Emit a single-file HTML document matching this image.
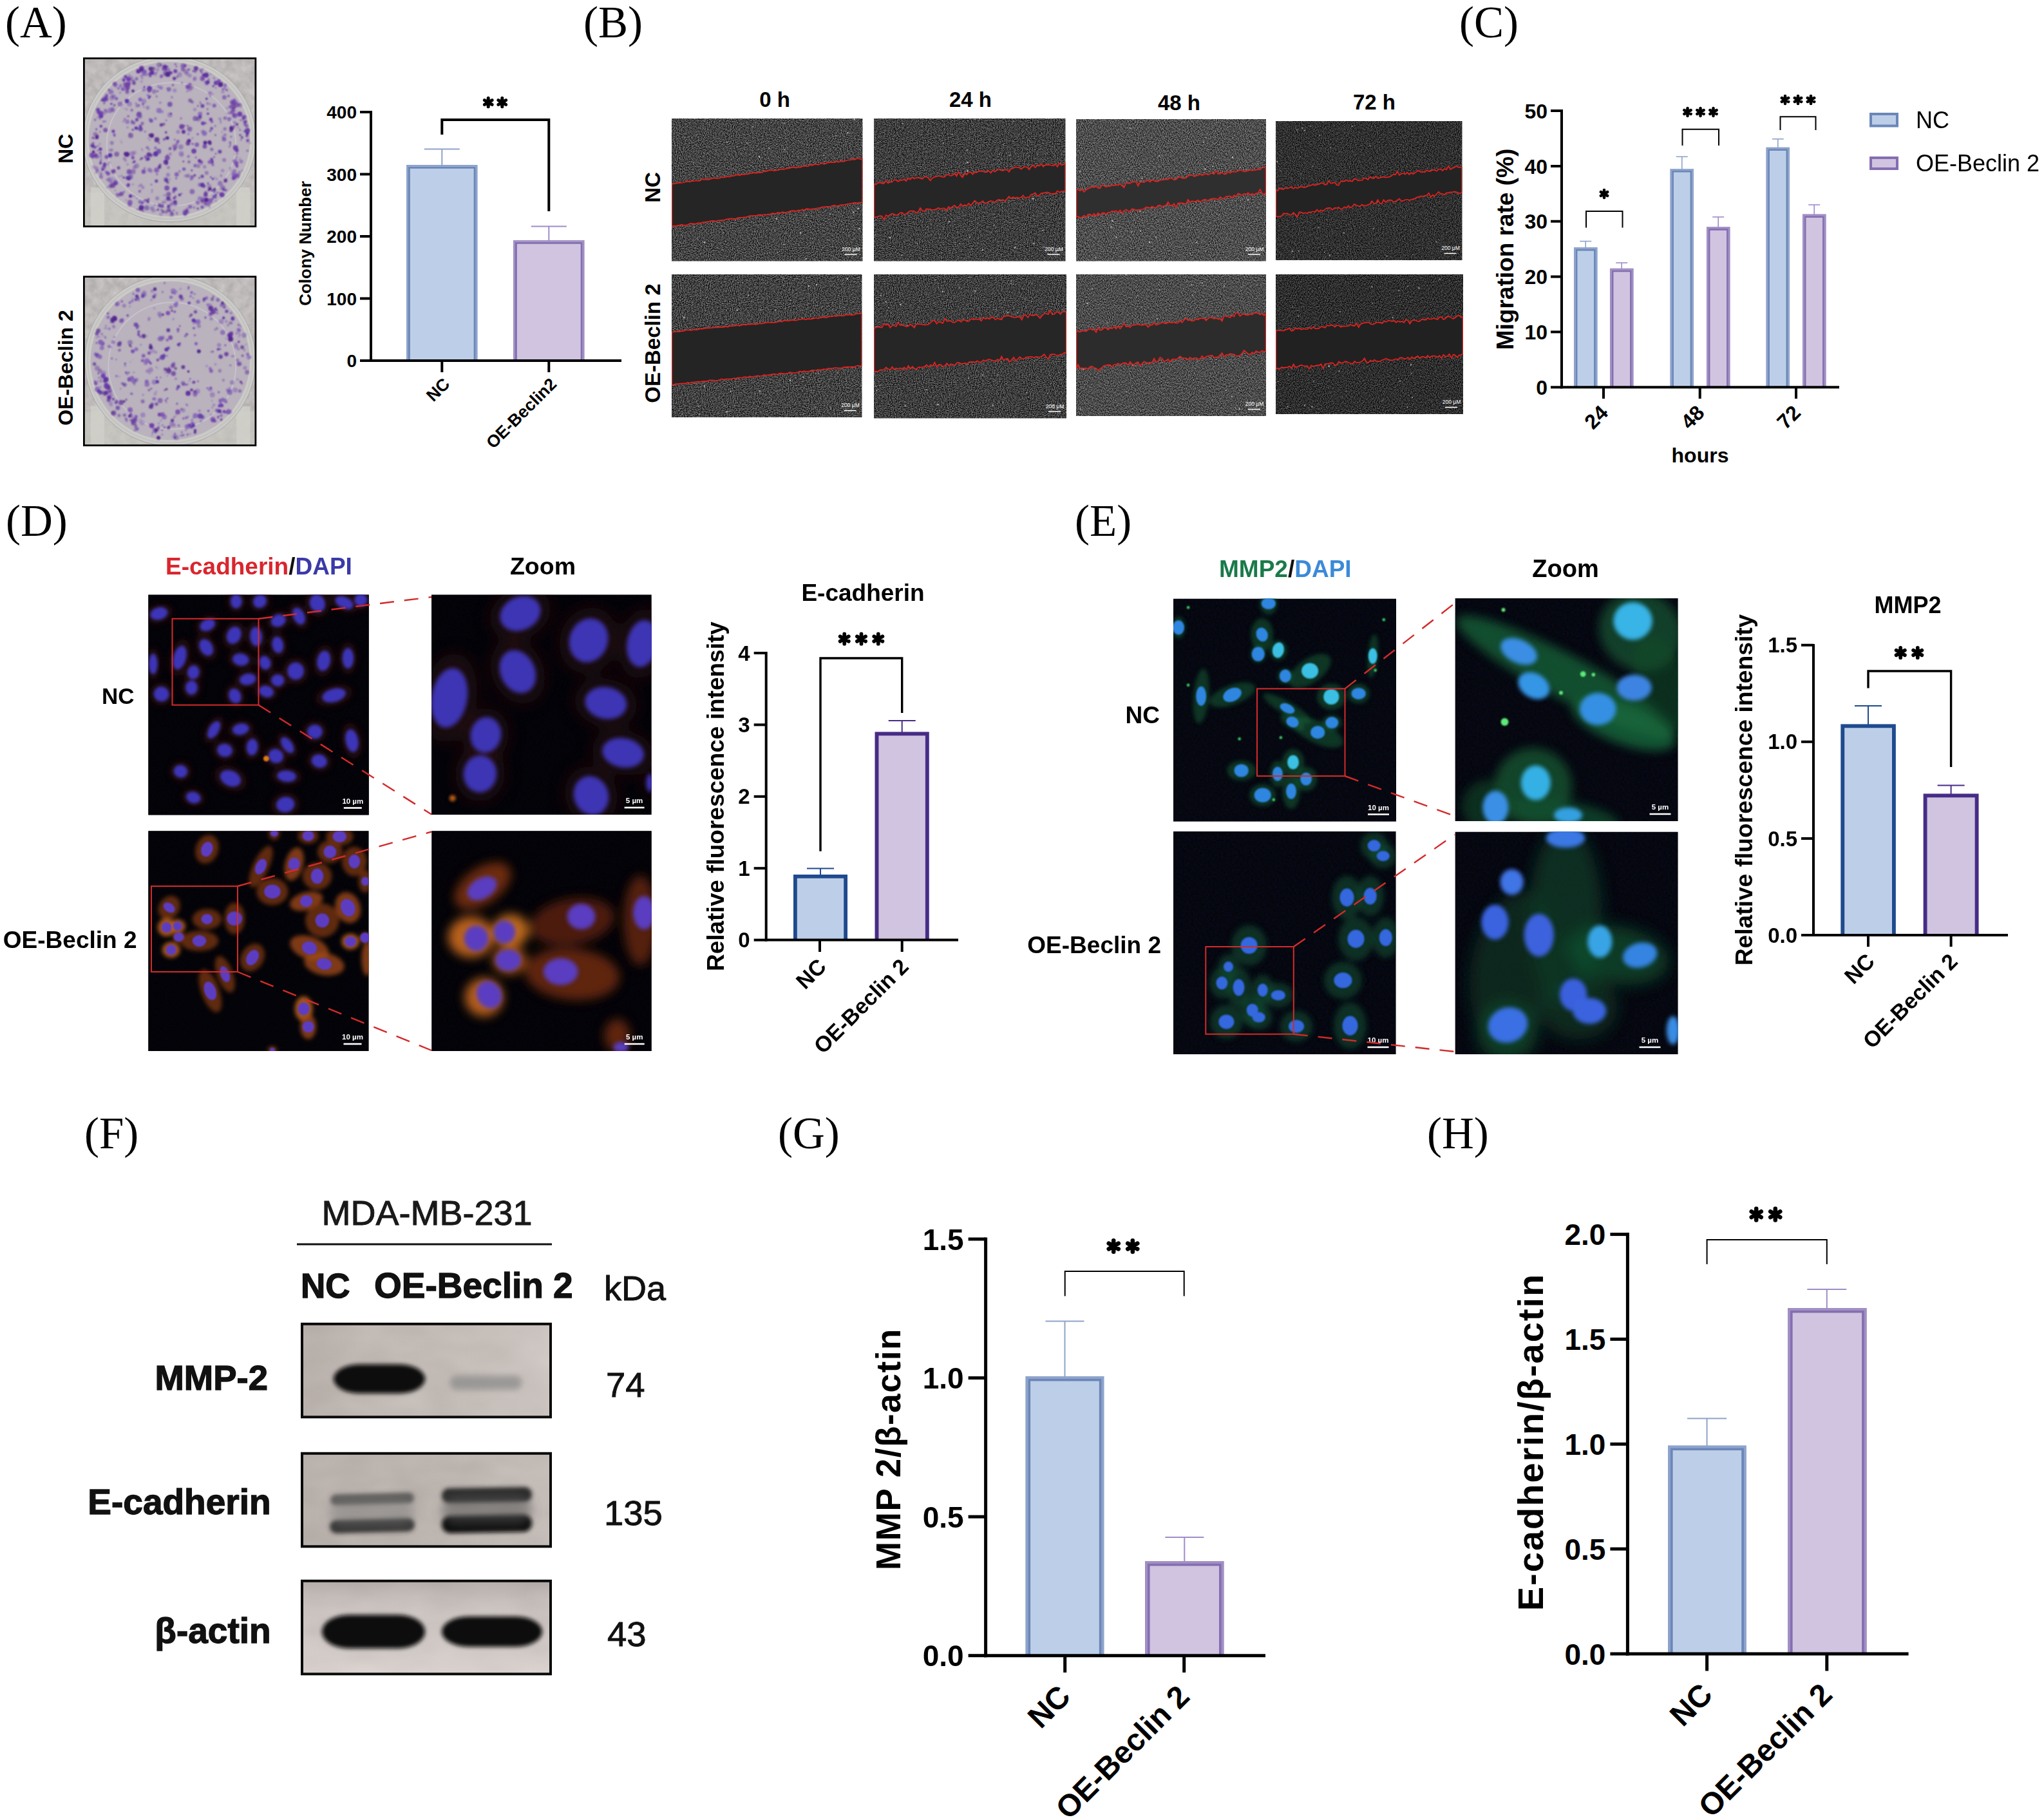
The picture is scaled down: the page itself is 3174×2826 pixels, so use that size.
<!DOCTYPE html>
<html><head><meta charset="utf-8"><title>Figure</title>
<style>html,body{margin:0;padding:0;background:#fff}svg{display:block}text{font-kerning:normal}</style>
</head><body>
<svg width="3174" height="2826" viewBox="0 0 3174 2826">
<rect x="0" y="0" width="3174" height="2826" fill="#ffffff"/>
<defs>
<filter id="nzA" x="0" y="0" width="100%" height="100%" color-interpolation-filters="sRGB">
  <feTurbulence type="fractalNoise" baseFrequency="0.75" numOctaves="2" seed="3"/>
  <feColorMatrix type="matrix" values="2.4 0 0 0 -0.88  2.4 0 0 0 -0.88  2.4 0 0 0 -0.88  0 0 0 0 1"/>
</filter>
<filter id="nzB" x="0" y="0" width="100%" height="100%" color-interpolation-filters="sRGB">
  <feTurbulence type="fractalNoise" baseFrequency="0.75" numOctaves="2" seed="11"/>
  <feColorMatrix type="matrix" values="2.0 0 0 0 -0.76  2.0 0 0 0 -0.76  2.0 0 0 0 -0.76  0 0 0 0 1"/>
</filter>
<filter id="nzC" x="0" y="0" width="100%" height="100%" color-interpolation-filters="sRGB">
  <feTurbulence type="fractalNoise" baseFrequency="0.75" numOctaves="2" seed="23"/>
  <feColorMatrix type="matrix" values="2.6 0 0 0 -0.92  2.6 0 0 0 -0.92  2.6 0 0 0 -0.92  0 0 0 0 1"/>
</filter>
<filter id="nzDark" x="0" y="0" width="100%" height="100%" color-interpolation-filters="sRGB">
  <feTurbulence type="fractalNoise" baseFrequency="0.35" numOctaves="2" seed="5"/>
  <feColorMatrix type="matrix" values="0.035 0 0 0 0  0 0.03 0 0 0  0 0 0.075 0 0  0 0 0 0 1"/>
</filter>
<filter id="nzDarkG" x="0" y="0" width="100%" height="100%" color-interpolation-filters="sRGB">
  <feTurbulence type="fractalNoise" baseFrequency="0.30" numOctaves="2" seed="8"/>
  <feColorMatrix type="matrix" values="0.05 0 0 0 0  0 0.065 0 0 0  0 0 0.14 0 0  0 0 0 0 1"/>
</filter>
<filter id="nzDish" x="0" y="0" width="100%" height="100%" color-interpolation-filters="sRGB">
  <feTurbulence type="fractalNoise" baseFrequency="0.08" numOctaves="3" seed="2"/>
  <feColorMatrix type="matrix" values="0.3 0 0 0 0.60  0.3 0 0 0 0.59  0.3 0 0 0 0.59  0 0 0 0 1"/>
</filter>
<filter id="nzBlot" x="0" y="0" width="100%" height="100%" color-interpolation-filters="sRGB">
  <feTurbulence type="fractalNoise" baseFrequency="0.015 0.03" numOctaves="2" seed="4"/>
  <feColorMatrix type="matrix" values="0.5 0 0 0 0.55  0.5 0 0 0 0.55  0.5 0 0 0 0.55  0 0 0 0 1"/>
</filter>
<filter id="b1" x="-30%" y="-30%" width="160%" height="160%"><feGaussianBlur stdDeviation="1"/></filter>
<filter id="b2" x="-30%" y="-30%" width="160%" height="160%"><feGaussianBlur stdDeviation="2"/></filter>
<filter id="b3" x="-30%" y="-30%" width="160%" height="160%"><feGaussianBlur stdDeviation="3.2"/></filter>
<filter id="b5" x="-40%" y="-40%" width="180%" height="180%"><feGaussianBlur stdDeviation="5"/></filter>
<filter id="b8" x="-50%" y="-50%" width="200%" height="200%"><feGaussianBlur stdDeviation="8"/></filter>
<filter id="b12" x="-50%" y="-50%" width="200%" height="200%"><feGaussianBlur stdDeviation="12"/></filter>
</defs>
<text x="8.0" y="58.0" font-family='"Liberation Serif", serif' font-size="69" font-weight="normal" text-anchor="start" fill="#000" >(A)</text>
<clipPath id="cdA1"><rect x="130" y="90" width="266.5" height="261"/></clipPath>
<g clip-path="url(#cdA1)">
<rect x="130.0" y="90.0" width="266.5" height="261.0" fill="#bab7b5" stroke="none" stroke-width="0" />
<rect x="130.0" y="90.0" width="266.5" height="261.0" fill="#000" stroke="none" stroke-width="0" filter="url(#nzDish)" opacity="0.5"/>
<rect x="130.0" y="298.8" width="266.5" height="52.2" fill="#c9c9c2" stroke="none" stroke-width="0" opacity="0.6"/>
<rect x="140.7" y="291.0" width="21.3" height="60.0" fill="#d2d2cb" stroke="none" stroke-width="0" opacity="0.75"/>
<rect x="367.2" y="291.0" width="21.3" height="60.0" fill="#d2d2cb" stroke="none" stroke-width="0" opacity="0.75"/>
<ellipse cx="263.0" cy="216.0" rx="134.4" ry="128.8" fill="#cbcbc5" stroke="#a9a5ae" stroke-width="1"/>
<ellipse cx="263.0" cy="216.0" rx="129.9" ry="124.3" fill="none" stroke="#c3c0c6" stroke-width="2"/>
<ellipse cx="263.0" cy="216.0" rx="125.4" ry="119.8" fill="#bab3be"/>
<ellipse cx="266.0" cy="224.0" rx="100.3" ry="95.8" fill="none" stroke="#d2cdd6" stroke-width="2" opacity="0.55"/>
<g filter="url(#b1)"><circle cx="222.0" cy="161.4" r="1.5" fill="#6331a0" opacity="1.0"/><circle cx="291.9" cy="222.6" r="3.4" fill="#6331a0" opacity="0.85"/><circle cx="292.3" cy="219.1" r="2.7" fill="#6331a0" opacity="0.68"/><circle cx="161.7" cy="160.4" r="1.2" fill="#5c34a6" opacity="1.0"/><circle cx="339.9" cy="125.5" r="2.6" fill="#7040ac" opacity="0.85"/><circle cx="224.3" cy="134.9" r="1.5" fill="#5c34a6" opacity="1.0"/><circle cx="332.6" cy="243.7" r="1.2" fill="#7040ac" opacity="1.0"/><circle cx="363.9" cy="165.7" r="3.0" fill="#7040ac" opacity="0.7"/><circle cx="170.8" cy="171.5" r="3.9" fill="#8460b8" opacity="0.7"/><circle cx="174.7" cy="168.5" r="3.1" fill="#8460b8" opacity="0.56"/><circle cx="155.2" cy="223.2" r="1.2" fill="#5c34a6" opacity="0.4"/><circle cx="224.1" cy="112.0" r="3.9" fill="#8460b8" opacity="1.0"/><circle cx="220.8" cy="110.2" r="3.1" fill="#8460b8" opacity="0.80"/><circle cx="250.8" cy="118.2" r="2.6" fill="#8460b8" opacity="1.0"/><circle cx="249.9" cy="119.5" r="2.1" fill="#8460b8" opacity="0.80"/><circle cx="272.1" cy="231.4" r="1.5" fill="#6331a0" opacity="0.85"/><circle cx="270.4" cy="233.3" r="1.2" fill="#6331a0" opacity="0.68"/><circle cx="320.4" cy="310.5" r="3.4" fill="#55288f" opacity="1.0"/><circle cx="167.9" cy="269.5" r="3.0" fill="#7040ac" opacity="0.85"/><circle cx="165.3" cy="267.4" r="2.4" fill="#7040ac" opacity="0.68"/><circle cx="212.4" cy="185.7" r="2.6" fill="#6331a0" opacity="0.7"/><circle cx="212.7" cy="186.6" r="2.1" fill="#6331a0" opacity="0.56"/><circle cx="307.2" cy="164.5" r="1.2" fill="#5c34a6" opacity="0.85"/><circle cx="211.1" cy="160.3" r="1.2" fill="#6331a0" opacity="0.55"/><circle cx="196.9" cy="169.7" r="1.5" fill="#5c34a6" opacity="0.4"/><circle cx="193.7" cy="168.6" r="1.2" fill="#5c34a6" opacity="0.32"/><circle cx="332.3" cy="305.4" r="2.6" fill="#5c34a6" opacity="0.7"/><circle cx="142.4" cy="241.0" r="3.9" fill="#6331a0" opacity="0.7"/><circle cx="144.4" cy="242.9" r="3.1" fill="#6331a0" opacity="0.56"/><circle cx="294.9" cy="321.3" r="3.0" fill="#5c34a6" opacity="0.55"/><circle cx="196.0" cy="135.6" r="1.5" fill="#5c34a6" opacity="0.7"/><circle cx="283.9" cy="107.9" r="3.0" fill="#5c34a6" opacity="0.55"/><circle cx="313.0" cy="111.8" r="2.2" fill="#5c34a6" opacity="0.55"/><circle cx="145.1" cy="235.8" r="2.2" fill="#55288f" opacity="1.0"/><circle cx="182.1" cy="304.1" r="2.2" fill="#7040ac" opacity="0.4"/><circle cx="334.5" cy="209.7" r="1.2" fill="#55288f" opacity="0.85"/><circle cx="287.6" cy="102.0" r="2.2" fill="#7040ac" opacity="0.85"/><circle cx="355.9" cy="184.8" r="3.4" fill="#8460b8" opacity="0.85"/><circle cx="299.0" cy="214.5" r="1.2" fill="#5c34a6" opacity="0.55"/><circle cx="314.3" cy="122.0" r="3.9" fill="#7040ac" opacity="0.7"/><circle cx="307.0" cy="208.2" r="1.5" fill="#7040ac" opacity="1.0"/><circle cx="261.7" cy="320.3" r="2.6" fill="#7040ac" opacity="1.0"/><circle cx="298.6" cy="157.8" r="1.2" fill="#8460b8" opacity="0.7"/><circle cx="315.0" cy="121.7" r="1.8" fill="#7040ac" opacity="1.0"/><circle cx="269.9" cy="230.7" r="1.2" fill="#7040ac" opacity="0.55"/><circle cx="270.8" cy="227.7" r="1.0" fill="#7040ac" opacity="0.44"/><circle cx="148.7" cy="228.1" r="1.5" fill="#6331a0" opacity="1.0"/><circle cx="146.9" cy="230.2" r="1.2" fill="#6331a0" opacity="0.80"/><circle cx="268.5" cy="132.1" r="1.5" fill="#55288f" opacity="0.85"/><circle cx="232.1" cy="137.5" r="3.9" fill="#5c34a6" opacity="1.0"/><circle cx="175.9" cy="203.8" r="2.6" fill="#7040ac" opacity="1.0"/><circle cx="220.3" cy="231.5" r="1.5" fill="#8460b8" opacity="0.55"/><circle cx="221.6" cy="233.8" r="1.2" fill="#8460b8" opacity="0.44"/><circle cx="238.3" cy="106.8" r="3.0" fill="#55288f" opacity="0.55"/><circle cx="379.1" cy="181.9" r="3.4" fill="#7040ac" opacity="0.85"/><circle cx="160.6" cy="260.9" r="3.4" fill="#8460b8" opacity="0.7"/><circle cx="159.1" cy="262.7" r="2.7" fill="#8460b8" opacity="0.56"/><circle cx="247.0" cy="222.0" r="1.2" fill="#55288f" opacity="0.85"/><circle cx="356.6" cy="165.8" r="2.2" fill="#6331a0" opacity="0.4"/><circle cx="352.9" cy="168.0" r="1.8" fill="#6331a0" opacity="0.32"/><circle cx="206.3" cy="244.8" r="2.6" fill="#7040ac" opacity="0.85"/><circle cx="221.8" cy="290.9" r="2.6" fill="#7040ac" opacity="0.4"/><circle cx="300.3" cy="110.2" r="1.5" fill="#7040ac" opacity="1.0"/><circle cx="303.2" cy="109.8" r="1.2" fill="#7040ac" opacity="0.80"/><circle cx="327.4" cy="185.4" r="2.6" fill="#7040ac" opacity="1.0"/><circle cx="329.1" cy="189.0" r="2.1" fill="#7040ac" opacity="0.80"/><circle cx="314.0" cy="321.5" r="2.6" fill="#5c34a6" opacity="0.7"/><circle cx="292.1" cy="273.1" r="3.0" fill="#55288f" opacity="0.4"/><circle cx="288.3" cy="273.2" r="2.4" fill="#55288f" opacity="0.32"/><circle cx="266.3" cy="332.7" r="3.9" fill="#8460b8" opacity="0.4"/><circle cx="219.3" cy="325.8" r="2.2" fill="#55288f" opacity="0.55"/><circle cx="222.4" cy="327.7" r="1.8" fill="#55288f" opacity="0.44"/><circle cx="327.0" cy="115.5" r="1.2" fill="#55288f" opacity="0.4"/><circle cx="150.8" cy="212.0" r="2.6" fill="#7040ac" opacity="1.0"/><circle cx="259.9" cy="240.9" r="1.2" fill="#55288f" opacity="0.7"/><circle cx="267.2" cy="332.3" r="2.6" fill="#55288f" opacity="0.55"/><circle cx="265.9" cy="329.0" r="2.1" fill="#55288f" opacity="0.44"/><circle cx="263.7" cy="278.3" r="1.2" fill="#55288f" opacity="0.4"/><circle cx="226.2" cy="243.7" r="2.6" fill="#7040ac" opacity="0.7"/><circle cx="229.8" cy="246.5" r="2.1" fill="#7040ac" opacity="0.56"/><circle cx="164.8" cy="150.9" r="3.0" fill="#7040ac" opacity="0.85"/><circle cx="165.7" cy="148.0" r="2.4" fill="#7040ac" opacity="0.68"/><circle cx="159.5" cy="263.1" r="1.8" fill="#5c34a6" opacity="1.0"/><circle cx="219.7" cy="118.0" r="2.2" fill="#6331a0" opacity="0.4"/><circle cx="220.8" cy="121.6" r="1.8" fill="#6331a0" opacity="0.32"/><circle cx="335.0" cy="238.7" r="1.2" fill="#7040ac" opacity="1.0"/><circle cx="144.1" cy="213.9" r="1.5" fill="#6331a0" opacity="1.0"/><circle cx="274.5" cy="330.8" r="2.2" fill="#8460b8" opacity="0.55"/><circle cx="232.1" cy="149.3" r="1.2" fill="#7040ac" opacity="1.0"/><circle cx="229.3" cy="147.3" r="1.0" fill="#7040ac" opacity="0.80"/><circle cx="166.0" cy="174.0" r="1.2" fill="#6331a0" opacity="0.85"/><circle cx="287.6" cy="330.0" r="3.9" fill="#5c34a6" opacity="0.7"/><circle cx="287.3" cy="332.1" r="3.1" fill="#5c34a6" opacity="0.56"/><circle cx="216.5" cy="324.9" r="1.5" fill="#6331a0" opacity="0.85"/><circle cx="213.1" cy="324.9" r="1.2" fill="#6331a0" opacity="0.68"/><circle cx="360.3" cy="162.3" r="2.2" fill="#5c34a6" opacity="0.4"/><circle cx="362.3" cy="160.4" r="1.8" fill="#5c34a6" opacity="0.32"/><circle cx="212.9" cy="163.9" r="2.6" fill="#55288f" opacity="0.4"/><circle cx="216.0" cy="163.8" r="2.1" fill="#55288f" opacity="0.32"/><circle cx="243.6" cy="217.0" r="3.9" fill="#55288f" opacity="0.85"/><circle cx="320.8" cy="268.4" r="3.0" fill="#55288f" opacity="0.4"/><circle cx="364.3" cy="167.8" r="1.2" fill="#55288f" opacity="0.7"/><circle cx="188.6" cy="301.1" r="3.4" fill="#6331a0" opacity="0.7"/><circle cx="185.0" cy="302.4" r="2.7" fill="#6331a0" opacity="0.56"/><circle cx="359.8" cy="199.0" r="3.4" fill="#55288f" opacity="1.0"/><circle cx="358.8" cy="202.6" r="2.7" fill="#55288f" opacity="0.80"/><circle cx="362.9" cy="158.2" r="2.2" fill="#6331a0" opacity="0.4"/><circle cx="314.0" cy="273.8" r="2.6" fill="#6331a0" opacity="0.85"/><circle cx="184.2" cy="260.6" r="2.6" fill="#55288f" opacity="0.7"/><circle cx="195.0" cy="119.2" r="2.6" fill="#5c34a6" opacity="0.85"/><circle cx="301.1" cy="234.6" r="3.9" fill="#7040ac" opacity="1.0"/><circle cx="155.0" cy="184.0" r="2.2" fill="#7040ac" opacity="0.4"/><circle cx="151.7" cy="182.0" r="1.8" fill="#7040ac" opacity="0.32"/><circle cx="310.7" cy="177.0" r="3.4" fill="#8460b8" opacity="0.85"/><circle cx="263.8" cy="161.9" r="3.9" fill="#5c34a6" opacity="0.7"/><circle cx="232.9" cy="185.5" r="2.2" fill="#55288f" opacity="0.4"/><circle cx="193.3" cy="246.4" r="2.6" fill="#7040ac" opacity="0.4"/><circle cx="195.0" cy="249.6" r="2.1" fill="#7040ac" opacity="0.32"/><circle cx="348.0" cy="216.1" r="3.4" fill="#8460b8" opacity="1.0"/><circle cx="297.8" cy="264.5" r="1.5" fill="#6331a0" opacity="0.85"/><circle cx="359.0" cy="165.5" r="2.6" fill="#55288f" opacity="0.55"/><circle cx="229.7" cy="313.3" r="2.2" fill="#55288f" opacity="0.85"/><circle cx="230.5" cy="309.4" r="1.8" fill="#55288f" opacity="0.68"/><circle cx="328.6" cy="199.5" r="2.2" fill="#5c34a6" opacity="0.85"/><circle cx="326.6" cy="203.2" r="1.8" fill="#5c34a6" opacity="0.68"/><circle cx="365.7" cy="229.5" r="3.9" fill="#6331a0" opacity="0.85"/><circle cx="367.1" cy="232.9" r="3.1" fill="#6331a0" opacity="0.68"/><circle cx="232.1" cy="263.8" r="3.4" fill="#8460b8" opacity="0.7"/><circle cx="234.5" cy="265.7" r="2.7" fill="#8460b8" opacity="0.56"/><circle cx="349.2" cy="200.2" r="2.6" fill="#7040ac" opacity="0.55"/><circle cx="186.4" cy="144.1" r="1.8" fill="#8460b8" opacity="0.55"/><circle cx="178.3" cy="280.0" r="2.2" fill="#5c34a6" opacity="0.4"/><circle cx="174.7" cy="276.5" r="1.8" fill="#5c34a6" opacity="0.32"/><circle cx="249.8" cy="100.7" r="1.5" fill="#55288f" opacity="0.55"/><circle cx="251.1" cy="100.9" r="1.2" fill="#55288f" opacity="0.44"/><circle cx="250.0" cy="136.3" r="3.0" fill="#8460b8" opacity="0.7"/><circle cx="246.0" cy="134.5" r="2.4" fill="#8460b8" opacity="0.56"/><circle cx="367.9" cy="193.1" r="2.2" fill="#55288f" opacity="0.85"/><circle cx="233.3" cy="117.9" r="2.2" fill="#5c34a6" opacity="0.7"/><circle cx="306.3" cy="184.7" r="1.2" fill="#7040ac" opacity="0.85"/><circle cx="368.6" cy="238.4" r="1.5" fill="#55288f" opacity="0.4"/><circle cx="365.1" cy="239.3" r="1.2" fill="#55288f" opacity="0.32"/><circle cx="334.3" cy="195.6" r="1.2" fill="#55288f" opacity="0.7"/><circle cx="302.8" cy="111.7" r="1.5" fill="#7040ac" opacity="0.4"/><circle cx="304.5" cy="111.5" r="1.2" fill="#7040ac" opacity="0.32"/><circle cx="311.3" cy="109.0" r="1.8" fill="#7040ac" opacity="0.85"/><circle cx="314.7" cy="107.4" r="1.4" fill="#7040ac" opacity="0.68"/><circle cx="271.9" cy="313.8" r="3.0" fill="#55288f" opacity="0.85"/><circle cx="188.9" cy="273.3" r="1.8" fill="#8460b8" opacity="0.55"/><circle cx="185.2" cy="273.7" r="1.4" fill="#8460b8" opacity="0.44"/><circle cx="384.0" cy="207.1" r="2.6" fill="#6331a0" opacity="1.0"/><circle cx="383.4" cy="211.0" r="2.1" fill="#6331a0" opacity="0.80"/><circle cx="344.7" cy="302.3" r="3.9" fill="#7040ac" opacity="1.0"/><circle cx="321.1" cy="129.6" r="2.6" fill="#5c34a6" opacity="0.7"/><circle cx="319.2" cy="127.6" r="2.1" fill="#5c34a6" opacity="0.56"/><circle cx="270.4" cy="293.9" r="2.6" fill="#7040ac" opacity="1.0"/><circle cx="269.6" cy="297.8" r="2.1" fill="#7040ac" opacity="0.80"/><circle cx="294.6" cy="137.6" r="3.9" fill="#6331a0" opacity="0.4"/><circle cx="297.6" cy="135.4" r="3.1" fill="#6331a0" opacity="0.32"/><circle cx="322.2" cy="160.8" r="2.2" fill="#6331a0" opacity="0.4"/><circle cx="326.0" cy="161.5" r="1.8" fill="#6331a0" opacity="0.32"/><circle cx="342.4" cy="131.2" r="3.9" fill="#55288f" opacity="1.0"/><circle cx="197.6" cy="142.9" r="3.0" fill="#6331a0" opacity="0.55"/><circle cx="261.6" cy="260.3" r="2.2" fill="#55288f" opacity="0.4"/><circle cx="329.5" cy="249.8" r="1.2" fill="#5c34a6" opacity="0.85"/><circle cx="329.3" cy="308.6" r="1.5" fill="#8460b8" opacity="0.55"/><circle cx="235.0" cy="286.6" r="1.2" fill="#5c34a6" opacity="0.7"/><circle cx="271.3" cy="140.5" r="3.0" fill="#8460b8" opacity="0.55"/><circle cx="308.4" cy="185.1" r="3.4" fill="#6331a0" opacity="0.4"/><circle cx="323.6" cy="310.6" r="1.2" fill="#5c34a6" opacity="0.4"/><circle cx="326.1" cy="309.7" r="1.0" fill="#5c34a6" opacity="0.32"/><circle cx="319.1" cy="316.0" r="3.0" fill="#7040ac" opacity="0.7"/><circle cx="144.4" cy="222.8" r="2.2" fill="#7040ac" opacity="0.7"/><circle cx="176.4" cy="149.6" r="3.4" fill="#5c34a6" opacity="0.4"/><circle cx="335.4" cy="128.7" r="3.4" fill="#7040ac" opacity="1.0"/><circle cx="220.3" cy="245.7" r="1.8" fill="#55288f" opacity="0.85"/><circle cx="218.3" cy="247.5" r="1.4" fill="#55288f" opacity="0.68"/><circle cx="154.9" cy="173.3" r="1.2" fill="#6331a0" opacity="0.7"/><circle cx="192.2" cy="124.1" r="2.6" fill="#7040ac" opacity="1.0"/><circle cx="170.2" cy="252.2" r="1.2" fill="#5c34a6" opacity="0.4"/><circle cx="201.1" cy="161.4" r="3.9" fill="#8460b8" opacity="0.55"/><circle cx="241.8" cy="238.9" r="3.9" fill="#5c34a6" opacity="1.0"/><circle cx="285.0" cy="204.8" r="3.0" fill="#6331a0" opacity="1.0"/><circle cx="285.0" cy="203.8" r="2.4" fill="#6331a0" opacity="0.80"/><circle cx="338.1" cy="126.0" r="1.5" fill="#7040ac" opacity="0.55"/><circle cx="325.0" cy="316.4" r="2.2" fill="#55288f" opacity="0.4"/><circle cx="216.1" cy="177.2" r="3.9" fill="#55288f" opacity="0.55"/><circle cx="253.4" cy="328.8" r="2.2" fill="#55288f" opacity="0.7"/><circle cx="250.9" cy="326.1" r="1.8" fill="#55288f" opacity="0.56"/><circle cx="322.4" cy="317.4" r="2.6" fill="#5c34a6" opacity="0.4"/><circle cx="325.3" cy="321.1" r="2.1" fill="#5c34a6" opacity="0.32"/><circle cx="231.8" cy="142.4" r="1.5" fill="#5c34a6" opacity="0.7"/><circle cx="373.0" cy="209.7" r="1.8" fill="#55288f" opacity="0.7"/><circle cx="259.7" cy="137.6" r="1.2" fill="#5c34a6" opacity="0.7"/><circle cx="260.8" cy="141.5" r="1.0" fill="#5c34a6" opacity="0.56"/><circle cx="374.0" cy="217.2" r="1.2" fill="#7040ac" opacity="0.55"/><circle cx="375.0" cy="216.5" r="1.0" fill="#7040ac" opacity="0.44"/><circle cx="188.7" cy="221.2" r="1.2" fill="#6331a0" opacity="0.4"/><circle cx="187.5" cy="218.0" r="1.0" fill="#6331a0" opacity="0.32"/><circle cx="199.1" cy="180.6" r="1.8" fill="#55288f" opacity="0.55"/><circle cx="341.5" cy="184.5" r="2.2" fill="#8460b8" opacity="0.55"/><circle cx="342.6" cy="187.4" r="1.8" fill="#8460b8" opacity="0.44"/><circle cx="253.2" cy="319.9" r="1.2" fill="#5c34a6" opacity="0.4"/><circle cx="186.6" cy="161.6" r="3.9" fill="#7040ac" opacity="0.55"/><circle cx="241.5" cy="229.8" r="2.2" fill="#6331a0" opacity="0.55"/><circle cx="240.9" cy="184.1" r="2.2" fill="#8460b8" opacity="0.55"/><circle cx="241.8" cy="184.2" r="1.8" fill="#8460b8" opacity="0.44"/><circle cx="223.4" cy="312.5" r="2.6" fill="#8460b8" opacity="0.4"/><circle cx="146.9" cy="240.6" r="3.9" fill="#7040ac" opacity="0.55"/><circle cx="308.1" cy="258.2" r="2.6" fill="#55288f" opacity="0.4"/><circle cx="383.1" cy="195.5" r="2.6" fill="#6331a0" opacity="0.55"/><circle cx="264.3" cy="230.5" r="2.2" fill="#55288f" opacity="0.55"/><circle cx="263.4" cy="231.3" r="1.8" fill="#55288f" opacity="0.44"/><circle cx="384.3" cy="202.6" r="3.9" fill="#5c34a6" opacity="0.85"/><circle cx="244.8" cy="108.1" r="2.6" fill="#8460b8" opacity="0.55"/><circle cx="369.4" cy="233.4" r="1.5" fill="#7040ac" opacity="1.0"/><circle cx="366.6" cy="229.6" r="1.2" fill="#7040ac" opacity="0.80"/><circle cx="224.8" cy="110.5" r="1.2" fill="#5c34a6" opacity="0.4"/><circle cx="203.9" cy="121.7" r="3.4" fill="#7040ac" opacity="0.4"/><circle cx="200.8" cy="118.0" r="2.7" fill="#7040ac" opacity="0.32"/><circle cx="316.1" cy="116.5" r="2.6" fill="#6331a0" opacity="0.85"/><circle cx="318.4" cy="117.7" r="2.1" fill="#6331a0" opacity="0.68"/><circle cx="258.3" cy="279.9" r="3.0" fill="#55288f" opacity="0.7"/><circle cx="260.4" cy="283.2" r="2.4" fill="#55288f" opacity="0.56"/><circle cx="155.9" cy="231.5" r="2.6" fill="#6331a0" opacity="1.0"/><circle cx="280.8" cy="228.1" r="3.9" fill="#5c34a6" opacity="0.4"/><circle cx="236.2" cy="323.6" r="3.4" fill="#5c34a6" opacity="0.4"/><circle cx="238.3" cy="327.4" r="2.7" fill="#5c34a6" opacity="0.32"/><circle cx="254.9" cy="216.4" r="1.8" fill="#5c34a6" opacity="0.85"/><circle cx="257.5" cy="214.5" r="1.4" fill="#5c34a6" opacity="0.68"/><circle cx="289.4" cy="327.8" r="2.2" fill="#7040ac" opacity="0.85"/><circle cx="290.5" cy="324.5" r="1.8" fill="#7040ac" opacity="0.68"/><circle cx="180.0" cy="133.7" r="3.0" fill="#8460b8" opacity="0.4"/><circle cx="194.2" cy="130.3" r="3.0" fill="#55288f" opacity="0.55"/><circle cx="197.4" cy="130.3" r="2.4" fill="#55288f" opacity="0.44"/><circle cx="156.7" cy="241.5" r="1.2" fill="#5c34a6" opacity="0.7"/><circle cx="153.9" cy="244.2" r="1.0" fill="#5c34a6" opacity="0.56"/><circle cx="162.5" cy="254.9" r="2.6" fill="#7040ac" opacity="1.0"/><circle cx="162.2" cy="257.9" r="2.1" fill="#7040ac" opacity="0.80"/><circle cx="243.8" cy="270.6" r="1.8" fill="#7040ac" opacity="0.55"/><circle cx="271.3" cy="307.3" r="2.2" fill="#6331a0" opacity="0.7"/><circle cx="272.6" cy="304.8" r="1.8" fill="#6331a0" opacity="0.56"/><circle cx="247.6" cy="259.4" r="2.6" fill="#55288f" opacity="0.85"/><circle cx="248.7" cy="256.3" r="2.1" fill="#55288f" opacity="0.68"/><circle cx="317.9" cy="227.3" r="3.4" fill="#7040ac" opacity="0.85"/><circle cx="324.7" cy="289.0" r="3.4" fill="#7040ac" opacity="0.4"/><circle cx="262.5" cy="138.6" r="3.4" fill="#5c34a6" opacity="0.55"/><circle cx="165.4" cy="243.8" r="3.0" fill="#6331a0" opacity="0.7"/><circle cx="248.9" cy="159.5" r="1.8" fill="#8460b8" opacity="0.7"/><circle cx="202.2" cy="123.0" r="1.8" fill="#6331a0" opacity="0.7"/><circle cx="160.9" cy="188.7" r="1.8" fill="#5c34a6" opacity="0.55"/><circle cx="163.7" cy="188.4" r="1.4" fill="#5c34a6" opacity="0.44"/><circle cx="318.6" cy="221.4" r="3.0" fill="#55288f" opacity="1.0"/><circle cx="214.8" cy="110.7" r="3.4" fill="#6331a0" opacity="1.0"/><circle cx="261.5" cy="308.5" r="3.4" fill="#6331a0" opacity="0.85"/><circle cx="260.9" cy="307.8" r="2.7" fill="#6331a0" opacity="0.68"/><circle cx="253.2" cy="314.2" r="2.2" fill="#8460b8" opacity="0.7"/><circle cx="291.5" cy="134.8" r="3.4" fill="#7040ac" opacity="0.85"/><circle cx="294.9" cy="131.3" r="2.7" fill="#7040ac" opacity="0.68"/><circle cx="193.8" cy="133.8" r="2.2" fill="#55288f" opacity="0.55"/><circle cx="375.8" cy="213.4" r="1.8" fill="#55288f" opacity="0.85"/><circle cx="380.2" cy="203.9" r="1.8" fill="#6331a0" opacity="0.85"/><circle cx="200.6" cy="129.0" r="3.0" fill="#8460b8" opacity="0.85"/><circle cx="199.0" cy="287.7" r="2.6" fill="#6331a0" opacity="0.85"/><circle cx="199.5" cy="286.3" r="2.1" fill="#6331a0" opacity="0.68"/><circle cx="195.5" cy="310.7" r="1.2" fill="#7040ac" opacity="0.4"/><circle cx="343.4" cy="272.9" r="1.8" fill="#7040ac" opacity="0.55"/><circle cx="322.9" cy="176.6" r="1.8" fill="#5c34a6" opacity="1.0"/><circle cx="187.6" cy="132.6" r="2.6" fill="#8460b8" opacity="0.55"/><circle cx="346.9" cy="143.2" r="1.5" fill="#8460b8" opacity="0.7"/><circle cx="344.0" cy="143.2" r="1.2" fill="#8460b8" opacity="0.56"/><circle cx="281.4" cy="238.5" r="3.9" fill="#8460b8" opacity="0.55"/><circle cx="282.2" cy="240.4" r="3.1" fill="#8460b8" opacity="0.44"/><circle cx="246.5" cy="171.5" r="3.9" fill="#8460b8" opacity="0.7"/><circle cx="193.5" cy="138.7" r="1.2" fill="#5c34a6" opacity="0.4"/><circle cx="195.4" cy="142.7" r="1.0" fill="#5c34a6" opacity="0.32"/><circle cx="152.5" cy="226.5" r="1.8" fill="#7040ac" opacity="0.4"/><circle cx="326.1" cy="144.7" r="3.0" fill="#8460b8" opacity="0.7"/><circle cx="202.6" cy="304.4" r="2.6" fill="#6331a0" opacity="1.0"/><circle cx="150.4" cy="213.5" r="2.6" fill="#55288f" opacity="1.0"/><circle cx="217.4" cy="313.1" r="2.6" fill="#5c34a6" opacity="0.55"/><circle cx="156.9" cy="180.0" r="3.4" fill="#5c34a6" opacity="1.0"/><circle cx="155.3" cy="176.1" r="2.7" fill="#5c34a6" opacity="0.80"/><circle cx="199.4" cy="122.9" r="3.4" fill="#7040ac" opacity="1.0"/><circle cx="219.7" cy="126.6" r="2.2" fill="#8460b8" opacity="0.4"/><circle cx="156.3" cy="270.7" r="1.5" fill="#55288f" opacity="0.4"/><circle cx="251.6" cy="173.4" r="2.6" fill="#8460b8" opacity="0.55"/><circle cx="247.8" cy="174.0" r="2.1" fill="#8460b8" opacity="0.44"/><circle cx="149.7" cy="200.8" r="1.5" fill="#5c34a6" opacity="0.85"/><circle cx="229.5" cy="148.1" r="1.8" fill="#8460b8" opacity="0.85"/><circle cx="291.2" cy="195.3" r="1.2" fill="#6331a0" opacity="0.85"/><circle cx="292.6" cy="199.2" r="1.0" fill="#6331a0" opacity="0.68"/><circle cx="345.8" cy="291.5" r="3.9" fill="#55288f" opacity="0.4"/><circle cx="366.4" cy="248.2" r="1.8" fill="#55288f" opacity="0.4"/><circle cx="357.8" cy="175.0" r="2.6" fill="#6331a0" opacity="0.4"/><circle cx="353.9" cy="176.2" r="2.1" fill="#6331a0" opacity="0.32"/><circle cx="221.2" cy="314.9" r="1.8" fill="#5c34a6" opacity="0.85"/><circle cx="220.1" cy="315.5" r="1.4" fill="#5c34a6" opacity="0.68"/><circle cx="294.7" cy="117.4" r="3.0" fill="#8460b8" opacity="0.55"/><circle cx="248.0" cy="319.1" r="3.0" fill="#55288f" opacity="0.7"/><circle cx="251.8" cy="320.7" r="2.4" fill="#55288f" opacity="0.56"/><circle cx="174.6" cy="149.8" r="1.2" fill="#5c34a6" opacity="0.55"/><circle cx="179.6" cy="284.2" r="3.4" fill="#7040ac" opacity="1.0"/><circle cx="257.6" cy="278.6" r="3.4" fill="#5c34a6" opacity="0.55"/><circle cx="333.1" cy="297.7" r="1.8" fill="#5c34a6" opacity="0.7"/><circle cx="364.6" cy="273.5" r="3.9" fill="#7040ac" opacity="0.85"/><circle cx="366.8" cy="253.5" r="3.4" fill="#7040ac" opacity="0.85"/><circle cx="192.1" cy="275.8" r="1.5" fill="#55288f" opacity="1.0"/><circle cx="310.5" cy="181.6" r="3.0" fill="#5c34a6" opacity="0.85"/><circle cx="285.7" cy="262.5" r="2.6" fill="#5c34a6" opacity="0.7"/><circle cx="309.5" cy="276.3" r="1.2" fill="#55288f" opacity="0.85"/><circle cx="328.6" cy="251.3" r="3.0" fill="#6331a0" opacity="1.0"/><circle cx="328.7" cy="247.5" r="2.4" fill="#6331a0" opacity="0.80"/><circle cx="142.4" cy="225.9" r="2.2" fill="#55288f" opacity="0.7"/><circle cx="380.1" cy="189.9" r="2.6" fill="#55288f" opacity="0.4"/><circle cx="377.5" cy="186.5" r="2.1" fill="#55288f" opacity="0.32"/><circle cx="282.2" cy="196.7" r="3.9" fill="#6331a0" opacity="0.85"/><circle cx="362.8" cy="276.5" r="3.0" fill="#7040ac" opacity="1.0"/><circle cx="156.4" cy="250.3" r="1.8" fill="#7040ac" opacity="0.7"/><circle cx="260.9" cy="271.5" r="3.0" fill="#5c34a6" opacity="0.4"/><circle cx="288.6" cy="110.8" r="3.9" fill="#6331a0" opacity="0.4"/><circle cx="290.6" cy="114.4" r="3.1" fill="#6331a0" opacity="0.32"/><circle cx="177.7" cy="163.2" r="1.5" fill="#55288f" opacity="0.85"/><circle cx="206.9" cy="266.6" r="3.9" fill="#7040ac" opacity="0.55"/><circle cx="362.5" cy="157.8" r="1.2" fill="#7040ac" opacity="0.55"/><circle cx="363.5" cy="156.8" r="1.0" fill="#7040ac" opacity="0.44"/><circle cx="372.7" cy="163.4" r="3.4" fill="#6331a0" opacity="0.4"/><circle cx="184.0" cy="137.5" r="1.8" fill="#7040ac" opacity="0.7"/><circle cx="303.3" cy="183.9" r="3.9" fill="#55288f" opacity="0.55"/><circle cx="207.6" cy="190.7" r="2.6" fill="#7040ac" opacity="0.7"/><circle cx="204.5" cy="190.4" r="2.1" fill="#7040ac" opacity="0.56"/><circle cx="177.5" cy="209.1" r="2.2" fill="#8460b8" opacity="1.0"/><circle cx="151.1" cy="264.6" r="2.6" fill="#7040ac" opacity="0.55"/><circle cx="149.4" cy="267.8" r="2.1" fill="#7040ac" opacity="0.44"/><circle cx="372.7" cy="201.8" r="1.2" fill="#5c34a6" opacity="0.85"/><circle cx="369.8" cy="197.9" r="1.0" fill="#5c34a6" opacity="0.68"/><circle cx="307.2" cy="315.0" r="3.4" fill="#8460b8" opacity="0.4"/><circle cx="307.8" cy="312.1" r="2.7" fill="#8460b8" opacity="0.32"/><circle cx="301.9" cy="322.7" r="1.5" fill="#5c34a6" opacity="0.4"/><circle cx="333.2" cy="294.1" r="2.2" fill="#55288f" opacity="1.0"/><circle cx="329.8" cy="296.0" r="1.8" fill="#55288f" opacity="0.80"/><circle cx="302.5" cy="121.7" r="3.0" fill="#8460b8" opacity="0.7"/><circle cx="301.8" cy="123.8" r="2.4" fill="#8460b8" opacity="0.56"/><circle cx="161.7" cy="175.5" r="3.0" fill="#7040ac" opacity="0.4"/><circle cx="364.8" cy="171.8" r="1.5" fill="#55288f" opacity="0.4"/><circle cx="236.2" cy="112.9" r="3.4" fill="#6331a0" opacity="1.0"/><circle cx="233.0" cy="114.8" r="2.7" fill="#6331a0" opacity="0.80"/><circle cx="290.7" cy="141.7" r="1.8" fill="#7040ac" opacity="0.4"/><circle cx="309.7" cy="249.6" r="2.6" fill="#6331a0" opacity="1.0"/><circle cx="313.1" cy="251.5" r="2.1" fill="#6331a0" opacity="0.80"/><circle cx="149.1" cy="241.1" r="2.2" fill="#6331a0" opacity="0.85"/><circle cx="257.5" cy="251.8" r="3.9" fill="#5c34a6" opacity="0.85"/><circle cx="208.8" cy="250.9" r="1.8" fill="#5c34a6" opacity="1.0"/><circle cx="206.6" cy="252.2" r="1.4" fill="#5c34a6" opacity="0.80"/><circle cx="342.6" cy="190.3" r="1.2" fill="#8460b8" opacity="0.85"/><circle cx="357.3" cy="199.1" r="1.2" fill="#55288f" opacity="0.7"/><circle cx="152.1" cy="170.6" r="3.0" fill="#5c34a6" opacity="0.85"/><circle cx="152.2" cy="174.3" r="2.4" fill="#5c34a6" opacity="0.68"/><circle cx="157.6" cy="269.6" r="1.2" fill="#6331a0" opacity="0.7"/><circle cx="230.5" cy="215.1" r="1.2" fill="#7040ac" opacity="0.55"/><circle cx="371.7" cy="247.4" r="1.2" fill="#5c34a6" opacity="0.4"/><circle cx="373.1" cy="245.6" r="1.0" fill="#5c34a6" opacity="0.32"/><circle cx="262.6" cy="327.4" r="1.2" fill="#7040ac" opacity="0.85"/><circle cx="223.2" cy="165.4" r="1.5" fill="#5c34a6" opacity="0.4"/><circle cx="172.9" cy="161.2" r="1.8" fill="#6331a0" opacity="0.85"/><circle cx="245.5" cy="325.4" r="1.5" fill="#55288f" opacity="1.0"/><circle cx="206.5" cy="141.3" r="2.2" fill="#55288f" opacity="1.0"/><circle cx="173.3" cy="232.9" r="2.6" fill="#7040ac" opacity="0.4"/><circle cx="170.8" cy="233.3" r="2.1" fill="#7040ac" opacity="0.32"/><circle cx="371.1" cy="162.7" r="1.8" fill="#55288f" opacity="0.55"/><circle cx="349.3" cy="209.5" r="2.6" fill="#6331a0" opacity="0.4"/><circle cx="345.9" cy="212.5" r="2.1" fill="#6331a0" opacity="0.32"/><circle cx="200.6" cy="266.7" r="3.9" fill="#6331a0" opacity="0.7"/><circle cx="157.0" cy="274.4" r="3.0" fill="#7040ac" opacity="0.55"/><circle cx="254.9" cy="106.6" r="3.9" fill="#7040ac" opacity="0.7"/><circle cx="225.2" cy="204.3" r="1.5" fill="#8460b8" opacity="0.85"/><circle cx="282.6" cy="128.7" r="1.5" fill="#8460b8" opacity="0.85"/><circle cx="223.0" cy="266.5" r="3.4" fill="#6331a0" opacity="0.7"/><circle cx="156.1" cy="253.5" r="1.8" fill="#55288f" opacity="1.0"/><circle cx="272.2" cy="293.4" r="3.0" fill="#5c34a6" opacity="0.7"/><circle cx="154.7" cy="267.5" r="1.2" fill="#6331a0" opacity="0.4"/><circle cx="157.9" cy="265.9" r="1.0" fill="#6331a0" opacity="0.32"/><circle cx="197.0" cy="156.8" r="3.4" fill="#5c34a6" opacity="1.0"/><circle cx="341.4" cy="235.6" r="3.0" fill="#6331a0" opacity="0.85"/><circle cx="199.9" cy="276.7" r="3.4" fill="#5c34a6" opacity="1.0"/><circle cx="197.4" cy="276.1" r="2.7" fill="#5c34a6" opacity="0.80"/><circle cx="159.2" cy="155.3" r="1.5" fill="#55288f" opacity="0.55"/><circle cx="163.0" cy="157.9" r="1.2" fill="#55288f" opacity="0.44"/><circle cx="332.7" cy="164.0" r="3.0" fill="#8460b8" opacity="1.0"/><circle cx="348.4" cy="151.2" r="3.4" fill="#6331a0" opacity="0.55"/><circle cx="358.9" cy="212.4" r="1.2" fill="#6331a0" opacity="0.85"/><circle cx="227.6" cy="310.9" r="1.5" fill="#6331a0" opacity="1.0"/><circle cx="211.3" cy="198.8" r="2.6" fill="#5c34a6" opacity="1.0"/><circle cx="330.6" cy="277.8" r="1.8" fill="#5c34a6" opacity="1.0"/><circle cx="327.4" cy="275.2" r="1.4" fill="#5c34a6" opacity="0.80"/><circle cx="303.6" cy="111.7" r="1.2" fill="#5c34a6" opacity="0.4"/><circle cx="305.3" cy="110.5" r="1.0" fill="#5c34a6" opacity="0.32"/><circle cx="304.2" cy="244.4" r="1.5" fill="#7040ac" opacity="0.7"/><circle cx="322.3" cy="169.5" r="1.2" fill="#6331a0" opacity="0.85"/><circle cx="318.9" cy="191.2" r="1.8" fill="#6331a0" opacity="0.7"/><circle cx="173.8" cy="152.0" r="3.9" fill="#7040ac" opacity="0.4"/><circle cx="176.1" cy="266.1" r="3.4" fill="#6331a0" opacity="0.85"/><circle cx="224.6" cy="261.2" r="1.8" fill="#55288f" opacity="0.4"/><circle cx="314.4" cy="164.6" r="3.0" fill="#6331a0" opacity="0.85"/><circle cx="175.3" cy="287.7" r="3.9" fill="#55288f" opacity="0.7"/><circle cx="171.6" cy="289.0" r="3.1" fill="#55288f" opacity="0.56"/><circle cx="243.2" cy="149.7" r="1.5" fill="#55288f" opacity="0.55"/><circle cx="155.7" cy="237.5" r="2.2" fill="#55288f" opacity="0.55"/><circle cx="364.4" cy="190.1" r="2.2" fill="#8460b8" opacity="0.7"/><circle cx="303.1" cy="257.2" r="2.6" fill="#8460b8" opacity="1.0"/><circle cx="204.7" cy="171.0" r="2.2" fill="#6331a0" opacity="0.55"/><circle cx="274.0" cy="103.1" r="1.2" fill="#7040ac" opacity="1.0"/><circle cx="273.2" cy="99.8" r="1.0" fill="#7040ac" opacity="0.80"/><circle cx="205.1" cy="125.4" r="1.5" fill="#5c34a6" opacity="0.4"/><circle cx="241.7" cy="114.0" r="1.5" fill="#55288f" opacity="0.55"/><circle cx="243.5" cy="112.3" r="1.2" fill="#55288f" opacity="0.44"/><circle cx="351.5" cy="139.3" r="1.8" fill="#7040ac" opacity="0.7"/><circle cx="352.9" cy="140.7" r="1.4" fill="#7040ac" opacity="0.56"/><circle cx="223.4" cy="157.2" r="3.9" fill="#8460b8" opacity="0.55"/><circle cx="336.4" cy="278.0" r="2.2" fill="#8460b8" opacity="0.4"/><circle cx="333.7" cy="275.6" r="1.8" fill="#8460b8" opacity="0.32"/><circle cx="328.9" cy="231.9" r="2.6" fill="#5c34a6" opacity="0.55"/><circle cx="162.1" cy="257.8" r="3.0" fill="#6331a0" opacity="0.4"/><circle cx="367.9" cy="243.7" r="1.2" fill="#6331a0" opacity="0.55"/><circle cx="366.4" cy="245.9" r="1.0" fill="#6331a0" opacity="0.44"/><circle cx="258.7" cy="108.2" r="2.2" fill="#5c34a6" opacity="0.7"/><circle cx="262.3" cy="107.6" r="1.8" fill="#5c34a6" opacity="0.56"/><circle cx="320.2" cy="116.6" r="3.9" fill="#6331a0" opacity="1.0"/><circle cx="284.3" cy="102.5" r="3.9" fill="#6331a0" opacity="0.55"/><circle cx="314.2" cy="311.4" r="1.8" fill="#5c34a6" opacity="0.55"/><circle cx="317.9" cy="308.7" r="1.4" fill="#5c34a6" opacity="0.44"/><circle cx="215.4" cy="163.4" r="1.8" fill="#8460b8" opacity="0.55"/><circle cx="203.0" cy="210.4" r="3.9" fill="#55288f" opacity="0.55"/><circle cx="269.7" cy="326.7" r="1.5" fill="#8460b8" opacity="1.0"/><circle cx="150.2" cy="242.8" r="3.4" fill="#6331a0" opacity="0.55"/><circle cx="276.2" cy="219.5" r="2.6" fill="#7040ac" opacity="0.7"/><circle cx="274.7" cy="223.2" r="2.1" fill="#7040ac" opacity="0.56"/><circle cx="218.0" cy="196.0" r="2.6" fill="#5c34a6" opacity="0.55"/><circle cx="214.1" cy="200.0" r="2.1" fill="#5c34a6" opacity="0.44"/><circle cx="241.1" cy="115.9" r="2.6" fill="#8460b8" opacity="0.4"/><circle cx="192.5" cy="298.1" r="1.5" fill="#5c34a6" opacity="0.7"/><circle cx="265.5" cy="311.3" r="1.8" fill="#6331a0" opacity="0.4"/><circle cx="307.5" cy="315.4" r="1.8" fill="#55288f" opacity="0.4"/><circle cx="295.2" cy="156.0" r="3.0" fill="#55288f" opacity="0.55"/><circle cx="298.5" cy="158.7" r="2.4" fill="#55288f" opacity="0.44"/><circle cx="311.6" cy="253.1" r="3.4" fill="#7040ac" opacity="0.4"/><circle cx="236.2" cy="295.4" r="1.5" fill="#7040ac" opacity="0.55"/><circle cx="235.8" cy="299.1" r="1.2" fill="#7040ac" opacity="0.44"/><circle cx="228.7" cy="229.1" r="2.2" fill="#55288f" opacity="0.55"/><circle cx="231.4" cy="232.0" r="1.8" fill="#55288f" opacity="0.44"/><circle cx="240.3" cy="318.4" r="1.2" fill="#8460b8" opacity="1.0"/><circle cx="292.8" cy="207.9" r="1.8" fill="#8460b8" opacity="0.55"/><circle cx="292.3" cy="208.4" r="1.4" fill="#8460b8" opacity="0.44"/><circle cx="325.7" cy="251.5" r="3.0" fill="#8460b8" opacity="1.0"/><circle cx="314.1" cy="287.2" r="3.4" fill="#5c34a6" opacity="1.0"/><circle cx="316.5" cy="289.0" r="2.7" fill="#5c34a6" opacity="0.80"/><circle cx="197.7" cy="189.0" r="3.4" fill="#8460b8" opacity="0.7"/><circle cx="186.3" cy="134.2" r="2.2" fill="#8460b8" opacity="0.55"/><circle cx="218.4" cy="200.7" r="3.4" fill="#5c34a6" opacity="0.7"/><circle cx="218.0" cy="198.8" r="2.7" fill="#5c34a6" opacity="0.56"/><circle cx="262.9" cy="111.8" r="2.2" fill="#6331a0" opacity="0.7"/><circle cx="264.3" cy="113.5" r="1.8" fill="#6331a0" opacity="0.56"/><circle cx="206.1" cy="201.6" r="1.5" fill="#5c34a6" opacity="1.0"/><circle cx="342.7" cy="301.6" r="1.5" fill="#6331a0" opacity="1.0"/><circle cx="363.2" cy="196.5" r="2.2" fill="#8460b8" opacity="1.0"/><circle cx="271.7" cy="317.3" r="3.0" fill="#6331a0" opacity="0.4"/><circle cx="350.7" cy="295.2" r="1.8" fill="#6331a0" opacity="0.85"/><circle cx="363.2" cy="161.4" r="3.0" fill="#55288f" opacity="0.55"/><circle cx="316.9" cy="116.0" r="1.5" fill="#55288f" opacity="0.55"/><circle cx="173.7" cy="221.9" r="3.0" fill="#55288f" opacity="0.4"/><circle cx="361.7" cy="168.2" r="2.2" fill="#55288f" opacity="0.7"/><circle cx="361.3" cy="170.9" r="1.8" fill="#55288f" opacity="0.56"/><circle cx="356.4" cy="227.8" r="1.5" fill="#55288f" opacity="0.4"/><circle cx="356.8" cy="226.1" r="1.2" fill="#55288f" opacity="0.32"/><circle cx="326.1" cy="293.0" r="2.6" fill="#55288f" opacity="1.0"/><circle cx="271.5" cy="227.3" r="3.9" fill="#6331a0" opacity="0.4"/><circle cx="272.4" cy="228.4" r="3.1" fill="#6331a0" opacity="0.32"/><circle cx="219.9" cy="106.0" r="3.9" fill="#7040ac" opacity="0.85"/><circle cx="216.9" cy="297.0" r="2.2" fill="#7040ac" opacity="0.7"/><circle cx="246.4" cy="234.9" r="3.9" fill="#5c34a6" opacity="0.7"/><circle cx="201.8" cy="314.2" r="3.9" fill="#7040ac" opacity="0.7"/><circle cx="201.5" cy="318.0" r="3.1" fill="#7040ac" opacity="0.56"/><circle cx="250.5" cy="193.9" r="2.6" fill="#55288f" opacity="0.85"/><circle cx="254.4" cy="192.8" r="2.1" fill="#55288f" opacity="0.68"/><circle cx="323.0" cy="284.5" r="1.2" fill="#6331a0" opacity="1.0"/><circle cx="190.9" cy="138.3" r="3.0" fill="#7040ac" opacity="0.7"/><circle cx="272.3" cy="110.5" r="3.0" fill="#7040ac" opacity="1.0"/><circle cx="348.1" cy="248.5" r="3.0" fill="#8460b8" opacity="0.7"/><circle cx="335.1" cy="311.8" r="2.2" fill="#8460b8" opacity="0.4"/><circle cx="158.5" cy="155.4" r="1.8" fill="#55288f" opacity="0.7"/><circle cx="159.1" cy="156.7" r="1.4" fill="#55288f" opacity="0.56"/><circle cx="307.5" cy="323.9" r="1.5" fill="#7040ac" opacity="1.0"/><circle cx="306.3" cy="323.6" r="1.2" fill="#7040ac" opacity="0.80"/><circle cx="367.5" cy="162.7" r="3.9" fill="#7040ac" opacity="0.7"/><circle cx="365.6" cy="158.9" r="3.1" fill="#7040ac" opacity="0.56"/><circle cx="248.8" cy="170.1" r="2.2" fill="#8460b8" opacity="0.4"/><circle cx="146.3" cy="214.7" r="1.5" fill="#7040ac" opacity="0.55"/><circle cx="369.5" cy="271.3" r="3.0" fill="#6331a0" opacity="0.55"/><circle cx="369.8" cy="274.4" r="2.4" fill="#6331a0" opacity="0.44"/><circle cx="212.4" cy="308.4" r="1.2" fill="#8460b8" opacity="0.85"/><circle cx="335.2" cy="136.1" r="1.2" fill="#5c34a6" opacity="0.4"/><circle cx="335.1" cy="136.9" r="1.0" fill="#5c34a6" opacity="0.32"/><circle cx="325.4" cy="221.1" r="3.0" fill="#55288f" opacity="1.0"/><circle cx="326.3" cy="222.9" r="2.4" fill="#55288f" opacity="0.80"/><circle cx="302.4" cy="272.3" r="1.8" fill="#6331a0" opacity="1.0"/><circle cx="231.4" cy="151.8" r="1.8" fill="#5c34a6" opacity="1.0"/><circle cx="233.4" cy="149.8" r="1.4" fill="#5c34a6" opacity="0.80"/><circle cx="219.6" cy="322.3" r="3.9" fill="#55288f" opacity="1.0"/><circle cx="261.4" cy="301.9" r="3.9" fill="#55288f" opacity="0.4"/><circle cx="262.4" cy="301.1" r="3.1" fill="#55288f" opacity="0.32"/><circle cx="346.9" cy="293.4" r="2.2" fill="#7040ac" opacity="1.0"/><circle cx="347.8" cy="295.3" r="1.8" fill="#7040ac" opacity="0.80"/><circle cx="285.0" cy="102.4" r="1.2" fill="#7040ac" opacity="0.7"/><circle cx="360.6" cy="158.7" r="3.4" fill="#7040ac" opacity="0.85"/><circle cx="363.8" cy="155.6" r="2.7" fill="#7040ac" opacity="0.68"/><circle cx="198.4" cy="136.0" r="3.4" fill="#6331a0" opacity="0.7"/><circle cx="197.4" cy="139.2" r="2.7" fill="#6331a0" opacity="0.56"/><circle cx="311.4" cy="160.4" r="1.2" fill="#6331a0" opacity="0.7"/><circle cx="310.8" cy="158.2" r="1.0" fill="#6331a0" opacity="0.56"/><circle cx="227.9" cy="322.7" r="3.9" fill="#5c34a6" opacity="0.55"/><circle cx="377.4" cy="183.7" r="1.8" fill="#55288f" opacity="0.7"/><circle cx="373.5" cy="186.7" r="1.4" fill="#55288f" opacity="0.56"/><circle cx="215.5" cy="178.3" r="3.9" fill="#5c34a6" opacity="0.55"/><circle cx="217.8" cy="181.1" r="3.1" fill="#5c34a6" opacity="0.44"/><circle cx="278.9" cy="115.9" r="3.9" fill="#8460b8" opacity="0.55"/><circle cx="384.8" cy="234.0" r="1.5" fill="#6331a0" opacity="0.55"/><circle cx="383.2" cy="234.0" r="1.2" fill="#6331a0" opacity="0.44"/><circle cx="172.2" cy="281.4" r="3.4" fill="#8460b8" opacity="0.7"/><circle cx="274.8" cy="332.3" r="1.2" fill="#7040ac" opacity="0.4"/><circle cx="310.0" cy="250.8" r="1.2" fill="#55288f" opacity="0.4"/><circle cx="306.9" cy="254.4" r="1.0" fill="#55288f" opacity="0.32"/><circle cx="384.7" cy="217.9" r="2.2" fill="#7040ac" opacity="1.0"/><circle cx="324.3" cy="123.1" r="1.5" fill="#7040ac" opacity="0.7"/><circle cx="372.4" cy="267.1" r="1.8" fill="#55288f" opacity="0.4"/><circle cx="376.1" cy="264.7" r="1.4" fill="#55288f" opacity="0.32"/><circle cx="249.8" cy="332.5" r="3.0" fill="#8460b8" opacity="0.4"/><circle cx="349.6" cy="132.3" r="2.6" fill="#8460b8" opacity="0.85"/><circle cx="349.0" cy="136.1" r="2.1" fill="#8460b8" opacity="0.68"/><circle cx="198.1" cy="255.3" r="1.8" fill="#7040ac" opacity="0.4"/><circle cx="171.8" cy="143.1" r="3.4" fill="#7040ac" opacity="0.55"/><circle cx="298.6" cy="223.3" r="1.2" fill="#5c34a6" opacity="0.85"/><circle cx="299.8" cy="223.7" r="1.0" fill="#5c34a6" opacity="0.68"/><circle cx="260.5" cy="115.4" r="3.9" fill="#55288f" opacity="1.0"/><circle cx="178.4" cy="130.5" r="3.4" fill="#6331a0" opacity="0.7"/><circle cx="223.4" cy="139.2" r="3.0" fill="#5c34a6" opacity="0.4"/><circle cx="322.6" cy="127.6" r="3.0" fill="#5c34a6" opacity="1.0"/><circle cx="315.1" cy="191.5" r="3.0" fill="#7040ac" opacity="1.0"/><circle cx="315.2" cy="310.0" r="3.9" fill="#6331a0" opacity="0.55"/><circle cx="314.1" cy="312.9" r="3.1" fill="#6331a0" opacity="0.44"/><circle cx="239.3" cy="142.2" r="3.4" fill="#55288f" opacity="0.4"/><circle cx="157.1" cy="246.9" r="1.5" fill="#8460b8" opacity="0.7"/><circle cx="156.7" cy="243.8" r="1.2" fill="#8460b8" opacity="0.56"/><circle cx="155.1" cy="204.7" r="1.2" fill="#55288f" opacity="0.55"/><circle cx="163.7" cy="202.0" r="3.4" fill="#6331a0" opacity="0.7"/><circle cx="260.0" cy="214.2" r="2.6" fill="#55288f" opacity="1.0"/><circle cx="205.2" cy="238.6" r="3.9" fill="#7040ac" opacity="0.4"/><circle cx="208.9" cy="237.0" r="3.1" fill="#7040ac" opacity="0.32"/><circle cx="178.9" cy="295.6" r="1.2" fill="#8460b8" opacity="0.7"/><circle cx="269.9" cy="307.7" r="1.8" fill="#7040ac" opacity="1.0"/><circle cx="368.1" cy="258.2" r="2.2" fill="#6331a0" opacity="0.7"/><circle cx="367.6" cy="257.4" r="1.8" fill="#6331a0" opacity="0.56"/><circle cx="293.3" cy="108.0" r="1.5" fill="#5c34a6" opacity="1.0"/><circle cx="151.7" cy="233.8" r="1.5" fill="#8460b8" opacity="0.85"/><circle cx="256.0" cy="103.9" r="3.4" fill="#6331a0" opacity="1.0"/><circle cx="212.1" cy="257.6" r="3.9" fill="#6331a0" opacity="0.4"/><circle cx="208.7" cy="260.1" r="3.1" fill="#6331a0" opacity="0.32"/><circle cx="263.8" cy="178.4" r="3.9" fill="#7040ac" opacity="0.4"/><circle cx="231.9" cy="139.6" r="3.4" fill="#7040ac" opacity="1.0"/><circle cx="208.4" cy="305.0" r="1.2" fill="#5c34a6" opacity="0.55"/><circle cx="206.5" cy="303.5" r="1.0" fill="#5c34a6" opacity="0.44"/><circle cx="147.8" cy="208.4" r="3.4" fill="#55288f" opacity="0.4"/><circle cx="150.8" cy="210.8" r="2.7" fill="#55288f" opacity="0.32"/><circle cx="297.0" cy="320.3" r="1.2" fill="#5c34a6" opacity="0.55"/><circle cx="233.2" cy="105.7" r="1.8" fill="#55288f" opacity="0.7"/><circle cx="236.6" cy="106.1" r="1.4" fill="#55288f" opacity="0.56"/><circle cx="235.7" cy="210.5" r="3.4" fill="#55288f" opacity="1.0"/><circle cx="233.4" cy="210.0" r="2.7" fill="#55288f" opacity="0.80"/><circle cx="317.5" cy="207.1" r="3.9" fill="#8460b8" opacity="0.85"/><circle cx="315.2" cy="204.6" r="3.1" fill="#8460b8" opacity="0.68"/><circle cx="337.6" cy="298.9" r="1.5" fill="#8460b8" opacity="1.0"/><circle cx="341.0" cy="299.4" r="1.2" fill="#8460b8" opacity="0.80"/><circle cx="212.1" cy="122.3" r="2.6" fill="#5c34a6" opacity="0.55"/><circle cx="350.9" cy="277.7" r="1.5" fill="#6331a0" opacity="0.55"/><circle cx="259.2" cy="291.9" r="3.9" fill="#7040ac" opacity="0.85"/><circle cx="326.5" cy="311.8" r="3.9" fill="#7040ac" opacity="0.7"/><circle cx="219.7" cy="321.3" r="2.6" fill="#5c34a6" opacity="0.7"/><circle cx="167.4" cy="290.1" r="1.2" fill="#8460b8" opacity="0.7"/><circle cx="165.7" cy="291.4" r="1.0" fill="#8460b8" opacity="0.56"/><circle cx="324.1" cy="295.1" r="1.8" fill="#55288f" opacity="0.85"/><circle cx="358.3" cy="168.4" r="1.5" fill="#8460b8" opacity="0.7"/><circle cx="360.3" cy="168.4" r="1.2" fill="#8460b8" opacity="0.56"/><circle cx="144.4" cy="226.9" r="2.6" fill="#5c34a6" opacity="1.0"/><circle cx="258.1" cy="250.8" r="2.2" fill="#55288f" opacity="1.0"/><circle cx="258.9" cy="254.5" r="1.8" fill="#55288f" opacity="0.80"/><circle cx="374.5" cy="250.7" r="3.0" fill="#8460b8" opacity="0.7"/><circle cx="317.7" cy="259.1" r="2.6" fill="#5c34a6" opacity="0.4"/><circle cx="319.4" cy="302.6" r="3.4" fill="#6331a0" opacity="0.85"/><circle cx="319.5" cy="299.4" r="2.7" fill="#6331a0" opacity="0.68"/><circle cx="175.4" cy="171.3" r="3.0" fill="#55288f" opacity="0.4"/><circle cx="207.8" cy="129.7" r="1.5" fill="#6331a0" opacity="0.7"/><circle cx="331.4" cy="304.8" r="1.5" fill="#7040ac" opacity="0.4"/><circle cx="331.4" cy="305.1" r="1.2" fill="#7040ac" opacity="0.32"/><circle cx="284.8" cy="250.7" r="1.2" fill="#55288f" opacity="1.0"/><circle cx="278.8" cy="266.2" r="1.8" fill="#5c34a6" opacity="0.55"/><circle cx="372.3" cy="177.2" r="3.9" fill="#7040ac" opacity="1.0"/><circle cx="253.4" cy="318.9" r="1.2" fill="#8460b8" opacity="0.85"/><circle cx="292.7" cy="242.9" r="2.2" fill="#7040ac" opacity="0.55"/><circle cx="265.8" cy="317.7" r="3.0" fill="#6331a0" opacity="0.4"/><circle cx="268.0" cy="315.1" r="2.4" fill="#6331a0" opacity="0.32"/><circle cx="266.9" cy="151.1" r="1.8" fill="#55288f" opacity="0.4"/><circle cx="330.5" cy="255.8" r="2.2" fill="#5c34a6" opacity="0.55"/><circle cx="293.5" cy="251.4" r="2.2" fill="#55288f" opacity="0.55"/><circle cx="286.4" cy="195.2" r="1.2" fill="#5c34a6" opacity="0.85"/><circle cx="299.8" cy="322.0" r="1.2" fill="#8460b8" opacity="0.7"/><circle cx="301.5" cy="320.8" r="1.0" fill="#8460b8" opacity="0.56"/><circle cx="259.7" cy="103.7" r="1.8" fill="#55288f" opacity="0.7"/><circle cx="161.9" cy="154.4" r="3.4" fill="#5c34a6" opacity="0.85"/><circle cx="165.6" cy="154.6" r="2.7" fill="#5c34a6" opacity="0.68"/><circle cx="380.8" cy="193.4" r="2.6" fill="#7040ac" opacity="0.55"/><circle cx="380.4" cy="191.3" r="2.1" fill="#7040ac" opacity="0.44"/><circle cx="234.0" cy="106.9" r="3.4" fill="#55288f" opacity="0.85"/><circle cx="217.7" cy="154.5" r="3.0" fill="#8460b8" opacity="1.0"/><circle cx="271.2" cy="216.8" r="1.5" fill="#8460b8" opacity="0.85"/><circle cx="198.1" cy="197.8" r="1.5" fill="#8460b8" opacity="0.7"/><circle cx="345.7" cy="264.8" r="2.6" fill="#8460b8" opacity="0.55"/><circle cx="282.0" cy="300.6" r="1.2" fill="#7040ac" opacity="0.85"/><circle cx="298.3" cy="275.1" r="3.0" fill="#8460b8" opacity="1.0"/><circle cx="296.9" cy="278.1" r="2.4" fill="#8460b8" opacity="0.80"/><circle cx="331.3" cy="133.8" r="1.8" fill="#5c34a6" opacity="0.85"/><circle cx="334.1" cy="130.6" r="1.4" fill="#5c34a6" opacity="0.68"/><circle cx="229.3" cy="167.2" r="3.0" fill="#5c34a6" opacity="0.4"/><circle cx="265.3" cy="113.0" r="2.6" fill="#6331a0" opacity="0.85"/><circle cx="242.8" cy="281.1" r="2.6" fill="#5c34a6" opacity="0.85"/><circle cx="232.8" cy="217.2" r="1.2" fill="#6331a0" opacity="0.4"/><circle cx="246.9" cy="100.9" r="3.9" fill="#55288f" opacity="0.4"/><circle cx="305.1" cy="313.4" r="1.2" fill="#7040ac" opacity="0.85"/><circle cx="270.7" cy="121.8" r="2.6" fill="#6331a0" opacity="1.0"/><circle cx="304.3" cy="106.2" r="3.4" fill="#55288f" opacity="0.85"/><circle cx="205.1" cy="187.7" r="1.2" fill="#55288f" opacity="1.0"/><circle cx="225.1" cy="311.0" r="1.8" fill="#6331a0" opacity="0.7"/><circle cx="224.1" cy="115.8" r="2.6" fill="#8460b8" opacity="0.7"/><circle cx="222.7" cy="115.3" r="2.1" fill="#8460b8" opacity="0.56"/><circle cx="231.0" cy="240.0" r="3.4" fill="#55288f" opacity="0.85"/><circle cx="234.4" cy="241.0" r="2.7" fill="#55288f" opacity="0.68"/><circle cx="309.9" cy="286.5" r="3.0" fill="#7040ac" opacity="0.4"/><circle cx="310.2" cy="287.8" r="2.4" fill="#7040ac" opacity="0.32"/><circle cx="363.9" cy="266.2" r="3.4" fill="#8460b8" opacity="0.7"/><circle cx="258.9" cy="279.3" r="1.2" fill="#5c34a6" opacity="0.4"/><circle cx="349.4" cy="183.3" r="2.6" fill="#6331a0" opacity="0.55"/><circle cx="281.1" cy="183.7" r="1.5" fill="#7040ac" opacity="0.7"/><circle cx="219.7" cy="107.6" r="3.4" fill="#55288f" opacity="0.85"/><circle cx="320.8" cy="153.4" r="1.8" fill="#5c34a6" opacity="1.0"/><circle cx="290.4" cy="326.6" r="1.5" fill="#6331a0" opacity="0.85"/><circle cx="167.7" cy="279.0" r="2.6" fill="#7040ac" opacity="0.55"/><circle cx="170.5" cy="276.9" r="2.1" fill="#7040ac" opacity="0.44"/><circle cx="305.7" cy="224.7" r="3.4" fill="#7040ac" opacity="0.7"/><circle cx="354.9" cy="149.0" r="1.5" fill="#5c34a6" opacity="1.0"/><circle cx="273.6" cy="276.8" r="1.5" fill="#5c34a6" opacity="0.7"/><circle cx="228.4" cy="115.6" r="1.5" fill="#55288f" opacity="0.4"/><circle cx="228.1" cy="117.7" r="1.2" fill="#55288f" opacity="0.32"/><circle cx="344.7" cy="204.8" r="1.2" fill="#5c34a6" opacity="0.4"/><circle cx="234.8" cy="187.5" r="3.0" fill="#5c34a6" opacity="0.7"/><circle cx="321.1" cy="127.8" r="1.2" fill="#7040ac" opacity="0.55"/><circle cx="321.2" cy="127.2" r="1.0" fill="#7040ac" opacity="0.44"/><circle cx="258.1" cy="186.7" r="1.5" fill="#8460b8" opacity="0.85"/><circle cx="326.9" cy="149.1" r="1.2" fill="#5c34a6" opacity="0.7"/><circle cx="330.7" cy="145.7" r="1.0" fill="#5c34a6" opacity="0.56"/><circle cx="181.2" cy="239.3" r="3.9" fill="#55288f" opacity="0.55"/><circle cx="265.5" cy="176.6" r="1.5" fill="#6331a0" opacity="1.0"/><circle cx="252.3" cy="319.5" r="2.6" fill="#5c34a6" opacity="0.4"/><circle cx="293.8" cy="218.4" r="2.6" fill="#55288f" opacity="1.0"/><circle cx="206.3" cy="286.3" r="1.5" fill="#7040ac" opacity="0.4"/><circle cx="244.6" cy="141.5" r="1.5" fill="#6331a0" opacity="0.7"/><circle cx="362.1" cy="270.2" r="3.0" fill="#8460b8" opacity="0.7"/><circle cx="262.1" cy="325.8" r="3.4" fill="#55288f" opacity="0.55"/><circle cx="258.3" cy="329.1" r="2.7" fill="#55288f" opacity="0.44"/><circle cx="149.4" cy="261.5" r="3.4" fill="#8460b8" opacity="0.55"/><circle cx="145.5" cy="259.3" r="2.7" fill="#8460b8" opacity="0.44"/><circle cx="357.3" cy="221.2" r="1.5" fill="#6331a0" opacity="0.85"/><circle cx="357.9" cy="224.5" r="1.2" fill="#6331a0" opacity="0.68"/><circle cx="156.5" cy="176.0" r="3.9" fill="#7040ac" opacity="0.85"/><circle cx="154.1" cy="174.9" r="3.1" fill="#7040ac" opacity="0.68"/><circle cx="346.3" cy="139.0" r="2.2" fill="#8460b8" opacity="0.85"/><circle cx="272.0" cy="99.8" r="1.2" fill="#7040ac" opacity="0.85"/><circle cx="198.3" cy="131.4" r="3.9" fill="#7040ac" opacity="1.0"/><circle cx="198.2" cy="130.5" r="3.1" fill="#7040ac" opacity="0.80"/><circle cx="384.4" cy="219.6" r="2.2" fill="#7040ac" opacity="0.4"/><circle cx="388.3" cy="222.0" r="1.8" fill="#7040ac" opacity="0.32"/><circle cx="264.4" cy="239.0" r="2.2" fill="#5c34a6" opacity="0.4"/><circle cx="330.5" cy="308.9" r="1.2" fill="#6331a0" opacity="0.85"/><circle cx="335.1" cy="302.8" r="1.8" fill="#5c34a6" opacity="1.0"/><circle cx="335.2" cy="306.5" r="1.4" fill="#5c34a6" opacity="0.80"/><circle cx="367.8" cy="234.9" r="1.5" fill="#5c34a6" opacity="1.0"/><circle cx="363.6" cy="250.1" r="2.6" fill="#8460b8" opacity="0.85"/><circle cx="298.4" cy="297.5" r="3.9" fill="#6331a0" opacity="0.55"/><circle cx="169.4" cy="139.5" r="1.5" fill="#5c34a6" opacity="1.0"/><circle cx="333.0" cy="121.9" r="1.5" fill="#55288f" opacity="0.4"/><circle cx="331.4" cy="120.3" r="1.2" fill="#55288f" opacity="0.32"/><circle cx="218.9" cy="287.4" r="2.2" fill="#6331a0" opacity="0.4"/><circle cx="215.8" cy="289.0" r="1.8" fill="#6331a0" opacity="0.32"/><circle cx="171.1" cy="241.1" r="3.4" fill="#5c34a6" opacity="1.0"/><circle cx="365.3" cy="156.4" r="1.2" fill="#7040ac" opacity="0.4"/><circle cx="364.7" cy="179.5" r="3.9" fill="#7040ac" opacity="0.7"/><circle cx="363.1" cy="178.3" r="3.1" fill="#7040ac" opacity="0.56"/><circle cx="197.1" cy="239.6" r="3.9" fill="#55288f" opacity="1.0"/><circle cx="195.1" cy="238.9" r="3.1" fill="#55288f" opacity="0.80"/><circle cx="276.5" cy="204.8" r="3.0" fill="#7040ac" opacity="0.4"/><circle cx="350.1" cy="280.4" r="3.0" fill="#55288f" opacity="0.85"/><circle cx="156.8" cy="196.0" r="2.2" fill="#5c34a6" opacity="0.85"/><circle cx="291.5" cy="328.8" r="2.6" fill="#55288f" opacity="0.4"/><circle cx="175.3" cy="142.8" r="1.8" fill="#8460b8" opacity="0.7"/><circle cx="173.4" cy="139.0" r="1.4" fill="#8460b8" opacity="0.56"/><circle cx="256.9" cy="313.9" r="1.8" fill="#5c34a6" opacity="0.4"/><circle cx="256.0" cy="310.6" r="1.4" fill="#5c34a6" opacity="0.32"/><circle cx="357.5" cy="260.9" r="1.5" fill="#5c34a6" opacity="0.55"/><circle cx="357.4" cy="264.6" r="1.2" fill="#5c34a6" opacity="0.44"/><circle cx="275.5" cy="118.9" r="1.8" fill="#55288f" opacity="0.4"/><circle cx="274.7" cy="120.4" r="1.4" fill="#55288f" opacity="0.32"/><circle cx="360.5" cy="173.8" r="3.0" fill="#7040ac" opacity="0.7"/><circle cx="363.2" cy="171.6" r="2.4" fill="#7040ac" opacity="0.56"/><circle cx="242.7" cy="326.6" r="1.2" fill="#6331a0" opacity="0.55"/><circle cx="221.0" cy="191.6" r="2.6" fill="#6331a0" opacity="0.55"/><circle cx="217.8" cy="195.5" r="2.1" fill="#6331a0" opacity="0.44"/><circle cx="193.8" cy="185.1" r="2.2" fill="#6331a0" opacity="0.4"/><circle cx="191.9" cy="188.5" r="1.8" fill="#6331a0" opacity="0.32"/><circle cx="147.7" cy="186.1" r="1.8" fill="#55288f" opacity="0.55"/><circle cx="201.7" cy="207.5" r="1.5" fill="#7040ac" opacity="0.55"/><circle cx="200.7" cy="209.6" r="1.2" fill="#7040ac" opacity="0.44"/><circle cx="274.3" cy="270.8" r="3.4" fill="#7040ac" opacity="0.7"/><circle cx="208.1" cy="129.1" r="3.0" fill="#55288f" opacity="0.55"/><circle cx="207.6" cy="126.0" r="2.4" fill="#55288f" opacity="0.44"/><circle cx="342.0" cy="285.0" r="3.9" fill="#7040ac" opacity="0.55"/><circle cx="259.9" cy="244.9" r="3.9" fill="#7040ac" opacity="0.85"/><circle cx="278.9" cy="302.6" r="2.2" fill="#5c34a6" opacity="1.0"/><circle cx="363.7" cy="180.5" r="1.2" fill="#5c34a6" opacity="0.55"/><circle cx="366.6" cy="178.2" r="1.0" fill="#5c34a6" opacity="0.44"/><circle cx="294.6" cy="200.4" r="3.9" fill="#6331a0" opacity="0.55"/><circle cx="244.2" cy="308.0" r="3.0" fill="#6331a0" opacity="0.4"/><circle cx="178.0" cy="211.1" r="1.2" fill="#6331a0" opacity="0.85"/><circle cx="215.8" cy="181.0" r="3.0" fill="#8460b8" opacity="0.55"/><circle cx="181.5" cy="301.3" r="1.8" fill="#6331a0" opacity="0.55"/><circle cx="287.2" cy="325.6" r="1.2" fill="#8460b8" opacity="0.7"/><circle cx="218.7" cy="315.5" r="2.2" fill="#8460b8" opacity="0.4"/><circle cx="216.0" cy="314.4" r="1.8" fill="#8460b8" opacity="0.32"/><circle cx="202.7" cy="274.5" r="3.9" fill="#5c34a6" opacity="0.55"/><circle cx="243.1" cy="264.1" r="3.9" fill="#7040ac" opacity="0.7"/><circle cx="310.2" cy="308.1" r="3.4" fill="#5c34a6" opacity="0.4"/><circle cx="180.8" cy="153.1" r="2.6" fill="#8460b8" opacity="1.0"/><circle cx="256.6" cy="303.1" r="1.5" fill="#8460b8" opacity="0.7"/><circle cx="253.7" cy="303.3" r="1.2" fill="#8460b8" opacity="0.56"/><circle cx="273.5" cy="317.1" r="1.8" fill="#5c34a6" opacity="0.4"/><circle cx="163.7" cy="171.2" r="2.2" fill="#55288f" opacity="0.55"/><circle cx="167.2" cy="255.2" r="1.5" fill="#55288f" opacity="0.4"/><circle cx="169.2" cy="252.6" r="1.2" fill="#55288f" opacity="0.32"/><circle cx="230.1" cy="246.7" r="2.6" fill="#5c34a6" opacity="1.0"/><circle cx="228.1" cy="247.9" r="2.1" fill="#5c34a6" opacity="0.80"/><circle cx="381.3" cy="188.8" r="2.2" fill="#6331a0" opacity="0.85"/><circle cx="302.5" cy="170.1" r="2.6" fill="#8460b8" opacity="0.55"/><circle cx="257.2" cy="114.2" r="3.9" fill="#55288f" opacity="0.55"/><circle cx="257.7" cy="205.6" r="1.8" fill="#55288f" opacity="0.85"/></g>
</g>
<rect x="130.4" y="90.6" width="266.5" height="261.0" fill="none" stroke="#000" stroke-width="2.8" />
<clipPath id="cdA2"><rect x="130" y="429" width="266.5" height="262"/></clipPath>
<g clip-path="url(#cdA2)">
<rect x="130.0" y="429.0" width="266.5" height="262.0" fill="#bab7b5" stroke="none" stroke-width="0" />
<rect x="130.0" y="429.0" width="266.5" height="262.0" fill="#000" stroke="none" stroke-width="0" filter="url(#nzDish)" opacity="0.5"/>
<rect x="130.0" y="638.6" width="266.5" height="52.4" fill="#c9c9c2" stroke="none" stroke-width="0" opacity="0.6"/>
<rect x="140.7" y="630.7" width="21.3" height="60.3" fill="#d2d2cb" stroke="none" stroke-width="0" opacity="0.75"/>
<rect x="367.2" y="630.7" width="21.3" height="60.3" fill="#d2d2cb" stroke="none" stroke-width="0" opacity="0.75"/>
<ellipse cx="264.3" cy="560.0" rx="132.7" ry="132.3" fill="#cbcbc5" stroke="#a9a5ae" stroke-width="1"/>
<ellipse cx="264.3" cy="560.0" rx="128.2" ry="127.8" fill="none" stroke="#c3c0c6" stroke-width="2"/>
<ellipse cx="264.3" cy="560.0" rx="123.7" ry="123.3" fill="#bab3be"/>
<ellipse cx="267.3" cy="568.0" rx="99.0" ry="98.6" fill="none" stroke="#d2cdd6" stroke-width="2" opacity="0.55"/>
<g filter="url(#b1)"><circle cx="151.4" cy="551.9" r="3.4" fill="#5c34a6" opacity="0.7"/><circle cx="148.5" cy="549.9" r="2.7" fill="#5c34a6" opacity="0.56"/><circle cx="257.3" cy="621.6" r="1.5" fill="#55288f" opacity="0.7"/><circle cx="258.3" cy="624.6" r="1.2" fill="#55288f" opacity="0.56"/><circle cx="151.9" cy="592.1" r="1.5" fill="#8460b8" opacity="0.4"/><circle cx="152.6" cy="591.5" r="1.2" fill="#8460b8" opacity="0.32"/><circle cx="376.6" cy="552.4" r="1.8" fill="#7040ac" opacity="0.85"/><circle cx="288.8" cy="648.9" r="2.2" fill="#7040ac" opacity="0.55"/><circle cx="164.5" cy="589.2" r="3.9" fill="#6331a0" opacity="1.0"/><circle cx="164.7" cy="608.0" r="1.8" fill="#7040ac" opacity="0.4"/><circle cx="164.4" cy="607.6" r="1.4" fill="#7040ac" opacity="0.32"/><circle cx="356.3" cy="520.6" r="3.9" fill="#8460b8" opacity="0.7"/><circle cx="231.3" cy="658.8" r="1.2" fill="#7040ac" opacity="0.4"/><circle cx="235.0" cy="658.2" r="1.0" fill="#7040ac" opacity="0.32"/><circle cx="185.3" cy="584.9" r="1.2" fill="#8460b8" opacity="0.55"/><circle cx="234.0" cy="574.2" r="3.9" fill="#7040ac" opacity="0.4"/><circle cx="201.7" cy="475.8" r="1.8" fill="#8460b8" opacity="0.4"/><circle cx="327.9" cy="576.0" r="3.0" fill="#7040ac" opacity="0.7"/><circle cx="326.4" cy="572.2" r="2.4" fill="#7040ac" opacity="0.56"/><circle cx="235.7" cy="660.8" r="3.9" fill="#7040ac" opacity="1.0"/><circle cx="240.6" cy="448.9" r="2.6" fill="#55288f" opacity="1.0"/><circle cx="347.9" cy="473.2" r="2.2" fill="#6331a0" opacity="0.55"/><circle cx="343.9" cy="473.9" r="2.6" fill="#8460b8" opacity="0.85"/><circle cx="308.9" cy="506.3" r="3.0" fill="#5c34a6" opacity="0.4"/><circle cx="166.9" cy="600.6" r="3.9" fill="#55288f" opacity="1.0"/><circle cx="165.0" cy="597.4" r="3.1" fill="#55288f" opacity="0.80"/><circle cx="292.1" cy="610.7" r="3.9" fill="#6331a0" opacity="1.0"/><circle cx="373.9" cy="593.0" r="1.8" fill="#55288f" opacity="1.0"/><circle cx="375.7" cy="595.6" r="1.4" fill="#55288f" opacity="0.80"/><circle cx="248.7" cy="622.0" r="3.9" fill="#6331a0" opacity="0.55"/><circle cx="275.0" cy="626.8" r="1.5" fill="#55288f" opacity="0.55"/><circle cx="274.7" cy="627.3" r="1.2" fill="#55288f" opacity="0.44"/><circle cx="325.6" cy="475.1" r="3.9" fill="#7040ac" opacity="0.4"/><circle cx="247.8" cy="643.7" r="3.0" fill="#6331a0" opacity="0.85"/><circle cx="257.1" cy="578.4" r="2.2" fill="#8460b8" opacity="0.4"/><circle cx="289.3" cy="597.3" r="1.8" fill="#8460b8" opacity="1.0"/><circle cx="291.4" cy="596.8" r="1.4" fill="#8460b8" opacity="0.80"/><circle cx="255.6" cy="439.6" r="1.5" fill="#7040ac" opacity="0.7"/><circle cx="366.9" cy="538.4" r="3.4" fill="#7040ac" opacity="0.4"/><circle cx="366.3" cy="534.5" r="2.7" fill="#7040ac" opacity="0.32"/><circle cx="384.5" cy="550.0" r="2.2" fill="#7040ac" opacity="0.7"/><circle cx="329.2" cy="622.0" r="1.2" fill="#5c34a6" opacity="0.4"/><circle cx="176.4" cy="641.3" r="3.9" fill="#55288f" opacity="0.7"/><circle cx="327.5" cy="546.5" r="1.2" fill="#55288f" opacity="0.4"/><circle cx="239.5" cy="593.2" r="3.9" fill="#5c34a6" opacity="0.4"/><circle cx="175.5" cy="499.0" r="2.6" fill="#8460b8" opacity="1.0"/><circle cx="173.2" cy="499.0" r="2.1" fill="#8460b8" opacity="0.80"/><circle cx="281.0" cy="676.5" r="1.8" fill="#7040ac" opacity="0.55"/><circle cx="276.5" cy="511.4" r="2.2" fill="#6331a0" opacity="0.7"/><circle cx="276.4" cy="514.7" r="1.8" fill="#6331a0" opacity="0.56"/><circle cx="342.6" cy="553.6" r="3.4" fill="#5c34a6" opacity="0.7"/><circle cx="342.8" cy="554.6" r="2.7" fill="#5c34a6" opacity="0.56"/><circle cx="357.8" cy="567.2" r="1.2" fill="#55288f" opacity="0.7"/><circle cx="341.7" cy="542.0" r="1.5" fill="#5c34a6" opacity="0.85"/><circle cx="212.5" cy="459.8" r="2.6" fill="#5c34a6" opacity="1.0"/><circle cx="214.7" cy="463.1" r="2.1" fill="#5c34a6" opacity="0.80"/><circle cx="327.3" cy="602.2" r="1.8" fill="#5c34a6" opacity="1.0"/><circle cx="288.5" cy="667.9" r="1.5" fill="#55288f" opacity="0.4"/><circle cx="329.8" cy="613.0" r="3.9" fill="#7040ac" opacity="0.4"/><circle cx="207.8" cy="657.1" r="3.9" fill="#55288f" opacity="0.55"/><circle cx="206.1" cy="655.7" r="3.1" fill="#55288f" opacity="0.44"/><circle cx="351.5" cy="549.8" r="3.4" fill="#6331a0" opacity="0.85"/><circle cx="309.6" cy="638.0" r="2.2" fill="#7040ac" opacity="0.4"/><circle cx="284.4" cy="570.1" r="3.0" fill="#55288f" opacity="0.85"/><circle cx="267.0" cy="482.6" r="1.5" fill="#55288f" opacity="1.0"/><circle cx="304.5" cy="533.6" r="2.6" fill="#8460b8" opacity="1.0"/><circle cx="218.7" cy="535.2" r="1.2" fill="#8460b8" opacity="0.85"/><circle cx="156.3" cy="600.9" r="1.5" fill="#8460b8" opacity="0.7"/><circle cx="153.3" cy="601.6" r="1.2" fill="#8460b8" opacity="0.56"/><circle cx="223.2" cy="521.8" r="3.4" fill="#55288f" opacity="0.85"/><circle cx="334.6" cy="479.5" r="2.2" fill="#6331a0" opacity="0.85"/><circle cx="336.7" cy="481.8" r="1.8" fill="#6331a0" opacity="0.68"/><circle cx="244.3" cy="667.4" r="2.6" fill="#55288f" opacity="0.4"/><circle cx="343.6" cy="651.6" r="1.8" fill="#6331a0" opacity="1.0"/><circle cx="261.6" cy="664.2" r="2.6" fill="#55288f" opacity="0.7"/><circle cx="173.7" cy="556.7" r="1.2" fill="#55288f" opacity="0.85"/><circle cx="276.1" cy="639.7" r="3.9" fill="#6331a0" opacity="0.7"/><circle cx="207.7" cy="578.3" r="1.5" fill="#8460b8" opacity="0.55"/><circle cx="349.2" cy="622.2" r="3.4" fill="#8460b8" opacity="0.85"/><circle cx="344.2" cy="629.4" r="3.0" fill="#7040ac" opacity="1.0"/><circle cx="188.0" cy="624.9" r="3.9" fill="#55288f" opacity="0.7"/><circle cx="152.6" cy="579.9" r="1.2" fill="#6331a0" opacity="1.0"/><circle cx="169.6" cy="616.8" r="3.4" fill="#6331a0" opacity="1.0"/><circle cx="293.5" cy="660.9" r="3.0" fill="#5c34a6" opacity="1.0"/><circle cx="297.3" cy="663.3" r="2.4" fill="#5c34a6" opacity="0.80"/><circle cx="271.6" cy="679.6" r="1.8" fill="#5c34a6" opacity="0.85"/><circle cx="151.0" cy="604.4" r="3.9" fill="#8460b8" opacity="0.85"/><circle cx="350.8" cy="525.8" r="1.5" fill="#8460b8" opacity="0.4"/><circle cx="353.8" cy="526.0" r="1.2" fill="#8460b8" opacity="0.32"/><circle cx="202.1" cy="636.4" r="3.9" fill="#7040ac" opacity="0.7"/><circle cx="236.3" cy="451.8" r="2.6" fill="#7040ac" opacity="0.4"/><circle cx="164.8" cy="609.5" r="3.0" fill="#5c34a6" opacity="0.7"/><circle cx="166.8" cy="610.4" r="2.4" fill="#5c34a6" opacity="0.56"/><circle cx="321.1" cy="568.3" r="2.2" fill="#8460b8" opacity="0.4"/><circle cx="259.5" cy="552.5" r="1.2" fill="#7040ac" opacity="0.7"/><circle cx="329.5" cy="464.7" r="2.6" fill="#55288f" opacity="0.55"/><circle cx="331.2" cy="460.9" r="2.1" fill="#55288f" opacity="0.44"/><circle cx="342.4" cy="622.1" r="3.0" fill="#7040ac" opacity="0.7"/><circle cx="346.0" cy="619.7" r="2.4" fill="#7040ac" opacity="0.56"/><circle cx="354.9" cy="639.3" r="3.9" fill="#5c34a6" opacity="0.7"/><circle cx="150.9" cy="571.7" r="3.9" fill="#6331a0" opacity="0.4"/><circle cx="167.9" cy="492.5" r="2.6" fill="#8460b8" opacity="0.85"/><circle cx="277.0" cy="535.0" r="2.2" fill="#5c34a6" opacity="1.0"/><circle cx="279.3" cy="533.2" r="1.8" fill="#5c34a6" opacity="0.80"/><circle cx="251.7" cy="668.1" r="1.5" fill="#8460b8" opacity="0.85"/><circle cx="284.3" cy="637.1" r="3.4" fill="#8460b8" opacity="0.55"/><circle cx="192.9" cy="623.2" r="1.8" fill="#55288f" opacity="1.0"/><circle cx="196.1" cy="620.4" r="1.4" fill="#55288f" opacity="0.80"/><circle cx="269.0" cy="495.5" r="1.8" fill="#8460b8" opacity="0.55"/><circle cx="303.5" cy="484.2" r="2.6" fill="#55288f" opacity="0.7"/><circle cx="182.5" cy="471.7" r="3.4" fill="#7040ac" opacity="0.55"/><circle cx="181.0" cy="472.9" r="2.7" fill="#7040ac" opacity="0.44"/><circle cx="290.6" cy="628.9" r="1.5" fill="#7040ac" opacity="0.7"/><circle cx="289.2" cy="627.6" r="1.2" fill="#7040ac" opacity="0.56"/><circle cx="177.1" cy="492.5" r="2.2" fill="#5c34a6" opacity="0.55"/><circle cx="279.7" cy="460.2" r="3.0" fill="#5c34a6" opacity="0.4"/><circle cx="280.9" cy="463.2" r="2.4" fill="#5c34a6" opacity="0.32"/><circle cx="240.4" cy="667.7" r="3.9" fill="#7040ac" opacity="0.55"/><circle cx="307.5" cy="468.4" r="3.0" fill="#5c34a6" opacity="0.55"/><circle cx="174.5" cy="496.4" r="3.4" fill="#55288f" opacity="0.85"/><circle cx="174.9" cy="499.1" r="2.7" fill="#55288f" opacity="0.68"/><circle cx="177.5" cy="523.3" r="1.5" fill="#7040ac" opacity="0.4"/><circle cx="177.8" cy="523.6" r="1.2" fill="#7040ac" opacity="0.32"/><circle cx="281.8" cy="635.3" r="1.8" fill="#55288f" opacity="0.55"/><circle cx="360.5" cy="553.1" r="1.5" fill="#6331a0" opacity="0.55"/><circle cx="363.1" cy="553.0" r="1.2" fill="#6331a0" opacity="0.44"/><circle cx="343.5" cy="499.3" r="3.9" fill="#8460b8" opacity="0.55"/><circle cx="169.1" cy="537.7" r="2.2" fill="#8460b8" opacity="0.85"/><circle cx="172.3" cy="538.9" r="1.8" fill="#8460b8" opacity="0.68"/><circle cx="258.6" cy="604.2" r="1.8" fill="#55288f" opacity="0.85"/><circle cx="255.8" cy="605.9" r="1.4" fill="#55288f" opacity="0.68"/><circle cx="297.6" cy="454.2" r="2.2" fill="#8460b8" opacity="1.0"/><circle cx="158.3" cy="540.2" r="3.4" fill="#7040ac" opacity="0.55"/><circle cx="291.2" cy="674.9" r="1.8" fill="#7040ac" opacity="0.7"/><circle cx="200.0" cy="578.8" r="1.8" fill="#5c34a6" opacity="0.55"/><circle cx="197.7" cy="581.5" r="1.4" fill="#5c34a6" opacity="0.44"/><circle cx="302.8" cy="671.4" r="2.2" fill="#5c34a6" opacity="1.0"/><circle cx="268.3" cy="568.1" r="3.4" fill="#6331a0" opacity="0.7"/><circle cx="269.7" cy="564.9" r="2.7" fill="#6331a0" opacity="0.56"/><circle cx="308.8" cy="545.4" r="3.0" fill="#55288f" opacity="1.0"/><circle cx="272.7" cy="572.1" r="2.2" fill="#55288f" opacity="0.7"/><circle cx="369.9" cy="510.5" r="1.8" fill="#5c34a6" opacity="0.4"/><circle cx="187.3" cy="603.6" r="1.2" fill="#8460b8" opacity="0.85"/><circle cx="236.6" cy="544.7" r="3.9" fill="#8460b8" opacity="0.4"/><circle cx="259.7" cy="528.0" r="2.2" fill="#7040ac" opacity="0.7"/><circle cx="370.5" cy="504.5" r="1.8" fill="#7040ac" opacity="0.7"/><circle cx="373.3" cy="506.8" r="1.4" fill="#7040ac" opacity="0.56"/><circle cx="351.4" cy="499.0" r="2.2" fill="#8460b8" opacity="0.55"/><circle cx="247.7" cy="487.4" r="3.4" fill="#5c34a6" opacity="0.4"/><circle cx="248.7" cy="491.0" r="2.7" fill="#5c34a6" opacity="0.32"/><circle cx="195.9" cy="578.6" r="1.8" fill="#6331a0" opacity="0.85"/><circle cx="341.4" cy="575.7" r="2.6" fill="#55288f" opacity="0.4"/><circle cx="262.0" cy="575.3" r="3.9" fill="#55288f" opacity="0.85"/><circle cx="215.3" cy="515.1" r="2.2" fill="#55288f" opacity="0.7"/><circle cx="211.3" cy="646.5" r="2.6" fill="#6331a0" opacity="0.55"/><circle cx="348.8" cy="477.3" r="1.2" fill="#6331a0" opacity="0.7"/><circle cx="175.9" cy="619.7" r="2.2" fill="#55288f" opacity="0.7"/><circle cx="172.0" cy="500.9" r="1.2" fill="#8460b8" opacity="0.85"/><circle cx="265.6" cy="477.2" r="3.0" fill="#55288f" opacity="0.4"/><circle cx="348.0" cy="638.7" r="2.2" fill="#7040ac" opacity="1.0"/><circle cx="349.6" cy="640.4" r="1.8" fill="#7040ac" opacity="0.80"/><circle cx="180.4" cy="624.8" r="2.6" fill="#7040ac" opacity="0.85"/><circle cx="181.4" cy="622.7" r="2.1" fill="#7040ac" opacity="0.68"/><circle cx="156.5" cy="592.2" r="1.8" fill="#7040ac" opacity="0.55"/><circle cx="156.8" cy="589.5" r="1.4" fill="#7040ac" opacity="0.44"/><circle cx="282.7" cy="464.3" r="3.0" fill="#7040ac" opacity="0.55"/><circle cx="182.9" cy="633.3" r="3.4" fill="#5c34a6" opacity="0.7"/><circle cx="171.8" cy="625.9" r="3.4" fill="#8460b8" opacity="0.4"/><circle cx="172.7" cy="629.1" r="2.7" fill="#8460b8" opacity="0.32"/><circle cx="370.8" cy="530.7" r="1.8" fill="#6331a0" opacity="1.0"/><circle cx="160.6" cy="579.5" r="3.9" fill="#8460b8" opacity="0.55"/><circle cx="246.1" cy="679.7" r="3.0" fill="#55288f" opacity="1.0"/><circle cx="316.6" cy="466.4" r="2.2" fill="#6331a0" opacity="0.7"/><circle cx="207.9" cy="591.7" r="3.9" fill="#5c34a6" opacity="0.55"/><circle cx="211.8" cy="589.8" r="3.1" fill="#5c34a6" opacity="0.44"/><circle cx="208.6" cy="596.6" r="1.8" fill="#6331a0" opacity="0.4"/><circle cx="220.9" cy="656.7" r="3.9" fill="#8460b8" opacity="0.4"/><circle cx="217.9" cy="653.2" r="3.1" fill="#8460b8" opacity="0.32"/><circle cx="252.9" cy="488.6" r="1.8" fill="#55288f" opacity="1.0"/><circle cx="221.3" cy="559.8" r="2.6" fill="#7040ac" opacity="0.7"/><circle cx="352.0" cy="483.3" r="2.6" fill="#5c34a6" opacity="0.85"/><circle cx="365.3" cy="605.6" r="3.9" fill="#8460b8" opacity="0.55"/><circle cx="154.3" cy="607.5" r="1.2" fill="#8460b8" opacity="0.85"/><circle cx="231.3" cy="605.7" r="1.8" fill="#6331a0" opacity="0.7"/><circle cx="323.6" cy="637.9" r="1.5" fill="#5c34a6" opacity="1.0"/><circle cx="348.2" cy="476.8" r="2.6" fill="#7040ac" opacity="0.55"/><circle cx="320.7" cy="462.6" r="2.6" fill="#7040ac" opacity="0.55"/><circle cx="319.2" cy="463.7" r="2.1" fill="#7040ac" opacity="0.44"/><circle cx="169.9" cy="606.0" r="3.4" fill="#6331a0" opacity="0.55"/><circle cx="171.4" cy="608.2" r="2.7" fill="#6331a0" opacity="0.44"/><circle cx="345.8" cy="516.1" r="3.9" fill="#7040ac" opacity="0.55"/><circle cx="322.7" cy="473.3" r="2.2" fill="#8460b8" opacity="0.55"/><circle cx="322.2" cy="472.7" r="1.8" fill="#8460b8" opacity="0.44"/><circle cx="198.2" cy="489.9" r="1.8" fill="#5c34a6" opacity="0.85"/><circle cx="371.9" cy="513.2" r="1.2" fill="#55288f" opacity="1.0"/><circle cx="242.0" cy="547.0" r="2.2" fill="#8460b8" opacity="0.55"/><circle cx="290.7" cy="662.6" r="3.9" fill="#8460b8" opacity="0.85"/><circle cx="162.8" cy="509.4" r="1.5" fill="#7040ac" opacity="0.4"/><circle cx="165.5" cy="510.1" r="1.2" fill="#7040ac" opacity="0.32"/><circle cx="163.0" cy="611.0" r="3.4" fill="#55288f" opacity="0.7"/><circle cx="190.0" cy="595.4" r="2.2" fill="#6331a0" opacity="0.55"/><circle cx="192.2" cy="596.7" r="1.8" fill="#6331a0" opacity="0.44"/><circle cx="271.7" cy="673.5" r="1.5" fill="#5c34a6" opacity="0.7"/><circle cx="176.8" cy="507.6" r="2.6" fill="#7040ac" opacity="0.4"/><circle cx="175.8" cy="505.8" r="2.1" fill="#7040ac" opacity="0.32"/><circle cx="242.6" cy="570.0" r="1.2" fill="#55288f" opacity="0.4"/><circle cx="245.0" cy="572.2" r="1.0" fill="#55288f" opacity="0.32"/><circle cx="338.5" cy="542.4" r="1.8" fill="#6331a0" opacity="1.0"/><circle cx="316.5" cy="463.7" r="1.8" fill="#7040ac" opacity="0.7"/><circle cx="149.9" cy="532.4" r="1.2" fill="#6331a0" opacity="1.0"/><circle cx="172.3" cy="613.6" r="3.4" fill="#8460b8" opacity="0.55"/><circle cx="155.2" cy="554.1" r="3.4" fill="#8460b8" opacity="0.85"/><circle cx="237.0" cy="672.1" r="1.2" fill="#5c34a6" opacity="0.7"/><circle cx="236.2" cy="675.8" r="1.0" fill="#5c34a6" opacity="0.56"/><circle cx="372.2" cy="520.3" r="1.2" fill="#7040ac" opacity="0.7"/><circle cx="370.9" cy="523.2" r="1.0" fill="#7040ac" opacity="0.56"/><circle cx="239.9" cy="619.4" r="2.6" fill="#8460b8" opacity="0.7"/><circle cx="280.6" cy="448.2" r="1.2" fill="#5c34a6" opacity="0.4"/><circle cx="279.1" cy="449.3" r="1.0" fill="#5c34a6" opacity="0.32"/><circle cx="281.1" cy="460.7" r="2.6" fill="#6331a0" opacity="0.85"/><circle cx="280.7" cy="459.4" r="2.1" fill="#6331a0" opacity="0.68"/><circle cx="155.9" cy="609.4" r="3.4" fill="#55288f" opacity="0.4"/><circle cx="159.2" cy="609.0" r="2.7" fill="#55288f" opacity="0.32"/><circle cx="296.1" cy="460.1" r="1.8" fill="#6331a0" opacity="0.55"/><circle cx="299.9" cy="462.9" r="1.4" fill="#6331a0" opacity="0.44"/><circle cx="228.2" cy="560.1" r="3.9" fill="#8460b8" opacity="0.85"/><circle cx="226.1" cy="563.7" r="3.1" fill="#8460b8" opacity="0.68"/><circle cx="215.2" cy="519.4" r="2.2" fill="#6331a0" opacity="0.85"/><circle cx="217.7" cy="522.8" r="1.8" fill="#6331a0" opacity="0.68"/><circle cx="310.7" cy="646.0" r="3.9" fill="#5c34a6" opacity="0.85"/><circle cx="314.5" cy="647.7" r="3.1" fill="#5c34a6" opacity="0.68"/><circle cx="195.9" cy="650.6" r="2.2" fill="#7040ac" opacity="0.7"/><circle cx="153.5" cy="586.5" r="1.5" fill="#7040ac" opacity="0.55"/><circle cx="160.2" cy="585.9" r="2.6" fill="#7040ac" opacity="0.4"/><circle cx="157.2" cy="585.0" r="2.1" fill="#7040ac" opacity="0.32"/><circle cx="330.9" cy="484.1" r="3.9" fill="#6331a0" opacity="0.85"/><circle cx="327.0" cy="487.8" r="3.1" fill="#6331a0" opacity="0.68"/><circle cx="368.6" cy="512.8" r="1.8" fill="#5c34a6" opacity="0.4"/><circle cx="356.8" cy="609.3" r="3.9" fill="#5c34a6" opacity="0.55"/><circle cx="354.1" cy="606.1" r="3.1" fill="#5c34a6" opacity="0.44"/><circle cx="292.5" cy="576.9" r="1.8" fill="#55288f" opacity="1.0"/><circle cx="370.3" cy="542.4" r="1.8" fill="#8460b8" opacity="0.7"/><circle cx="283.9" cy="675.9" r="1.8" fill="#6331a0" opacity="0.55"/><circle cx="285.5" cy="675.6" r="1.4" fill="#6331a0" opacity="0.44"/><circle cx="371.3" cy="512.5" r="2.6" fill="#8460b8" opacity="1.0"/><circle cx="379.1" cy="520.5" r="3.9" fill="#5c34a6" opacity="0.4"/><circle cx="261.3" cy="512.8" r="3.0" fill="#55288f" opacity="0.85"/><circle cx="298.9" cy="658.5" r="3.4" fill="#8460b8" opacity="1.0"/><circle cx="164.6" cy="505.7" r="1.2" fill="#8460b8" opacity="0.85"/><circle cx="165.1" cy="509.1" r="1.0" fill="#8460b8" opacity="0.68"/><circle cx="359.9" cy="501.4" r="1.8" fill="#7040ac" opacity="0.4"/><circle cx="284.1" cy="594.8" r="3.4" fill="#55288f" opacity="0.4"/><circle cx="251.9" cy="674.8" r="1.5" fill="#8460b8" opacity="0.7"/><circle cx="150.5" cy="517.9" r="3.0" fill="#6331a0" opacity="0.7"/><circle cx="252.4" cy="453.2" r="1.5" fill="#5c34a6" opacity="0.55"/><circle cx="210.3" cy="653.6" r="2.6" fill="#8460b8" opacity="0.55"/><circle cx="212.6" cy="652.0" r="2.1" fill="#8460b8" opacity="0.44"/><circle cx="174.4" cy="640.8" r="1.5" fill="#55288f" opacity="0.55"/><circle cx="163.9" cy="591.3" r="2.6" fill="#5c34a6" opacity="1.0"/><circle cx="161.9" cy="592.0" r="2.1" fill="#5c34a6" opacity="0.80"/><circle cx="358.4" cy="605.6" r="1.2" fill="#7040ac" opacity="1.0"/><circle cx="180.4" cy="558.1" r="1.2" fill="#8460b8" opacity="1.0"/><circle cx="205.4" cy="467.2" r="2.2" fill="#8460b8" opacity="0.55"/><circle cx="206.2" cy="464.0" r="1.8" fill="#8460b8" opacity="0.44"/><circle cx="201.1" cy="589.0" r="3.4" fill="#7040ac" opacity="0.85"/><circle cx="349.9" cy="536.1" r="1.5" fill="#7040ac" opacity="0.85"/><circle cx="184.8" cy="645.1" r="2.6" fill="#7040ac" opacity="0.55"/><circle cx="201.6" cy="469.9" r="2.2" fill="#8460b8" opacity="0.85"/><circle cx="205.4" cy="467.8" r="1.8" fill="#8460b8" opacity="0.68"/><circle cx="177.8" cy="494.4" r="3.9" fill="#55288f" opacity="1.0"/><circle cx="178.6" cy="495.5" r="3.1" fill="#55288f" opacity="0.80"/><circle cx="342.2" cy="625.9" r="1.8" fill="#8460b8" opacity="1.0"/><circle cx="231.5" cy="494.5" r="2.2" fill="#6331a0" opacity="0.4"/><circle cx="230.9" cy="497.1" r="1.8" fill="#6331a0" opacity="0.32"/><circle cx="235.1" cy="465.7" r="1.8" fill="#8460b8" opacity="0.55"/><circle cx="188.4" cy="498.3" r="3.4" fill="#7040ac" opacity="0.7"/><circle cx="189.8" cy="496.8" r="2.7" fill="#7040ac" opacity="0.56"/><circle cx="290.0" cy="519.3" r="2.2" fill="#55288f" opacity="0.7"/><circle cx="287.5" cy="522.0" r="1.8" fill="#55288f" opacity="0.56"/><circle cx="339.6" cy="609.0" r="1.8" fill="#7040ac" opacity="0.7"/><circle cx="234.8" cy="603.4" r="1.5" fill="#7040ac" opacity="0.85"/><circle cx="332.2" cy="628.9" r="2.2" fill="#7040ac" opacity="0.4"/><circle cx="329.8" cy="632.7" r="1.8" fill="#7040ac" opacity="0.32"/><circle cx="148.8" cy="595.4" r="2.6" fill="#6331a0" opacity="0.7"/><circle cx="147.8" cy="592.5" r="2.1" fill="#6331a0" opacity="0.56"/><circle cx="244.9" cy="559.0" r="2.2" fill="#55288f" opacity="0.7"/><circle cx="376.1" cy="539.3" r="3.0" fill="#55288f" opacity="0.7"/><circle cx="336.9" cy="637.4" r="3.0" fill="#7040ac" opacity="0.7"/><circle cx="339.6" cy="637.1" r="2.4" fill="#7040ac" opacity="0.56"/><circle cx="338.3" cy="465.7" r="3.0" fill="#5c34a6" opacity="0.55"/><circle cx="272.8" cy="473.7" r="3.4" fill="#8460b8" opacity="0.85"/><circle cx="274.3" cy="470.7" r="2.7" fill="#8460b8" opacity="0.68"/><circle cx="379.5" cy="543.6" r="1.8" fill="#6331a0" opacity="0.4"/><circle cx="228.3" cy="596.7" r="3.9" fill="#7040ac" opacity="0.55"/><circle cx="167.7" cy="486.7" r="1.5" fill="#5c34a6" opacity="1.0"/><circle cx="356.8" cy="639.0" r="3.0" fill="#8460b8" opacity="0.7"/><circle cx="337.3" cy="486.2" r="1.8" fill="#7040ac" opacity="0.55"/><circle cx="334.6" cy="484.8" r="1.4" fill="#7040ac" opacity="0.44"/><circle cx="238.3" cy="619.2" r="2.2" fill="#8460b8" opacity="0.7"/><circle cx="249.3" cy="526.1" r="3.9" fill="#5c34a6" opacity="0.55"/><circle cx="252.8" cy="524.4" r="3.1" fill="#5c34a6" opacity="0.44"/><circle cx="250.0" cy="653.0" r="1.8" fill="#8460b8" opacity="0.4"/><circle cx="169.6" cy="601.8" r="2.2" fill="#6331a0" opacity="0.85"/><circle cx="293.7" cy="470.4" r="2.2" fill="#5c34a6" opacity="1.0"/><circle cx="241.7" cy="671.6" r="1.5" fill="#5c34a6" opacity="0.55"/><circle cx="241.7" cy="671.9" r="1.2" fill="#5c34a6" opacity="0.44"/><circle cx="303.3" cy="645.4" r="3.9" fill="#8460b8" opacity="0.85"/><circle cx="277.6" cy="660.9" r="1.8" fill="#8460b8" opacity="1.0"/><circle cx="202.9" cy="562.2" r="1.2" fill="#8460b8" opacity="0.4"/><circle cx="206.4" cy="558.4" r="1.0" fill="#8460b8" opacity="0.32"/><circle cx="293.0" cy="446.1" r="1.5" fill="#6331a0" opacity="0.85"/><circle cx="292.4" cy="448.5" r="1.2" fill="#6331a0" opacity="0.68"/><circle cx="311.9" cy="653.9" r="2.2" fill="#6331a0" opacity="0.4"/><circle cx="180.9" cy="584.0" r="1.8" fill="#8460b8" opacity="1.0"/><circle cx="227.8" cy="592.5" r="3.0" fill="#8460b8" opacity="1.0"/><circle cx="152.6" cy="513.6" r="3.4" fill="#55288f" opacity="0.7"/><circle cx="262.8" cy="662.7" r="1.8" fill="#55288f" opacity="0.85"/><circle cx="234.0" cy="564.2" r="1.8" fill="#5c34a6" opacity="0.85"/><circle cx="303.3" cy="668.4" r="1.8" fill="#55288f" opacity="1.0"/><circle cx="302.2" cy="667.7" r="1.4" fill="#55288f" opacity="0.80"/><circle cx="215.6" cy="466.5" r="1.2" fill="#5c34a6" opacity="0.7"/><circle cx="222.3" cy="456.7" r="3.0" fill="#5c34a6" opacity="0.55"/><circle cx="225.2" cy="458.4" r="2.4" fill="#5c34a6" opacity="0.44"/><circle cx="214.1" cy="450.3" r="3.4" fill="#7040ac" opacity="0.7"/><circle cx="328.0" cy="495.0" r="2.6" fill="#5c34a6" opacity="0.4"/><circle cx="277.1" cy="600.3" r="2.6" fill="#5c34a6" opacity="0.85"/><circle cx="275.1" cy="603.9" r="2.1" fill="#5c34a6" opacity="0.68"/><circle cx="360.4" cy="593.9" r="3.4" fill="#5c34a6" opacity="0.4"/><circle cx="210.9" cy="465.3" r="2.2" fill="#55288f" opacity="0.7"/><circle cx="338.5" cy="648.1" r="1.8" fill="#6331a0" opacity="0.7"/><circle cx="339.5" cy="646.4" r="1.4" fill="#6331a0" opacity="0.56"/><circle cx="285.0" cy="649.4" r="1.2" fill="#7040ac" opacity="1.0"/><circle cx="284.0" cy="650.4" r="1.0" fill="#7040ac" opacity="0.80"/><circle cx="368.4" cy="589.0" r="1.2" fill="#7040ac" opacity="0.55"/><circle cx="370.3" cy="589.7" r="1.0" fill="#7040ac" opacity="0.44"/><circle cx="368.9" cy="559.3" r="2.6" fill="#55288f" opacity="0.4"/><circle cx="185.0" cy="534.7" r="3.4" fill="#55288f" opacity="0.7"/><circle cx="186.4" cy="532.2" r="2.7" fill="#55288f" opacity="0.56"/><circle cx="244.3" cy="592.7" r="2.6" fill="#5c34a6" opacity="1.0"/><circle cx="208.2" cy="652.5" r="3.4" fill="#6331a0" opacity="0.7"/><circle cx="210.6" cy="649.4" r="2.7" fill="#6331a0" opacity="0.56"/><circle cx="234.5" cy="631.4" r="3.4" fill="#55288f" opacity="0.85"/><circle cx="236.1" cy="628.0" r="2.7" fill="#55288f" opacity="0.68"/><circle cx="169.8" cy="510.5" r="2.2" fill="#8460b8" opacity="0.7"/><circle cx="193.4" cy="644.6" r="2.6" fill="#6331a0" opacity="0.55"/><circle cx="163.4" cy="523.2" r="1.5" fill="#5c34a6" opacity="0.55"/><circle cx="163.9" cy="525.1" r="1.2" fill="#5c34a6" opacity="0.44"/><circle cx="221.9" cy="644.3" r="3.9" fill="#8460b8" opacity="0.55"/><circle cx="306.7" cy="607.4" r="3.9" fill="#8460b8" opacity="0.55"/><circle cx="301.3" cy="593.4" r="2.2" fill="#6331a0" opacity="0.85"/><circle cx="299.9" cy="593.7" r="1.8" fill="#6331a0" opacity="0.68"/><circle cx="381.9" cy="535.0" r="1.2" fill="#8460b8" opacity="0.55"/><circle cx="351.7" cy="624.6" r="1.5" fill="#5c34a6" opacity="0.55"/><circle cx="164.7" cy="612.1" r="1.2" fill="#6331a0" opacity="1.0"/><circle cx="204.1" cy="611.4" r="1.8" fill="#7040ac" opacity="0.85"/><circle cx="282.4" cy="671.2" r="1.8" fill="#55288f" opacity="0.4"/><circle cx="194.2" cy="564.5" r="1.5" fill="#6331a0" opacity="0.85"/><circle cx="194.4" cy="567.7" r="1.2" fill="#6331a0" opacity="0.68"/><circle cx="259.7" cy="583.6" r="1.2" fill="#7040ac" opacity="0.4"/><circle cx="285.2" cy="596.6" r="2.6" fill="#7040ac" opacity="0.7"/><circle cx="301.0" cy="509.5" r="1.8" fill="#6331a0" opacity="0.85"/><circle cx="239.8" cy="478.7" r="1.5" fill="#8460b8" opacity="0.55"/><circle cx="162.8" cy="586.0" r="1.2" fill="#6331a0" opacity="0.7"/><circle cx="262.3" cy="578.4" r="3.0" fill="#7040ac" opacity="0.4"/><circle cx="327.5" cy="478.9" r="3.9" fill="#55288f" opacity="0.85"/><circle cx="260.0" cy="618.8" r="1.2" fill="#6331a0" opacity="1.0"/><circle cx="291.0" cy="648.0" r="1.8" fill="#5c34a6" opacity="0.4"/><circle cx="292.0" cy="646.6" r="1.4" fill="#5c34a6" opacity="0.32"/><circle cx="228.7" cy="576.2" r="2.6" fill="#7040ac" opacity="0.4"/><circle cx="232.2" cy="579.3" r="2.1" fill="#7040ac" opacity="0.32"/><circle cx="273.8" cy="679.2" r="3.9" fill="#5c34a6" opacity="0.4"/><circle cx="270.4" cy="677.7" r="3.1" fill="#5c34a6" opacity="0.32"/><circle cx="228.5" cy="521.8" r="1.5" fill="#8460b8" opacity="0.4"/><circle cx="319.0" cy="493.0" r="1.5" fill="#5c34a6" opacity="1.0"/><circle cx="334.4" cy="565.7" r="2.2" fill="#8460b8" opacity="0.4"/><circle cx="262.1" cy="570.8" r="1.2" fill="#55288f" opacity="0.7"/><circle cx="252.7" cy="643.5" r="3.4" fill="#8460b8" opacity="0.7"/><circle cx="371.1" cy="565.1" r="3.4" fill="#6331a0" opacity="0.7"/><circle cx="374.7" cy="565.5" r="1.2" fill="#7040ac" opacity="0.55"/><circle cx="374.0" cy="561.9" r="1.0" fill="#7040ac" opacity="0.44"/><circle cx="371.4" cy="516.4" r="1.5" fill="#5c34a6" opacity="0.4"/><circle cx="240.9" cy="611.8" r="2.6" fill="#8460b8" opacity="0.4"/><circle cx="242.5" cy="608.3" r="2.1" fill="#8460b8" opacity="0.32"/><circle cx="193.7" cy="597.5" r="3.0" fill="#55288f" opacity="0.55"/><circle cx="279.3" cy="506.3" r="1.2" fill="#6331a0" opacity="0.85"/><circle cx="239.0" cy="460.8" r="2.6" fill="#5c34a6" opacity="0.85"/><circle cx="256.7" cy="573.3" r="2.6" fill="#55288f" opacity="0.7"/><circle cx="271.3" cy="484.1" r="1.8" fill="#6331a0" opacity="0.85"/><circle cx="344.8" cy="640.9" r="1.8" fill="#7040ac" opacity="0.4"/><circle cx="302.2" cy="456.4" r="1.5" fill="#5c34a6" opacity="0.55"/><circle cx="153.0" cy="523.1" r="1.5" fill="#7040ac" opacity="0.55"/><circle cx="149.9" cy="524.0" r="1.2" fill="#7040ac" opacity="0.44"/><circle cx="301.4" cy="501.6" r="2.6" fill="#8460b8" opacity="0.4"/><circle cx="243.0" cy="627.4" r="2.6" fill="#5c34a6" opacity="0.7"/><circle cx="189.2" cy="468.0" r="1.8" fill="#6331a0" opacity="0.7"/><circle cx="146.6" cy="565.2" r="2.6" fill="#55288f" opacity="0.7"/><circle cx="300.6" cy="497.5" r="3.0" fill="#5c34a6" opacity="1.0"/><circle cx="303.3" cy="498.9" r="2.4" fill="#5c34a6" opacity="0.80"/><circle cx="159.0" cy="533.3" r="3.4" fill="#6331a0" opacity="0.7"/><circle cx="270.4" cy="648.1" r="1.5" fill="#6331a0" opacity="0.55"/><circle cx="272.9" cy="645.4" r="1.2" fill="#6331a0" opacity="0.44"/><circle cx="356.7" cy="602.3" r="1.2" fill="#8460b8" opacity="0.85"/><circle cx="352.7" cy="604.7" r="1.0" fill="#8460b8" opacity="0.68"/><circle cx="232.1" cy="561.9" r="1.8" fill="#6331a0" opacity="0.7"/><circle cx="298.2" cy="652.5" r="1.2" fill="#6331a0" opacity="0.85"/><circle cx="300.4" cy="649.0" r="1.0" fill="#6331a0" opacity="0.68"/><circle cx="211.6" cy="542.2" r="3.0" fill="#8460b8" opacity="0.85"/><circle cx="341.0" cy="630.1" r="2.6" fill="#7040ac" opacity="1.0"/><circle cx="268.9" cy="451.6" r="3.9" fill="#8460b8" opacity="0.7"/><circle cx="272.5" cy="453.0" r="3.1" fill="#8460b8" opacity="0.56"/><circle cx="205.1" cy="586.8" r="3.0" fill="#8460b8" opacity="1.0"/><circle cx="175.8" cy="531.3" r="3.0" fill="#8460b8" opacity="0.7"/><circle cx="265.4" cy="461.6" r="2.6" fill="#5c34a6" opacity="0.4"/><circle cx="266.4" cy="461.3" r="2.1" fill="#5c34a6" opacity="0.32"/><circle cx="222.2" cy="613.1" r="1.5" fill="#6331a0" opacity="0.4"/><circle cx="213.0" cy="509.2" r="1.8" fill="#5c34a6" opacity="0.85"/><circle cx="215.3" cy="506.7" r="1.4" fill="#5c34a6" opacity="0.68"/><circle cx="307.5" cy="499.7" r="3.9" fill="#8460b8" opacity="0.85"/><circle cx="210.8" cy="504.1" r="3.4" fill="#5c34a6" opacity="0.7"/><circle cx="212.4" cy="505.2" r="2.7" fill="#5c34a6" opacity="0.56"/><circle cx="380.4" cy="571.2" r="3.0" fill="#7040ac" opacity="0.4"/><circle cx="273.0" cy="588.1" r="2.2" fill="#8460b8" opacity="0.55"/><circle cx="295.2" cy="588.3" r="1.2" fill="#7040ac" opacity="0.85"/><circle cx="294.1" cy="591.8" r="1.0" fill="#7040ac" opacity="0.68"/><circle cx="206.1" cy="545.4" r="3.0" fill="#7040ac" opacity="0.85"/><circle cx="192.8" cy="474.8" r="3.0" fill="#5c34a6" opacity="0.4"/><circle cx="242.3" cy="668.1" r="2.6" fill="#55288f" opacity="1.0"/><circle cx="245.9" cy="664.5" r="2.1" fill="#55288f" opacity="0.80"/><circle cx="160.3" cy="583.5" r="3.4" fill="#7040ac" opacity="1.0"/><circle cx="207.2" cy="456.4" r="1.8" fill="#8460b8" opacity="0.85"/><circle cx="300.2" cy="660.8" r="2.6" fill="#5c34a6" opacity="1.0"/><circle cx="367.8" cy="517.4" r="2.2" fill="#8460b8" opacity="0.55"/><circle cx="336.7" cy="510.1" r="2.2" fill="#55288f" opacity="0.4"/><circle cx="333.9" cy="512.0" r="1.8" fill="#55288f" opacity="0.32"/><circle cx="330.5" cy="651.1" r="3.9" fill="#8460b8" opacity="0.85"/><circle cx="302.6" cy="520.6" r="1.8" fill="#6331a0" opacity="0.55"/><circle cx="231.5" cy="548.2" r="2.6" fill="#6331a0" opacity="0.7"/><circle cx="240.9" cy="457.8" r="2.6" fill="#5c34a6" opacity="0.4"/><circle cx="267.6" cy="652.9" r="2.6" fill="#55288f" opacity="0.85"/><circle cx="345.4" cy="470.5" r="2.2" fill="#55288f" opacity="1.0"/><circle cx="155.2" cy="575.9" r="3.4" fill="#55288f" opacity="0.4"/><circle cx="258.4" cy="542.7" r="3.0" fill="#5c34a6" opacity="1.0"/><circle cx="261.5" cy="540.4" r="2.4" fill="#5c34a6" opacity="0.80"/><circle cx="327.6" cy="643.8" r="1.5" fill="#7040ac" opacity="0.4"/><circle cx="246.5" cy="657.6" r="1.5" fill="#6331a0" opacity="0.4"/><circle cx="302.2" cy="608.1" r="2.2" fill="#6331a0" opacity="0.7"/><circle cx="303.4" cy="607.6" r="1.8" fill="#6331a0" opacity="0.56"/><circle cx="168.6" cy="621.2" r="3.0" fill="#6331a0" opacity="0.7"/><circle cx="347.2" cy="493.6" r="2.2" fill="#6331a0" opacity="1.0"/><circle cx="278.1" cy="535.9" r="2.6" fill="#7040ac" opacity="0.4"/><circle cx="209.2" cy="668.2" r="1.8" fill="#55288f" opacity="0.4"/><circle cx="212.4" cy="667.5" r="1.4" fill="#55288f" opacity="0.32"/><circle cx="185.5" cy="543.8" r="2.2" fill="#55288f" opacity="0.55"/><circle cx="196.7" cy="653.5" r="1.5" fill="#7040ac" opacity="0.7"/><circle cx="264.7" cy="524.2" r="3.4" fill="#6331a0" opacity="0.7"/><circle cx="158.1" cy="518.4" r="1.5" fill="#55288f" opacity="0.55"/><circle cx="383.7" cy="578.0" r="3.4" fill="#6331a0" opacity="0.55"/><circle cx="255.1" cy="647.4" r="3.9" fill="#7040ac" opacity="0.55"/><circle cx="251.8" cy="643.7" r="3.1" fill="#7040ac" opacity="0.44"/><circle cx="361.4" cy="494.9" r="3.0" fill="#5c34a6" opacity="0.85"/><circle cx="202.1" cy="531.8" r="3.9" fill="#55288f" opacity="0.4"/><circle cx="330.4" cy="545.9" r="1.5" fill="#55288f" opacity="0.7"/><circle cx="243.2" cy="586.3" r="1.2" fill="#55288f" opacity="0.85"/><circle cx="330.8" cy="652.5" r="3.4" fill="#7040ac" opacity="0.7"/><circle cx="332.6" cy="653.1" r="2.7" fill="#7040ac" opacity="0.56"/><circle cx="325.3" cy="604.5" r="3.0" fill="#8460b8" opacity="0.55"/><circle cx="328.0" cy="605.2" r="2.4" fill="#8460b8" opacity="0.44"/><circle cx="252.1" cy="554.8" r="3.9" fill="#5c34a6" opacity="0.85"/><circle cx="254.4" cy="552.4" r="3.1" fill="#5c34a6" opacity="0.68"/><circle cx="203.2" cy="645.6" r="3.4" fill="#8460b8" opacity="0.55"/><circle cx="205.2" cy="646.6" r="2.7" fill="#8460b8" opacity="0.44"/><circle cx="249.1" cy="526.7" r="1.8" fill="#8460b8" opacity="0.55"/><circle cx="266.7" cy="658.7" r="3.9" fill="#7040ac" opacity="0.4"/><circle cx="270.5" cy="660.2" r="3.1" fill="#7040ac" opacity="0.32"/><circle cx="290.0" cy="519.9" r="1.2" fill="#8460b8" opacity="0.85"/><circle cx="291.5" cy="518.9" r="1.0" fill="#8460b8" opacity="0.68"/><circle cx="255.5" cy="663.6" r="1.5" fill="#5c34a6" opacity="0.85"/><circle cx="252.5" cy="660.3" r="1.2" fill="#5c34a6" opacity="0.68"/><circle cx="249.3" cy="586.1" r="1.2" fill="#7040ac" opacity="0.85"/><circle cx="334.5" cy="654.0" r="1.8" fill="#55288f" opacity="0.55"/><circle cx="165.0" cy="599.6" r="3.9" fill="#7040ac" opacity="0.85"/><circle cx="303.0" cy="610.8" r="3.9" fill="#6331a0" opacity="0.4"/><circle cx="302.9" cy="613.2" r="3.1" fill="#6331a0" opacity="0.32"/><circle cx="297.0" cy="489.0" r="2.2" fill="#55288f" opacity="0.7"/><circle cx="295.0" cy="491.1" r="1.8" fill="#55288f" opacity="0.56"/><circle cx="343.8" cy="645.7" r="2.2" fill="#6331a0" opacity="0.4"/><circle cx="343.2" cy="644.8" r="1.8" fill="#6331a0" opacity="0.32"/><circle cx="225.2" cy="454.7" r="2.6" fill="#8460b8" opacity="0.55"/><circle cx="223.4" cy="452.5" r="2.1" fill="#8460b8" opacity="0.44"/><circle cx="317.2" cy="463.9" r="1.5" fill="#55288f" opacity="1.0"/><circle cx="268.1" cy="454.8" r="1.5" fill="#7040ac" opacity="1.0"/><circle cx="271.5" cy="456.2" r="1.2" fill="#7040ac" opacity="0.80"/><circle cx="204.0" cy="611.9" r="1.2" fill="#8460b8" opacity="0.7"/><circle cx="206.4" cy="611.7" r="1.0" fill="#8460b8" opacity="0.56"/><circle cx="297.5" cy="605.4" r="2.2" fill="#6331a0" opacity="1.0"/><circle cx="201.2" cy="646.1" r="2.2" fill="#55288f" opacity="1.0"/><circle cx="203.0" cy="643.0" r="1.8" fill="#55288f" opacity="0.80"/><circle cx="295.4" cy="673.8" r="1.2" fill="#7040ac" opacity="0.55"/><circle cx="321.7" cy="602.6" r="1.2" fill="#7040ac" opacity="1.0"/><circle cx="211.3" cy="661.1" r="1.5" fill="#55288f" opacity="0.85"/><circle cx="209.6" cy="663.5" r="1.2" fill="#55288f" opacity="0.68"/><circle cx="386.0" cy="554.5" r="3.4" fill="#8460b8" opacity="0.55"/><circle cx="388.2" cy="554.9" r="2.7" fill="#8460b8" opacity="0.44"/><circle cx="221.6" cy="460.0" r="2.6" fill="#5c34a6" opacity="0.85"/><circle cx="244.0" cy="668.2" r="1.5" fill="#6331a0" opacity="0.4"/><circle cx="222.8" cy="552.6" r="3.0" fill="#7040ac" opacity="0.7"/><circle cx="221.6" cy="623.3" r="3.0" fill="#6331a0" opacity="0.55"/><circle cx="153.7" cy="607.4" r="3.0" fill="#5c34a6" opacity="0.85"/><circle cx="156.6" cy="610.3" r="2.4" fill="#5c34a6" opacity="0.68"/><circle cx="339.8" cy="535.6" r="3.4" fill="#8460b8" opacity="0.4"/><circle cx="340.8" cy="536.2" r="2.7" fill="#8460b8" opacity="0.32"/><circle cx="156.2" cy="531.3" r="3.9" fill="#8460b8" opacity="1.0"/><circle cx="357.6" cy="501.5" r="2.6" fill="#55288f" opacity="0.4"/><circle cx="353.9" cy="505.0" r="2.1" fill="#55288f" opacity="0.32"/><circle cx="372.5" cy="607.1" r="2.6" fill="#6331a0" opacity="0.55"/><circle cx="357.3" cy="520.7" r="3.9" fill="#6331a0" opacity="1.0"/><circle cx="359.1" cy="517.7" r="3.1" fill="#6331a0" opacity="0.80"/><circle cx="358.1" cy="526.6" r="3.9" fill="#55288f" opacity="1.0"/><circle cx="244.3" cy="663.9" r="1.8" fill="#8460b8" opacity="0.55"/><circle cx="247.3" cy="661.7" r="1.4" fill="#8460b8" opacity="0.44"/><circle cx="269.3" cy="579.8" r="3.9" fill="#6331a0" opacity="0.55"/><circle cx="269.7" cy="580.6" r="3.1" fill="#6331a0" opacity="0.44"/><circle cx="248.9" cy="524.3" r="3.0" fill="#8460b8" opacity="0.4"/><circle cx="245.6" cy="526.5" r="2.4" fill="#8460b8" opacity="0.32"/><circle cx="340.8" cy="638.4" r="3.0" fill="#5c34a6" opacity="1.0"/><circle cx="160.4" cy="521.6" r="1.2" fill="#8460b8" opacity="0.55"/><circle cx="156.9" cy="522.8" r="1.0" fill="#8460b8" opacity="0.44"/><circle cx="212.6" cy="665.8" r="3.0" fill="#8460b8" opacity="1.0"/><circle cx="260.8" cy="486.1" r="3.4" fill="#7040ac" opacity="0.85"/><circle cx="212.2" cy="464.2" r="2.2" fill="#7040ac" opacity="0.4"/><circle cx="346.8" cy="590.3" r="2.2" fill="#6331a0" opacity="0.4"/><circle cx="247.9" cy="556.7" r="1.2" fill="#8460b8" opacity="1.0"/><circle cx="251.9" cy="555.2" r="1.0" fill="#8460b8" opacity="0.80"/><circle cx="204.7" cy="652.6" r="1.5" fill="#5c34a6" opacity="0.85"/><circle cx="202.3" cy="652.2" r="1.2" fill="#5c34a6" opacity="0.68"/><circle cx="361.2" cy="493.3" r="2.6" fill="#55288f" opacity="0.4"/><circle cx="307.4" cy="591.9" r="1.5" fill="#8460b8" opacity="1.0"/><circle cx="234.2" cy="539.5" r="3.0" fill="#55288f" opacity="1.0"/><circle cx="233.7" cy="536.1" r="2.4" fill="#55288f" opacity="0.80"/><circle cx="358.6" cy="486.0" r="2.2" fill="#6331a0" opacity="0.4"/><circle cx="201.6" cy="536.2" r="1.5" fill="#55288f" opacity="1.0"/><circle cx="203.6" cy="538.2" r="1.2" fill="#55288f" opacity="0.80"/></g>
</g>
<rect x="130.4" y="429.6" width="266.5" height="262.0" fill="none" stroke="#000" stroke-width="2.8" />
<text x="113.0" y="231.0" font-family='"Liberation Sans", sans-serif' font-size="32" font-weight="bold" text-anchor="middle" fill="#000" transform="rotate(-90 113.0 231.0)" >NC</text>
<text x="113.0" y="571.0" font-family='"Liberation Sans", sans-serif' font-size="32" font-weight="bold" text-anchor="middle" fill="#000" transform="rotate(-90 113.0 571.0)" >OE-Beclin 2</text>
<rect x="631.0" y="256.0" width="110.5" height="304.0" fill="#bdcfe8" stroke="none" stroke-width="0" />
<path d="M632.5 560.0L632.5 257.4L740.0 257.4L740.0 560.0" fill="none" stroke="#8ea3cb" stroke-width="2.9" stroke-linejoin="miter"/>
<path d="M635.4 560.0L635.4 260.4L737.1 260.4L737.1 560.0" fill="none" stroke="#6b87b8" stroke-width="2.9" stroke-linejoin="miter"/>
<rect x="797.0" y="373.0" width="110.5" height="187.0" fill="#d0c4e0" stroke="none" stroke-width="0" />
<path d="M798.5 560.0L798.5 374.4L906.0 374.4L906.0 560.0" fill="none" stroke="#a08fc4" stroke-width="2.9" stroke-linejoin="miter"/>
<path d="M801.4 560.0L801.4 377.4L903.1 377.4L903.1 560.0" fill="none" stroke="#846eb0" stroke-width="2.9" stroke-linejoin="miter"/>
<line x1="576.0" y1="172.0" x2="576.0" y2="562.0" stroke="#000" stroke-width="4" />
<line x1="574.0" y1="560.0" x2="965.0" y2="560.0" stroke="#000" stroke-width="4" />
<line x1="559.0" y1="174.0" x2="576.0" y2="174.0" stroke="#000" stroke-width="4" />
<text x="554.0" y="184.0" font-family='"Liberation Sans", sans-serif' font-size="28" font-weight="bold" text-anchor="end" fill="#000" >400</text>
<line x1="559.0" y1="270.5" x2="576.0" y2="270.5" stroke="#000" stroke-width="4" />
<text x="554.0" y="280.5" font-family='"Liberation Sans", sans-serif' font-size="28" font-weight="bold" text-anchor="end" fill="#000" >300</text>
<line x1="559.0" y1="367.0" x2="576.0" y2="367.0" stroke="#000" stroke-width="4" />
<text x="554.0" y="377.0" font-family='"Liberation Sans", sans-serif' font-size="28" font-weight="bold" text-anchor="end" fill="#000" >200</text>
<line x1="559.0" y1="463.5" x2="576.0" y2="463.5" stroke="#000" stroke-width="4" />
<text x="554.0" y="473.5" font-family='"Liberation Sans", sans-serif' font-size="28" font-weight="bold" text-anchor="end" fill="#000" >100</text>
<line x1="559.0" y1="560.0" x2="576.0" y2="560.0" stroke="#000" stroke-width="4" />
<text x="554.0" y="570.0" font-family='"Liberation Sans", sans-serif' font-size="28" font-weight="bold" text-anchor="end" fill="#000" >0</text>
<line x1="686.3" y1="231.5" x2="686.3" y2="257.0" stroke="#8fa3c9" stroke-width="2" />
<line x1="658.8" y1="231.5" x2="713.8" y2="231.5" stroke="#8fa3c9" stroke-width="2" />
<line x1="852.3" y1="351.5" x2="852.3" y2="374.0" stroke="#a08cc8" stroke-width="2" />
<line x1="824.8" y1="351.5" x2="879.8" y2="351.5" stroke="#a08cc8" stroke-width="2" />
<polyline points="686.3,209.0 686.3,186.0 852.3,186.0 852.3,328.0" fill="none" stroke="#000" stroke-width="4" stroke-linejoin="miter"/>
<path d="M758.2 152.2L758.2 165.8M752.4 155.6L764.1 162.4M764.1 155.6L752.4 162.4M779.8 152.2L779.8 165.8M773.9 155.6L785.6 162.4M785.6 155.6L773.9 162.4" stroke="#000" stroke-width="5.0" stroke-linecap="round" fill="none"/>
<line x1="686.3" y1="560.0" x2="686.3" y2="578.0" stroke="#000" stroke-width="4" />
<line x1="852.3" y1="560.0" x2="852.3" y2="578.0" stroke="#000" stroke-width="4" />
<text x="700.0" y="598.0" font-family='"Liberation Sans", sans-serif' font-size="26.5" font-weight="bold" text-anchor="end" fill="#000" transform="rotate(-45 700.0 598.0)" >NC</text>
<text x="866.0" y="598.0" font-family='"Liberation Sans", sans-serif' font-size="26.5" font-weight="bold" text-anchor="end" fill="#000" transform="rotate(-45 866.0 598.0)" >OE-Beclin2</text>
<text x="483.0" y="378.0" font-family='"Liberation Sans", sans-serif' font-size="26" font-weight="bold" text-anchor="middle" fill="#000" transform="rotate(-90 483.0 378.0)" >Colony Number</text>
<text x="906.0" y="58.0" font-family='"Liberation Serif", serif' font-size="69" font-weight="normal" text-anchor="start" fill="#000" >(B)</text>
<filter id="fw1" x="0" y="0" width="100%" height="100%" color-interpolation-filters="sRGB"><feTurbulence type="fractalNoise" baseFrequency="0.62" numOctaves="2" seed="8"/><feColorMatrix type="matrix" values="0.95 0 0 0 -0.208  0.95 0 0 0 -0.208  0.95 0 0 0 -0.208  0 0 0 0 1"/></filter>
<clipPath id="cw1"><rect x="1043" y="184" width="296.5" height="221.5"/></clipPath>
<g clip-path="url(#cw1)">
<rect x="1043.0" y="184.0" width="296.5" height="221.5" fill="#4a4a4a" stroke="none" stroke-width="0" filter="url(#fw1)"/>
<circle cx="1082.8" cy="371.7" r="0.8" fill="#cfcfcf" opacity="0.6"/><circle cx="1078.0" cy="352.6" r="1.0" fill="#cfcfcf" opacity="0.8"/><circle cx="1155.6" cy="230.5" r="1.0" fill="#cfcfcf" opacity="0.4"/><circle cx="1307.9" cy="270.3" r="1.3" fill="#cfcfcf" opacity="0.4"/><circle cx="1249.3" cy="243.0" r="0.8" fill="#cfcfcf" opacity="0.8"/><circle cx="1323.3" cy="383.7" r="0.8" fill="#cfcfcf" opacity="0.4"/><circle cx="1050.5" cy="303.9" r="1.0" fill="#cfcfcf" opacity="0.8"/><circle cx="1107.2" cy="277.5" r="0.8" fill="#cfcfcf" opacity="0.8"/><circle cx="1108.7" cy="281.0" r="1.0" fill="#cfcfcf" opacity="0.8"/><circle cx="1112.1" cy="235.1" r="0.8" fill="#cfcfcf" opacity="0.6"/><circle cx="1325.3" cy="389.2" r="1.0" fill="#cfcfcf" opacity="0.8"/><circle cx="1316.4" cy="206.2" r="1.3" fill="#cfcfcf" opacity="0.8"/><circle cx="1298.0" cy="210.8" r="1.0" fill="#cfcfcf" opacity="0.8"/><circle cx="1331.6" cy="294.9" r="1.0" fill="#cfcfcf" opacity="0.8"/><circle cx="1289.1" cy="332.5" r="1.0" fill="#cfcfcf" opacity="0.6"/><circle cx="1217.2" cy="379.5" r="1.3" fill="#cfcfcf" opacity="0.6"/><circle cx="1217.6" cy="191.6" r="0.8" fill="#cfcfcf" opacity="0.8"/><circle cx="1279.4" cy="275.8" r="0.8" fill="#cfcfcf" opacity="0.6"/><circle cx="1205.7" cy="339.7" r="1.3" fill="#cfcfcf" opacity="0.8"/><circle cx="1154.1" cy="281.2" r="1.3" fill="#cfcfcf" opacity="0.4"/><circle cx="1273.8" cy="299.4" r="1.0" fill="#cfcfcf" opacity="0.6"/><circle cx="1188.2" cy="190.6" r="0.8" fill="#cfcfcf" opacity="0.6"/><circle cx="1251.6" cy="401.8" r="1.3" fill="#cfcfcf" opacity="0.8"/><circle cx="1159.7" cy="221.7" r="1.3" fill="#cfcfcf" opacity="0.4"/><circle cx="1334.2" cy="354.7" r="1.3" fill="#cfcfcf" opacity="0.8"/><circle cx="1111.8" cy="297.8" r="1.3" fill="#cfcfcf" opacity="0.6"/><circle cx="1179.1" cy="243.6" r="1.3" fill="#cfcfcf" opacity="0.8"/><circle cx="1326.8" cy="185.3" r="1.3" fill="#cfcfcf" opacity="0.8"/><circle cx="1282.9" cy="298.9" r="1.3" fill="#cfcfcf" opacity="0.4"/><circle cx="1169.3" cy="196.4" r="1.0" fill="#cfcfcf" opacity="0.8"/><circle cx="1207.4" cy="392.4" r="1.0" fill="#cfcfcf" opacity="0.6"/><circle cx="1284.2" cy="275.8" r="0.8" fill="#cfcfcf" opacity="0.8"/><circle cx="1203.1" cy="358.2" r="1.0" fill="#cfcfcf" opacity="0.6"/><circle cx="1220.9" cy="362.2" r="1.3" fill="#cfcfcf" opacity="0.4"/><circle cx="1206.3" cy="224.0" r="0.8" fill="#cfcfcf" opacity="0.8"/><circle cx="1279.3" cy="364.8" r="1.0" fill="#cfcfcf" opacity="0.4"/><circle cx="1292.6" cy="333.1" r="0.8" fill="#cfcfcf" opacity="0.4"/><circle cx="1177.3" cy="351.0" r="1.0" fill="#cfcfcf" opacity="0.4"/><circle cx="1122.7" cy="360.6" r="0.8" fill="#cfcfcf" opacity="0.6"/><circle cx="1129.1" cy="221.1" r="1.0" fill="#cfcfcf" opacity="0.8"/><circle cx="1325.3" cy="329.4" r="1.3" fill="#cfcfcf" opacity="0.8"/><circle cx="1130.3" cy="339.6" r="1.0" fill="#cfcfcf" opacity="0.6"/><circle cx="1076.9" cy="253.1" r="1.0" fill="#cfcfcf" opacity="0.6"/><circle cx="1279.1" cy="241.2" r="1.0" fill="#cfcfcf" opacity="0.8"/><circle cx="1194.2" cy="230.3" r="1.3" fill="#cfcfcf" opacity="0.6"/><circle cx="1285.3" cy="188.6" r="0.8" fill="#cfcfcf" opacity="0.6"/><circle cx="1086.4" cy="343.2" r="0.8" fill="#cfcfcf" opacity="0.6"/><circle cx="1251.9" cy="334.2" r="1.3" fill="#cfcfcf" opacity="0.4"/><circle cx="1332.7" cy="323.7" r="1.3" fill="#cfcfcf" opacity="0.8"/><circle cx="1176.7" cy="300.0" r="0.8" fill="#cfcfcf" opacity="0.6"/><circle cx="1243.1" cy="361.9" r="1.3" fill="#cfcfcf" opacity="0.8"/><circle cx="1169.4" cy="347.3" r="0.8" fill="#cfcfcf" opacity="0.4"/><circle cx="1302.6" cy="251.9" r="0.8" fill="#cfcfcf" opacity="0.6"/><circle cx="1314.9" cy="250.0" r="0.8" fill="#cfcfcf" opacity="0.6"/><circle cx="1210.5" cy="212.9" r="1.3" fill="#cfcfcf" opacity="0.4"/><circle cx="1218.1" cy="232.2" r="1.3" fill="#cfcfcf" opacity="0.6"/><circle cx="1093.9" cy="376.2" r="1.3" fill="#cfcfcf" opacity="0.8"/>
<polygon points="1043.0,285.8 1046.1,285.4 1049.2,284.7 1052.4,284.3 1055.5,283.6 1058.6,284.0 1061.7,283.2 1064.8,282.3 1068.0,281.7 1071.1,282.3 1074.2,281.2 1077.3,281.2 1080.5,280.5 1083.6,281.0 1086.7,280.7 1089.8,278.6 1092.9,278.6 1096.1,278.4 1099.2,279.1 1102.3,278.3 1105.4,277.1 1108.5,276.5 1111.7,276.9 1114.8,276.8 1117.9,276.5 1121.0,275.0 1124.1,275.6 1127.3,274.8 1130.4,274.0 1133.5,274.5 1136.6,272.8 1139.8,273.2 1142.9,271.6 1146.0,271.4 1149.1,272.3 1152.2,270.6 1155.4,271.2 1158.5,270.5 1161.6,270.5 1164.7,269.2 1167.8,268.8 1171.0,268.2 1174.1,268.9 1177.2,268.0 1180.3,268.2 1183.4,267.6 1186.6,265.9 1189.7,266.2 1192.8,265.0 1195.9,264.4 1199.1,264.1 1202.2,265.1 1205.3,264.5 1208.4,264.2 1211.5,262.9 1214.7,263.0 1217.8,262.8 1220.9,261.7 1224.0,261.6 1227.1,260.6 1230.3,259.9 1233.4,259.8 1236.5,260.5 1239.6,259.5 1242.7,259.8 1245.9,258.5 1249.0,257.7 1252.1,258.2 1255.2,257.9 1258.4,256.0 1261.5,256.8 1264.6,255.3 1267.7,254.9 1270.8,255.9 1274.0,254.0 1277.1,253.9 1280.2,254.8 1283.3,253.4 1286.4,252.4 1289.6,252.1 1292.7,251.8 1295.8,252.3 1298.9,250.7 1302.0,251.8 1305.2,250.4 1308.3,251.0 1311.4,250.5 1314.5,249.0 1317.7,248.5 1320.8,248.5 1323.9,247.4 1327.0,247.9 1330.1,246.4 1333.3,246.0 1336.4,247.3 1339.5,246.0 1339.5,314.0 1336.4,314.5 1333.3,314.6 1330.1,315.4 1327.0,314.7 1323.9,315.5 1320.8,316.1 1317.7,316.6 1314.5,317.1 1311.4,318.2 1308.3,318.0 1305.2,318.4 1302.0,319.3 1298.9,320.0 1295.8,318.7 1292.7,319.5 1289.6,320.6 1286.4,321.1 1283.3,320.5 1280.2,321.4 1277.1,321.3 1274.0,322.6 1270.8,323.1 1267.7,323.7 1264.6,324.2 1261.5,324.4 1258.4,325.0 1255.2,324.3 1252.1,324.2 1249.0,326.2 1245.9,325.2 1242.7,326.9 1239.6,326.3 1236.5,327.8 1233.4,327.4 1230.3,327.1 1227.1,327.9 1224.0,329.2 1220.9,329.9 1217.8,329.9 1214.7,329.2 1211.5,331.0 1208.4,329.8 1205.3,331.5 1202.2,331.4 1199.1,331.1 1195.9,332.8 1192.8,332.5 1189.7,333.5 1186.6,333.0 1183.4,334.0 1180.3,333.4 1177.2,333.8 1174.1,335.0 1171.0,334.5 1167.8,335.2 1164.7,335.2 1161.6,336.0 1158.5,337.1 1155.4,337.4 1152.2,337.8 1149.1,337.8 1146.0,338.1 1142.9,339.6 1139.8,339.9 1136.6,339.3 1133.5,339.7 1130.4,340.1 1127.3,340.6 1124.1,342.0 1121.0,341.9 1117.9,342.3 1114.8,342.3 1111.7,343.7 1108.5,342.8 1105.4,342.9 1102.3,343.5 1099.2,344.0 1096.1,344.9 1092.9,344.8 1089.8,345.9 1086.7,346.3 1083.6,346.4 1080.5,347.6 1077.3,347.4 1074.2,347.0 1071.1,347.2 1068.0,349.2 1064.8,349.6 1061.7,349.9 1058.6,348.7 1055.5,349.6 1052.4,350.2 1049.2,350.9 1046.1,350.7 1043.0,351.5" fill="#252525"/>
<polyline points="1043.0,285.8 1046.1,285.4 1049.2,284.7 1052.4,284.3 1055.5,283.6 1058.6,284.0 1061.7,283.2 1064.8,282.3 1068.0,281.7 1071.1,282.3 1074.2,281.2 1077.3,281.2 1080.5,280.5 1083.6,281.0 1086.7,280.7 1089.8,278.6 1092.9,278.6 1096.1,278.4 1099.2,279.1 1102.3,278.3 1105.4,277.1 1108.5,276.5 1111.7,276.9 1114.8,276.8 1117.9,276.5 1121.0,275.0 1124.1,275.6 1127.3,274.8 1130.4,274.0 1133.5,274.5 1136.6,272.8 1139.8,273.2 1142.9,271.6 1146.0,271.4 1149.1,272.3 1152.2,270.6 1155.4,271.2 1158.5,270.5 1161.6,270.5 1164.7,269.2 1167.8,268.8 1171.0,268.2 1174.1,268.9 1177.2,268.0 1180.3,268.2 1183.4,267.6 1186.6,265.9 1189.7,266.2 1192.8,265.0 1195.9,264.4 1199.1,264.1 1202.2,265.1 1205.3,264.5 1208.4,264.2 1211.5,262.9 1214.7,263.0 1217.8,262.8 1220.9,261.7 1224.0,261.6 1227.1,260.6 1230.3,259.9 1233.4,259.8 1236.5,260.5 1239.6,259.5 1242.7,259.8 1245.9,258.5 1249.0,257.7 1252.1,258.2 1255.2,257.9 1258.4,256.0 1261.5,256.8 1264.6,255.3 1267.7,254.9 1270.8,255.9 1274.0,254.0 1277.1,253.9 1280.2,254.8 1283.3,253.4 1286.4,252.4 1289.6,252.1 1292.7,251.8 1295.8,252.3 1298.9,250.7 1302.0,251.8 1305.2,250.4 1308.3,251.0 1311.4,250.5 1314.5,249.0 1317.7,248.5 1320.8,248.5 1323.9,247.4 1327.0,247.9 1330.1,246.4 1333.3,246.0 1336.4,247.3 1339.5,246.0" fill="none" stroke="#e3211d" stroke-width="1.7"/>
<polyline points="1043.0,351.5 1046.1,350.7 1049.2,350.9 1052.4,350.2 1055.5,349.6 1058.6,348.7 1061.7,349.9 1064.8,349.6 1068.0,349.2 1071.1,347.2 1074.2,347.0 1077.3,347.4 1080.5,347.6 1083.6,346.4 1086.7,346.3 1089.8,345.9 1092.9,344.8 1096.1,344.9 1099.2,344.0 1102.3,343.5 1105.4,342.9 1108.5,342.8 1111.7,343.7 1114.8,342.3 1117.9,342.3 1121.0,341.9 1124.1,342.0 1127.3,340.6 1130.4,340.1 1133.5,339.7 1136.6,339.3 1139.8,339.9 1142.9,339.6 1146.0,338.1 1149.1,337.8 1152.2,337.8 1155.4,337.4 1158.5,337.1 1161.6,336.0 1164.7,335.2 1167.8,335.2 1171.0,334.5 1174.1,335.0 1177.2,333.8 1180.3,333.4 1183.4,334.0 1186.6,333.0 1189.7,333.5 1192.8,332.5 1195.9,332.8 1199.1,331.1 1202.2,331.4 1205.3,331.5 1208.4,329.8 1211.5,331.0 1214.7,329.2 1217.8,329.9 1220.9,329.9 1224.0,329.2 1227.1,327.9 1230.3,327.1 1233.4,327.4 1236.5,327.8 1239.6,326.3 1242.7,326.9 1245.9,325.2 1249.0,326.2 1252.1,324.2 1255.2,324.3 1258.4,325.0 1261.5,324.4 1264.6,324.2 1267.7,323.7 1270.8,323.1 1274.0,322.6 1277.1,321.3 1280.2,321.4 1283.3,320.5 1286.4,321.1 1289.6,320.6 1292.7,319.5 1295.8,318.7 1298.9,320.0 1302.0,319.3 1305.2,318.4 1308.3,318.0 1311.4,318.2 1314.5,317.1 1317.7,316.6 1320.8,316.1 1323.9,315.5 1327.0,314.7 1330.1,315.4 1333.3,314.6 1336.4,314.5 1339.5,314.0" fill="none" stroke="#e3211d" stroke-width="1.7"/>
<line x1="1043.6" y1="285.8" x2="1043.6" y2="351.5" stroke="#e0231f" stroke-width="1.2" />
<line x1="1338.9" y1="246.0" x2="1338.9" y2="314.0" stroke="#e0231f" stroke-width="1.2" />
<text x="1321.5" y="389.5" font-family='"Liberation Sans", sans-serif' font-size="8.5" font-weight="normal" text-anchor="middle" fill="#fff" >200 µM</text>
<line x1="1311.5" y1="395.0" x2="1330.5" y2="395.0" stroke="#fff" stroke-width="1.6" />
</g>
<filter id="fw2" x="0" y="0" width="100%" height="100%" color-interpolation-filters="sRGB"><feTurbulence type="fractalNoise" baseFrequency="0.62" numOctaves="2" seed="15"/><feColorMatrix type="matrix" values="0.9 0 0 0 -0.207  0.9 0 0 0 -0.207  0.9 0 0 0 -0.207  0 0 0 0 1"/></filter>
<clipPath id="cw2"><rect x="1357" y="184" width="297.5" height="221.5"/></clipPath>
<g clip-path="url(#cw2)">
<rect x="1357.0" y="184.0" width="297.5" height="221.5" fill="#4a4a4a" stroke="none" stroke-width="0" filter="url(#fw2)"/>
<circle cx="1641.4" cy="393.9" r="0.8" fill="#cfcfcf" opacity="0.4"/><circle cx="1382.2" cy="369.1" r="1.3" fill="#cfcfcf" opacity="0.8"/><circle cx="1611.0" cy="239.7" r="0.8" fill="#cfcfcf" opacity="0.8"/><circle cx="1367.6" cy="334.9" r="1.0" fill="#cfcfcf" opacity="0.8"/><circle cx="1474.1" cy="344.1" r="1.3" fill="#cfcfcf" opacity="0.6"/><circle cx="1518.9" cy="282.5" r="1.0" fill="#cfcfcf" opacity="0.4"/><circle cx="1616.1" cy="264.6" r="1.0" fill="#cfcfcf" opacity="0.6"/><circle cx="1483.0" cy="379.8" r="0.8" fill="#cfcfcf" opacity="0.8"/><circle cx="1409.8" cy="235.1" r="0.8" fill="#cfcfcf" opacity="0.6"/><circle cx="1408.6" cy="297.0" r="1.0" fill="#cfcfcf" opacity="0.8"/><circle cx="1557.7" cy="224.3" r="1.0" fill="#cfcfcf" opacity="0.6"/><circle cx="1575.5" cy="384.8" r="1.0" fill="#cfcfcf" opacity="0.8"/><circle cx="1462.3" cy="401.3" r="1.0" fill="#cfcfcf" opacity="0.4"/><circle cx="1641.1" cy="272.6" r="1.3" fill="#cfcfcf" opacity="0.6"/><circle cx="1551.8" cy="239.4" r="1.0" fill="#cfcfcf" opacity="0.6"/><circle cx="1506.0" cy="368.2" r="1.0" fill="#cfcfcf" opacity="0.8"/><circle cx="1619.6" cy="383.3" r="1.0" fill="#cfcfcf" opacity="0.6"/><circle cx="1525.9" cy="387.9" r="1.3" fill="#cfcfcf" opacity="0.6"/><circle cx="1501.8" cy="233.1" r="1.0" fill="#cfcfcf" opacity="0.8"/><circle cx="1605.4" cy="378.2" r="1.3" fill="#cfcfcf" opacity="0.6"/><circle cx="1587.0" cy="290.3" r="1.0" fill="#cfcfcf" opacity="0.8"/><circle cx="1604.2" cy="308.5" r="1.3" fill="#cfcfcf" opacity="0.8"/><circle cx="1540.2" cy="274.1" r="1.3" fill="#cfcfcf" opacity="0.4"/><circle cx="1502.4" cy="265.2" r="1.3" fill="#cfcfcf" opacity="0.8"/><circle cx="1619.4" cy="357.7" r="1.0" fill="#cfcfcf" opacity="0.8"/><circle cx="1359.5" cy="364.5" r="1.3" fill="#cfcfcf" opacity="0.4"/><circle cx="1374.5" cy="328.6" r="1.0" fill="#cfcfcf" opacity="0.8"/><circle cx="1424.4" cy="377.9" r="0.8" fill="#cfcfcf" opacity="0.8"/><circle cx="1397.6" cy="242.9" r="0.8" fill="#cfcfcf" opacity="0.4"/><circle cx="1482.8" cy="342.8" r="0.8" fill="#cfcfcf" opacity="0.4"/><circle cx="1464.8" cy="222.1" r="1.3" fill="#cfcfcf" opacity="0.4"/><circle cx="1381.7" cy="395.4" r="0.8" fill="#cfcfcf" opacity="0.4"/><circle cx="1574.0" cy="188.7" r="1.0" fill="#cfcfcf" opacity="0.4"/><circle cx="1599.0" cy="218.8" r="0.8" fill="#cfcfcf" opacity="0.8"/><circle cx="1562.7" cy="269.4" r="0.8" fill="#cfcfcf" opacity="0.4"/><circle cx="1402.0" cy="192.0" r="1.0" fill="#cfcfcf" opacity="0.8"/><circle cx="1543.8" cy="349.6" r="1.0" fill="#cfcfcf" opacity="0.6"/><circle cx="1502.4" cy="252.3" r="1.3" fill="#cfcfcf" opacity="0.8"/><circle cx="1577.1" cy="383.8" r="1.0" fill="#cfcfcf" opacity="0.8"/><circle cx="1566.8" cy="288.7" r="0.8" fill="#cfcfcf" opacity="0.4"/><circle cx="1553.6" cy="254.1" r="0.8" fill="#cfcfcf" opacity="0.4"/><circle cx="1490.2" cy="377.8" r="0.8" fill="#cfcfcf" opacity="0.8"/><circle cx="1531.0" cy="271.0" r="1.3" fill="#cfcfcf" opacity="0.6"/><circle cx="1399.8" cy="396.6" r="1.0" fill="#cfcfcf" opacity="0.6"/><circle cx="1537.3" cy="277.0" r="0.8" fill="#cfcfcf" opacity="0.8"/><circle cx="1523.0" cy="215.1" r="0.8" fill="#cfcfcf" opacity="0.6"/><circle cx="1367.0" cy="219.7" r="0.8" fill="#cfcfcf" opacity="0.6"/><circle cx="1545.9" cy="296.6" r="1.3" fill="#cfcfcf" opacity="0.4"/><circle cx="1652.9" cy="235.5" r="1.0" fill="#cfcfcf" opacity="0.4"/><circle cx="1431.6" cy="315.0" r="1.3" fill="#cfcfcf" opacity="0.8"/><circle cx="1568.1" cy="240.8" r="1.0" fill="#cfcfcf" opacity="0.6"/><circle cx="1513.5" cy="185.1" r="0.8" fill="#cfcfcf" opacity="0.6"/><circle cx="1478.6" cy="208.6" r="1.3" fill="#cfcfcf" opacity="0.4"/><circle cx="1428.7" cy="206.1" r="0.8" fill="#cfcfcf" opacity="0.4"/>
<polygon points="1357.0,285.0 1360.1,286.6 1363.3,284.1 1366.4,283.4 1369.5,284.9 1372.7,284.8 1375.8,280.7 1378.9,284.5 1382.1,282.7 1385.2,282.7 1388.3,279.3 1391.4,279.5 1394.6,281.9 1397.7,279.7 1400.8,279.8 1404.0,278.5 1407.1,281.2 1410.2,277.1 1413.4,278.7 1416.5,275.3 1419.6,277.6 1422.8,275.9 1425.9,276.1 1429.0,276.7 1432.2,278.1 1435.3,274.7 1438.4,274.2 1441.6,276.6 1444.7,280.3 1447.8,276.5 1450.9,274.9 1454.1,274.3 1457.2,273.1 1460.3,273.7 1463.5,275.0 1466.6,274.8 1469.7,271.5 1472.9,271.3 1476.0,273.0 1479.1,272.2 1482.3,269.5 1485.4,273.5 1488.5,266.6 1491.7,272.4 1494.8,275.5 1497.9,269.3 1501.1,271.3 1504.2,267.5 1507.3,267.1 1510.4,270.7 1513.6,267.3 1516.7,267.8 1519.8,265.8 1523.0,265.8 1526.1,266.1 1529.2,267.5 1532.4,267.1 1535.5,265.2 1538.6,268.7 1541.8,264.6 1544.9,266.8 1548.0,264.3 1551.2,263.2 1554.3,264.5 1557.4,265.1 1560.6,263.6 1563.7,263.5 1566.8,266.8 1569.9,262.1 1573.1,261.5 1576.2,259.4 1579.3,259.6 1582.5,260.1 1585.6,262.6 1588.7,260.3 1591.9,258.6 1595.0,259.7 1598.1,263.4 1601.3,258.6 1604.4,256.7 1607.5,260.2 1610.7,256.9 1613.8,257.5 1616.9,254.9 1620.1,258.7 1623.2,256.1 1626.3,255.8 1629.4,256.1 1632.6,256.5 1635.7,257.3 1638.8,255.2 1642.0,259.1 1645.1,253.3 1648.2,256.4 1651.4,255.5 1654.5,252.9 1654.5,296.7 1651.4,296.8 1648.2,297.0 1645.1,298.6 1642.0,296.5 1638.8,300.8 1635.7,300.3 1632.6,301.4 1629.4,299.5 1626.3,298.4 1623.2,299.1 1620.1,299.6 1616.9,300.1 1613.8,303.1 1610.7,304.2 1607.5,299.5 1604.4,301.3 1601.3,301.9 1598.1,306.1 1595.0,306.4 1591.9,307.6 1588.7,303.4 1585.6,306.9 1582.5,307.5 1579.3,306.5 1576.2,307.4 1573.1,306.0 1569.9,308.0 1566.8,305.0 1563.7,308.9 1560.6,311.9 1557.4,310.2 1554.3,310.9 1551.2,310.0 1548.0,311.1 1544.9,314.1 1541.8,312.7 1538.6,311.8 1535.5,313.1 1532.4,314.7 1529.2,315.5 1526.1,312.2 1523.0,314.1 1519.8,315.7 1516.7,314.3 1513.6,311.5 1510.4,315.6 1507.3,319.1 1504.2,315.8 1501.1,319.6 1497.9,318.3 1494.8,320.1 1491.7,316.6 1488.5,321.6 1485.4,321.9 1482.3,318.8 1479.1,320.6 1476.0,323.3 1472.9,321.0 1469.7,326.5 1466.6,323.4 1463.5,323.5 1460.3,324.3 1457.2,322.8 1454.1,324.5 1450.9,325.6 1447.8,326.2 1444.7,324.8 1441.6,324.7 1438.4,324.5 1435.3,328.4 1432.2,327.0 1429.0,322.9 1425.9,328.6 1422.8,330.4 1419.6,327.8 1416.5,327.7 1413.4,327.7 1410.2,329.5 1407.1,332.1 1404.0,333.2 1400.8,330.1 1397.7,330.5 1394.6,332.9 1391.4,334.4 1388.3,332.6 1385.2,331.6 1382.1,333.5 1378.9,335.8 1375.8,333.9 1372.7,341.1 1369.5,335.6 1366.4,335.2 1363.3,336.3 1360.1,337.2 1357.0,337.4" fill="#262626"/>
<polyline points="1357.0,285.0 1360.1,286.6 1363.3,284.1 1366.4,283.4 1369.5,284.9 1372.7,284.8 1375.8,280.7 1378.9,284.5 1382.1,282.7 1385.2,282.7 1388.3,279.3 1391.4,279.5 1394.6,281.9 1397.7,279.7 1400.8,279.8 1404.0,278.5 1407.1,281.2 1410.2,277.1 1413.4,278.7 1416.5,275.3 1419.6,277.6 1422.8,275.9 1425.9,276.1 1429.0,276.7 1432.2,278.1 1435.3,274.7 1438.4,274.2 1441.6,276.6 1444.7,280.3 1447.8,276.5 1450.9,274.9 1454.1,274.3 1457.2,273.1 1460.3,273.7 1463.5,275.0 1466.6,274.8 1469.7,271.5 1472.9,271.3 1476.0,273.0 1479.1,272.2 1482.3,269.5 1485.4,273.5 1488.5,266.6 1491.7,272.4 1494.8,275.5 1497.9,269.3 1501.1,271.3 1504.2,267.5 1507.3,267.1 1510.4,270.7 1513.6,267.3 1516.7,267.8 1519.8,265.8 1523.0,265.8 1526.1,266.1 1529.2,267.5 1532.4,267.1 1535.5,265.2 1538.6,268.7 1541.8,264.6 1544.9,266.8 1548.0,264.3 1551.2,263.2 1554.3,264.5 1557.4,265.1 1560.6,263.6 1563.7,263.5 1566.8,266.8 1569.9,262.1 1573.1,261.5 1576.2,259.4 1579.3,259.6 1582.5,260.1 1585.6,262.6 1588.7,260.3 1591.9,258.6 1595.0,259.7 1598.1,263.4 1601.3,258.6 1604.4,256.7 1607.5,260.2 1610.7,256.9 1613.8,257.5 1616.9,254.9 1620.1,258.7 1623.2,256.1 1626.3,255.8 1629.4,256.1 1632.6,256.5 1635.7,257.3 1638.8,255.2 1642.0,259.1 1645.1,253.3 1648.2,256.4 1651.4,255.5 1654.5,252.9" fill="none" stroke="#e3211d" stroke-width="1.7"/>
<polyline points="1357.0,337.4 1360.1,337.2 1363.3,336.3 1366.4,335.2 1369.5,335.6 1372.7,341.1 1375.8,333.9 1378.9,335.8 1382.1,333.5 1385.2,331.6 1388.3,332.6 1391.4,334.4 1394.6,332.9 1397.7,330.5 1400.8,330.1 1404.0,333.2 1407.1,332.1 1410.2,329.5 1413.4,327.7 1416.5,327.7 1419.6,327.8 1422.8,330.4 1425.9,328.6 1429.0,322.9 1432.2,327.0 1435.3,328.4 1438.4,324.5 1441.6,324.7 1444.7,324.8 1447.8,326.2 1450.9,325.6 1454.1,324.5 1457.2,322.8 1460.3,324.3 1463.5,323.5 1466.6,323.4 1469.7,326.5 1472.9,321.0 1476.0,323.3 1479.1,320.6 1482.3,318.8 1485.4,321.9 1488.5,321.6 1491.7,316.6 1494.8,320.1 1497.9,318.3 1501.1,319.6 1504.2,315.8 1507.3,319.1 1510.4,315.6 1513.6,311.5 1516.7,314.3 1519.8,315.7 1523.0,314.1 1526.1,312.2 1529.2,315.5 1532.4,314.7 1535.5,313.1 1538.6,311.8 1541.8,312.7 1544.9,314.1 1548.0,311.1 1551.2,310.0 1554.3,310.9 1557.4,310.2 1560.6,311.9 1563.7,308.9 1566.8,305.0 1569.9,308.0 1573.1,306.0 1576.2,307.4 1579.3,306.5 1582.5,307.5 1585.6,306.9 1588.7,303.4 1591.9,307.6 1595.0,306.4 1598.1,306.1 1601.3,301.9 1604.4,301.3 1607.5,299.5 1610.7,304.2 1613.8,303.1 1616.9,300.1 1620.1,299.6 1623.2,299.1 1626.3,298.4 1629.4,299.5 1632.6,301.4 1635.7,300.3 1638.8,300.8 1642.0,296.5 1645.1,298.6 1648.2,297.0 1651.4,296.8 1654.5,296.7" fill="none" stroke="#e3211d" stroke-width="1.7"/>
<line x1="1357.6" y1="285.0" x2="1357.6" y2="337.4" stroke="#e0231f" stroke-width="1.2" />
<line x1="1653.9" y1="252.9" x2="1653.9" y2="296.7" stroke="#e0231f" stroke-width="1.2" />
<text x="1636.5" y="389.5" font-family='"Liberation Sans", sans-serif' font-size="8.5" font-weight="normal" text-anchor="middle" fill="#fff" >200 µM</text>
<line x1="1626.5" y1="395.0" x2="1645.5" y2="395.0" stroke="#fff" stroke-width="1.6" />
</g>
<filter id="fw3" x="0" y="0" width="100%" height="100%" color-interpolation-filters="sRGB"><feTurbulence type="fractalNoise" baseFrequency="0.62" numOctaves="2" seed="22"/><feColorMatrix type="matrix" values="0.9 0 0 0 -0.144  0.9 0 0 0 -0.144  0.9 0 0 0 -0.144  0 0 0 0 1"/></filter>
<clipPath id="cw3"><rect x="1671" y="185" width="295" height="220.5"/></clipPath>
<g clip-path="url(#cw3)">
<rect x="1671.0" y="185.0" width="295.0" height="220.5" fill="#4a4a4a" stroke="none" stroke-width="0" filter="url(#fw3)"/>
<circle cx="1741.2" cy="305.0" r="1.0" fill="#cfcfcf" opacity="0.8"/><circle cx="1810.8" cy="313.1" r="1.3" fill="#cfcfcf" opacity="0.4"/><circle cx="1939.1" cy="288.5" r="1.3" fill="#cfcfcf" opacity="0.4"/><circle cx="1727.6" cy="343.1" r="1.3" fill="#cfcfcf" opacity="0.8"/><circle cx="1811.5" cy="325.9" r="0.8" fill="#cfcfcf" opacity="0.4"/><circle cx="1858.3" cy="376.4" r="1.3" fill="#cfcfcf" opacity="0.6"/><circle cx="1889.7" cy="333.0" r="0.8" fill="#cfcfcf" opacity="0.4"/><circle cx="1894.7" cy="315.3" r="1.0" fill="#cfcfcf" opacity="0.4"/><circle cx="1914.0" cy="244.4" r="1.3" fill="#cfcfcf" opacity="0.8"/><circle cx="1942.4" cy="270.5" r="1.0" fill="#cfcfcf" opacity="0.6"/><circle cx="1885.8" cy="312.2" r="0.8" fill="#cfcfcf" opacity="0.6"/><circle cx="1699.7" cy="215.0" r="0.8" fill="#cfcfcf" opacity="0.6"/><circle cx="1955.8" cy="281.2" r="1.3" fill="#cfcfcf" opacity="0.6"/><circle cx="1795.2" cy="368.8" r="1.3" fill="#cfcfcf" opacity="0.6"/><circle cx="1828.6" cy="274.9" r="0.8" fill="#cfcfcf" opacity="0.6"/><circle cx="1872.2" cy="389.8" r="1.0" fill="#cfcfcf" opacity="0.8"/><circle cx="1869.0" cy="221.0" r="1.0" fill="#cfcfcf" opacity="0.8"/><circle cx="1937.9" cy="310.5" r="1.3" fill="#cfcfcf" opacity="0.8"/><circle cx="1733.3" cy="368.4" r="1.3" fill="#cfcfcf" opacity="0.6"/><circle cx="1755.1" cy="199.0" r="1.3" fill="#cfcfcf" opacity="0.6"/><circle cx="1697.1" cy="361.5" r="1.0" fill="#cfcfcf" opacity="0.4"/><circle cx="1676.9" cy="279.2" r="1.0" fill="#cfcfcf" opacity="0.4"/><circle cx="1684.0" cy="320.5" r="0.8" fill="#cfcfcf" opacity="0.6"/><circle cx="1882.9" cy="258.0" r="1.0" fill="#cfcfcf" opacity="0.8"/><circle cx="1740.6" cy="192.9" r="0.8" fill="#cfcfcf" opacity="0.4"/><circle cx="1702.9" cy="303.1" r="0.8" fill="#cfcfcf" opacity="0.6"/><circle cx="1757.0" cy="243.1" r="1.3" fill="#cfcfcf" opacity="0.4"/><circle cx="1960.1" cy="259.9" r="1.0" fill="#cfcfcf" opacity="0.4"/><circle cx="1935.5" cy="268.3" r="1.0" fill="#cfcfcf" opacity="0.8"/><circle cx="1784.9" cy="376.1" r="1.3" fill="#cfcfcf" opacity="0.8"/><circle cx="1701.3" cy="399.5" r="1.3" fill="#cfcfcf" opacity="0.6"/><circle cx="1798.2" cy="343.8" r="0.8" fill="#cfcfcf" opacity="0.6"/><circle cx="1800.0" cy="241.9" r="1.0" fill="#cfcfcf" opacity="0.8"/><circle cx="1771.0" cy="358.8" r="1.3" fill="#cfcfcf" opacity="0.6"/><circle cx="1676.9" cy="320.8" r="1.3" fill="#cfcfcf" opacity="0.4"/><circle cx="1688.7" cy="323.3" r="1.0" fill="#cfcfcf" opacity="0.6"/><circle cx="1871.4" cy="262.7" r="1.3" fill="#cfcfcf" opacity="0.6"/><circle cx="1888.7" cy="189.9" r="0.8" fill="#cfcfcf" opacity="0.8"/><circle cx="1677.3" cy="266.4" r="1.3" fill="#cfcfcf" opacity="0.6"/><circle cx="1759.1" cy="317.6" r="0.8" fill="#cfcfcf" opacity="0.6"/><circle cx="1725.6" cy="352.2" r="1.3" fill="#cfcfcf" opacity="0.6"/><circle cx="1759.6" cy="268.2" r="0.8" fill="#cfcfcf" opacity="0.8"/><circle cx="1872.7" cy="214.0" r="1.3" fill="#cfcfcf" opacity="0.4"/><circle cx="1863.8" cy="244.4" r="1.0" fill="#cfcfcf" opacity="0.4"/><circle cx="1871.0" cy="328.2" r="0.8" fill="#cfcfcf" opacity="0.4"/><circle cx="1848.2" cy="394.3" r="1.3" fill="#cfcfcf" opacity="0.4"/><circle cx="1800.3" cy="373.6" r="0.8" fill="#cfcfcf" opacity="0.4"/><circle cx="1770.3" cy="328.4" r="1.3" fill="#cfcfcf" opacity="0.6"/><circle cx="1750.8" cy="358.5" r="0.8" fill="#cfcfcf" opacity="0.8"/><circle cx="1953.5" cy="254.5" r="1.3" fill="#cfcfcf" opacity="0.4"/><circle cx="1925.8" cy="260.0" r="1.3" fill="#cfcfcf" opacity="0.4"/><circle cx="1908.8" cy="261.1" r="0.8" fill="#cfcfcf" opacity="0.6"/><circle cx="1757.1" cy="360.0" r="1.0" fill="#cfcfcf" opacity="0.6"/><circle cx="1773.2" cy="276.9" r="1.0" fill="#cfcfcf" opacity="0.8"/>
<polygon points="1671.0,295.0 1674.1,294.2 1677.2,296.3 1680.3,294.2 1683.4,298.0 1686.5,294.7 1689.6,292.9 1692.7,291.8 1695.8,290.2 1698.9,290.8 1702.1,289.4 1705.2,291.9 1708.3,292.4 1711.4,287.1 1714.5,288.5 1717.6,290.3 1720.7,288.9 1723.8,289.4 1726.9,287.4 1730.0,288.1 1733.1,287.1 1736.2,287.6 1739.3,285.6 1742.4,288.6 1745.5,291.3 1748.6,284.0 1751.7,284.6 1754.8,284.9 1757.9,282.6 1761.1,282.3 1764.2,282.3 1767.3,288.9 1770.4,282.7 1773.5,282.5 1776.6,283.1 1779.7,281.0 1782.8,280.4 1785.9,282.6 1789.0,279.5 1792.1,280.4 1795.2,281.8 1798.3,281.6 1801.4,279.6 1804.5,279.5 1807.6,278.8 1810.7,278.6 1813.8,278.6 1816.9,276.2 1820.1,277.4 1823.2,279.3 1826.3,278.8 1829.4,275.6 1832.5,274.6 1835.6,276.6 1838.7,276.8 1841.8,276.2 1844.9,273.1 1848.0,272.3 1851.1,271.8 1854.2,274.0 1857.3,272.9 1860.4,272.3 1863.5,270.6 1866.6,272.2 1869.7,271.0 1872.8,269.8 1875.9,271.5 1879.1,269.7 1882.2,268.8 1885.3,270.4 1888.4,264.9 1891.5,270.1 1894.6,270.0 1897.7,267.6 1900.8,270.3 1903.9,270.1 1907.0,266.5 1910.1,268.8 1913.2,266.5 1916.3,266.9 1919.4,267.0 1922.5,265.4 1925.6,264.0 1928.7,265.0 1931.8,266.7 1934.9,266.0 1938.1,265.1 1941.2,263.7 1944.3,264.9 1947.4,264.2 1950.5,264.2 1953.6,262.6 1956.7,263.6 1959.8,260.5 1962.9,259.8 1966.0,260.8 1966.0,298.3 1962.9,302.1 1959.8,300.0 1956.7,294.0 1953.6,299.9 1950.5,300.1 1947.4,302.7 1944.3,300.5 1941.2,302.6 1938.1,299.3 1934.9,301.7 1931.8,300.7 1928.7,303.3 1925.6,301.6 1922.5,300.4 1919.4,305.2 1916.3,303.2 1913.2,307.2 1910.1,304.5 1907.0,304.8 1903.9,305.1 1900.8,308.1 1897.7,308.0 1894.6,305.7 1891.5,309.9 1888.4,308.7 1885.3,308.2 1882.2,308.6 1879.1,309.4 1875.9,311.8 1872.8,310.1 1869.7,309.7 1866.6,311.7 1863.5,313.5 1860.4,310.7 1857.3,312.3 1854.2,313.4 1851.1,311.9 1848.0,314.3 1844.9,309.9 1841.8,316.3 1838.7,316.4 1835.6,315.2 1832.5,315.4 1829.4,315.3 1826.3,322.0 1823.2,316.3 1820.1,318.7 1816.9,319.2 1813.8,313.6 1810.7,318.7 1807.6,319.6 1804.5,320.7 1801.4,318.6 1798.3,318.9 1795.2,322.7 1792.1,322.0 1789.0,320.4 1785.9,323.0 1782.8,322.0 1779.7,321.4 1776.6,324.2 1773.5,325.0 1770.4,325.6 1767.3,325.5 1764.2,326.3 1761.1,325.0 1757.9,324.2 1754.8,328.1 1751.7,327.5 1748.6,325.5 1745.5,327.1 1742.4,331.0 1739.3,326.4 1736.2,329.9 1733.1,327.2 1730.0,328.6 1726.9,327.6 1723.8,329.7 1720.7,329.8 1717.6,332.9 1714.5,330.3 1711.4,330.8 1708.3,334.1 1705.2,330.7 1702.1,335.1 1698.9,331.8 1695.8,335.4 1692.7,332.7 1689.6,332.9 1686.5,337.2 1683.4,334.6 1680.3,337.1 1677.2,338.3 1674.1,335.9 1671.0,337.5" fill="#2f2f2f"/>
<polyline points="1671.0,295.0 1674.1,294.2 1677.2,296.3 1680.3,294.2 1683.4,298.0 1686.5,294.7 1689.6,292.9 1692.7,291.8 1695.8,290.2 1698.9,290.8 1702.1,289.4 1705.2,291.9 1708.3,292.4 1711.4,287.1 1714.5,288.5 1717.6,290.3 1720.7,288.9 1723.8,289.4 1726.9,287.4 1730.0,288.1 1733.1,287.1 1736.2,287.6 1739.3,285.6 1742.4,288.6 1745.5,291.3 1748.6,284.0 1751.7,284.6 1754.8,284.9 1757.9,282.6 1761.1,282.3 1764.2,282.3 1767.3,288.9 1770.4,282.7 1773.5,282.5 1776.6,283.1 1779.7,281.0 1782.8,280.4 1785.9,282.6 1789.0,279.5 1792.1,280.4 1795.2,281.8 1798.3,281.6 1801.4,279.6 1804.5,279.5 1807.6,278.8 1810.7,278.6 1813.8,278.6 1816.9,276.2 1820.1,277.4 1823.2,279.3 1826.3,278.8 1829.4,275.6 1832.5,274.6 1835.6,276.6 1838.7,276.8 1841.8,276.2 1844.9,273.1 1848.0,272.3 1851.1,271.8 1854.2,274.0 1857.3,272.9 1860.4,272.3 1863.5,270.6 1866.6,272.2 1869.7,271.0 1872.8,269.8 1875.9,271.5 1879.1,269.7 1882.2,268.8 1885.3,270.4 1888.4,264.9 1891.5,270.1 1894.6,270.0 1897.7,267.6 1900.8,270.3 1903.9,270.1 1907.0,266.5 1910.1,268.8 1913.2,266.5 1916.3,266.9 1919.4,267.0 1922.5,265.4 1925.6,264.0 1928.7,265.0 1931.8,266.7 1934.9,266.0 1938.1,265.1 1941.2,263.7 1944.3,264.9 1947.4,264.2 1950.5,264.2 1953.6,262.6 1956.7,263.6 1959.8,260.5 1962.9,259.8 1966.0,260.8" fill="none" stroke="#e3211d" stroke-width="1.7"/>
<polyline points="1671.0,337.5 1674.1,335.9 1677.2,338.3 1680.3,337.1 1683.4,334.6 1686.5,337.2 1689.6,332.9 1692.7,332.7 1695.8,335.4 1698.9,331.8 1702.1,335.1 1705.2,330.7 1708.3,334.1 1711.4,330.8 1714.5,330.3 1717.6,332.9 1720.7,329.8 1723.8,329.7 1726.9,327.6 1730.0,328.6 1733.1,327.2 1736.2,329.9 1739.3,326.4 1742.4,331.0 1745.5,327.1 1748.6,325.5 1751.7,327.5 1754.8,328.1 1757.9,324.2 1761.1,325.0 1764.2,326.3 1767.3,325.5 1770.4,325.6 1773.5,325.0 1776.6,324.2 1779.7,321.4 1782.8,322.0 1785.9,323.0 1789.0,320.4 1792.1,322.0 1795.2,322.7 1798.3,318.9 1801.4,318.6 1804.5,320.7 1807.6,319.6 1810.7,318.7 1813.8,313.6 1816.9,319.2 1820.1,318.7 1823.2,316.3 1826.3,322.0 1829.4,315.3 1832.5,315.4 1835.6,315.2 1838.7,316.4 1841.8,316.3 1844.9,309.9 1848.0,314.3 1851.1,311.9 1854.2,313.4 1857.3,312.3 1860.4,310.7 1863.5,313.5 1866.6,311.7 1869.7,309.7 1872.8,310.1 1875.9,311.8 1879.1,309.4 1882.2,308.6 1885.3,308.2 1888.4,308.7 1891.5,309.9 1894.6,305.7 1897.7,308.0 1900.8,308.1 1903.9,305.1 1907.0,304.8 1910.1,304.5 1913.2,307.2 1916.3,303.2 1919.4,305.2 1922.5,300.4 1925.6,301.6 1928.7,303.3 1931.8,300.7 1934.9,301.7 1938.1,299.3 1941.2,302.6 1944.3,300.5 1947.4,302.7 1950.5,300.1 1953.6,299.9 1956.7,294.0 1959.8,300.0 1962.9,302.1 1966.0,298.3" fill="none" stroke="#e3211d" stroke-width="1.7"/>
<line x1="1671.6" y1="295.0" x2="1671.6" y2="337.5" stroke="#e0231f" stroke-width="1.2" />
<line x1="1965.4" y1="260.8" x2="1965.4" y2="298.3" stroke="#e0231f" stroke-width="1.2" />
<text x="1948.0" y="389.5" font-family='"Liberation Sans", sans-serif' font-size="8.5" font-weight="normal" text-anchor="middle" fill="#fff" >200 µM</text>
<line x1="1938.0" y1="395.0" x2="1957.0" y2="395.0" stroke="#fff" stroke-width="1.6" />
</g>
<filter id="fw4" x="0" y="0" width="100%" height="100%" color-interpolation-filters="sRGB"><feTurbulence type="fractalNoise" baseFrequency="0.62" numOctaves="2" seed="29"/><feColorMatrix type="matrix" values="0.7 0 0 0 -0.162  0.7 0 0 0 -0.162  0.7 0 0 0 -0.162  0 0 0 0 1"/></filter>
<clipPath id="cw4"><rect x="1981" y="188" width="289.5" height="216"/></clipPath>
<g clip-path="url(#cw4)">
<rect x="1981.0" y="188.0" width="289.5" height="216.0" fill="#4a4a4a" stroke="none" stroke-width="0" filter="url(#fw4)"/>
<circle cx="2049.3" cy="210.3" r="1.0" fill="#cfcfcf" opacity="0.6"/><circle cx="2025.9" cy="202.4" r="1.0" fill="#cfcfcf" opacity="0.8"/><circle cx="2246.7" cy="360.9" r="0.8" fill="#cfcfcf" opacity="0.4"/><circle cx="2131.6" cy="265.8" r="0.8" fill="#cfcfcf" opacity="0.4"/><circle cx="2056.8" cy="391.7" r="0.8" fill="#cfcfcf" opacity="0.8"/><circle cx="2214.5" cy="360.9" r="0.8" fill="#cfcfcf" opacity="0.4"/><circle cx="2070.7" cy="323.4" r="1.3" fill="#cfcfcf" opacity="0.6"/><circle cx="2006.1" cy="318.9" r="1.3" fill="#cfcfcf" opacity="0.6"/><circle cx="2127.5" cy="226.4" r="1.0" fill="#cfcfcf" opacity="0.6"/><circle cx="2006.9" cy="389.9" r="1.3" fill="#cfcfcf" opacity="0.6"/><circle cx="1983.1" cy="251.1" r="1.3" fill="#cfcfcf" opacity="0.6"/><circle cx="2226.5" cy="297.8" r="1.0" fill="#cfcfcf" opacity="0.6"/><circle cx="2154.4" cy="281.1" r="0.8" fill="#cfcfcf" opacity="0.4"/><circle cx="2069.3" cy="363.5" r="0.8" fill="#cfcfcf" opacity="0.4"/><circle cx="1994.4" cy="323.3" r="1.0" fill="#cfcfcf" opacity="0.8"/><circle cx="2135.8" cy="289.8" r="1.0" fill="#cfcfcf" opacity="0.4"/><circle cx="2269.7" cy="230.2" r="1.0" fill="#cfcfcf" opacity="0.4"/><circle cx="2164.8" cy="283.3" r="0.8" fill="#cfcfcf" opacity="0.6"/><circle cx="2107.2" cy="315.2" r="1.3" fill="#cfcfcf" opacity="0.8"/><circle cx="2038.5" cy="257.9" r="0.8" fill="#cfcfcf" opacity="0.8"/><circle cx="2047.3" cy="353.3" r="1.3" fill="#cfcfcf" opacity="0.4"/><circle cx="2016.4" cy="389.9" r="1.0" fill="#cfcfcf" opacity="0.6"/><circle cx="1988.4" cy="265.1" r="0.8" fill="#cfcfcf" opacity="0.6"/><circle cx="2193.7" cy="395.3" r="0.8" fill="#cfcfcf" opacity="0.6"/><circle cx="2064.7" cy="396.7" r="1.3" fill="#cfcfcf" opacity="0.6"/><circle cx="2230.4" cy="375.8" r="1.3" fill="#cfcfcf" opacity="0.4"/><circle cx="2065.9" cy="229.3" r="1.0" fill="#cfcfcf" opacity="0.6"/><circle cx="2020.5" cy="270.4" r="0.8" fill="#cfcfcf" opacity="0.6"/><circle cx="2146.9" cy="266.5" r="1.0" fill="#cfcfcf" opacity="0.4"/><circle cx="2086.7" cy="361.7" r="1.0" fill="#cfcfcf" opacity="0.8"/><circle cx="2009.1" cy="400.1" r="1.0" fill="#cfcfcf" opacity="0.4"/><circle cx="2013.9" cy="201.4" r="1.3" fill="#cfcfcf" opacity="0.4"/><circle cx="2153.4" cy="397.7" r="1.3" fill="#cfcfcf" opacity="0.4"/><circle cx="2139.1" cy="313.9" r="1.0" fill="#cfcfcf" opacity="0.4"/><circle cx="2016.4" cy="302.3" r="1.0" fill="#cfcfcf" opacity="0.8"/><circle cx="2266.9" cy="291.2" r="0.8" fill="#cfcfcf" opacity="0.6"/><circle cx="2099.9" cy="196.0" r="1.0" fill="#cfcfcf" opacity="0.6"/><circle cx="2053.0" cy="380.1" r="0.8" fill="#cfcfcf" opacity="0.6"/><circle cx="2035.3" cy="196.0" r="1.0" fill="#cfcfcf" opacity="0.4"/><circle cx="2133.2" cy="354.8" r="1.0" fill="#cfcfcf" opacity="0.6"/><circle cx="2022.0" cy="199.1" r="1.0" fill="#cfcfcf" opacity="0.8"/><circle cx="2014.8" cy="311.1" r="1.3" fill="#cfcfcf" opacity="0.8"/>
<polygon points="1981.0,295.0 1984.0,296.3 1987.1,292.2 1990.1,293.6 1993.2,293.8 1996.2,291.6 1999.3,292.6 2002.3,291.5 2005.4,290.7 2008.4,292.9 2011.5,290.7 2014.5,292.4 2017.6,291.0 2020.6,289.6 2023.7,290.9 2026.7,290.9 2029.8,289.8 2032.8,288.4 2035.9,287.7 2038.9,286.5 2041.9,287.9 2045.0,286.6 2048.0,286.1 2051.1,284.3 2054.1,284.4 2057.2,286.9 2060.2,286.4 2063.3,281.0 2066.3,284.3 2069.4,284.5 2072.4,283.0 2075.5,286.9 2078.5,287.8 2081.6,282.0 2084.6,281.3 2087.7,281.7 2090.7,279.6 2093.8,281.5 2096.8,280.7 2099.8,281.8 2102.9,277.9 2105.9,278.1 2109.0,280.6 2112.0,280.0 2115.1,280.0 2118.1,276.4 2121.2,276.9 2124.2,279.0 2127.3,274.6 2130.3,276.6 2133.4,277.0 2136.4,273.8 2139.5,276.8 2142.5,276.1 2145.6,275.1 2148.6,274.6 2151.7,275.6 2154.7,275.2 2157.7,274.6 2160.8,273.1 2163.8,270.7 2166.9,271.3 2169.9,266.4 2173.0,271.9 2176.0,269.8 2179.1,269.0 2182.1,270.8 2185.2,267.7 2188.2,271.0 2191.3,268.3 2194.3,270.2 2197.4,268.2 2200.4,265.9 2203.5,265.2 2206.5,267.3 2209.6,266.9 2212.6,267.3 2215.6,264.1 2218.7,266.2 2221.7,265.6 2224.8,263.8 2227.8,263.9 2230.9,265.7 2233.9,262.7 2237.0,262.4 2240.0,265.0 2243.1,262.0 2246.1,263.4 2249.2,257.7 2252.2,263.0 2255.3,261.2 2258.3,260.1 2261.4,258.1 2264.4,259.6 2267.5,260.0 2270.5,259.0 2270.5,298.0 2267.5,300.6 2264.4,299.3 2261.4,298.4 2258.3,297.5 2255.3,298.6 2252.2,298.3 2249.2,299.4 2246.1,299.3 2243.1,302.3 2240.0,301.1 2237.0,300.7 2233.9,298.0 2230.9,301.0 2227.8,304.7 2224.8,302.7 2221.7,306.3 2218.7,299.8 2215.6,303.3 2212.6,303.9 2209.6,305.0 2206.5,304.3 2203.5,305.7 2200.4,306.4 2197.4,308.1 2194.3,309.1 2191.3,310.2 2188.2,310.8 2185.2,310.0 2182.1,310.4 2179.1,311.5 2176.0,312.4 2173.0,308.7 2169.9,310.6 2166.9,312.9 2163.8,313.6 2160.8,310.8 2157.7,310.7 2154.7,311.0 2151.7,314.1 2148.6,310.4 2145.6,316.4 2142.5,315.6 2139.5,310.3 2136.4,315.9 2133.4,315.9 2130.3,312.1 2127.3,316.8 2124.2,318.0 2121.2,319.2 2118.1,319.6 2115.1,317.6 2112.0,320.4 2109.0,319.8 2105.9,318.4 2102.9,316.8 2099.8,320.9 2096.8,322.5 2093.8,319.3 2090.7,322.9 2087.7,321.3 2084.6,324.1 2081.6,324.9 2078.5,321.7 2075.5,323.4 2072.4,322.7 2069.4,325.8 2066.3,323.1 2063.3,322.9 2060.2,323.4 2057.2,325.4 2054.1,327.8 2051.1,326.2 2048.0,328.7 2045.0,325.5 2041.9,329.4 2038.9,328.3 2035.9,329.6 2032.8,329.3 2029.8,331.1 2026.7,330.5 2023.7,331.1 2020.6,329.7 2017.6,329.1 2014.5,336.9 2011.5,332.9 2008.4,330.1 2005.4,333.6 2002.3,333.4 1999.3,331.4 1996.2,331.9 1993.2,331.1 1990.1,335.2 1987.1,336.1 1984.0,336.7 1981.0,335.8" fill="#232323"/>
<polyline points="1981.0,295.0 1984.0,296.3 1987.1,292.2 1990.1,293.6 1993.2,293.8 1996.2,291.6 1999.3,292.6 2002.3,291.5 2005.4,290.7 2008.4,292.9 2011.5,290.7 2014.5,292.4 2017.6,291.0 2020.6,289.6 2023.7,290.9 2026.7,290.9 2029.8,289.8 2032.8,288.4 2035.9,287.7 2038.9,286.5 2041.9,287.9 2045.0,286.6 2048.0,286.1 2051.1,284.3 2054.1,284.4 2057.2,286.9 2060.2,286.4 2063.3,281.0 2066.3,284.3 2069.4,284.5 2072.4,283.0 2075.5,286.9 2078.5,287.8 2081.6,282.0 2084.6,281.3 2087.7,281.7 2090.7,279.6 2093.8,281.5 2096.8,280.7 2099.8,281.8 2102.9,277.9 2105.9,278.1 2109.0,280.6 2112.0,280.0 2115.1,280.0 2118.1,276.4 2121.2,276.9 2124.2,279.0 2127.3,274.6 2130.3,276.6 2133.4,277.0 2136.4,273.8 2139.5,276.8 2142.5,276.1 2145.6,275.1 2148.6,274.6 2151.7,275.6 2154.7,275.2 2157.7,274.6 2160.8,273.1 2163.8,270.7 2166.9,271.3 2169.9,266.4 2173.0,271.9 2176.0,269.8 2179.1,269.0 2182.1,270.8 2185.2,267.7 2188.2,271.0 2191.3,268.3 2194.3,270.2 2197.4,268.2 2200.4,265.9 2203.5,265.2 2206.5,267.3 2209.6,266.9 2212.6,267.3 2215.6,264.1 2218.7,266.2 2221.7,265.6 2224.8,263.8 2227.8,263.9 2230.9,265.7 2233.9,262.7 2237.0,262.4 2240.0,265.0 2243.1,262.0 2246.1,263.4 2249.2,257.7 2252.2,263.0 2255.3,261.2 2258.3,260.1 2261.4,258.1 2264.4,259.6 2267.5,260.0 2270.5,259.0" fill="none" stroke="#e3211d" stroke-width="1.7"/>
<polyline points="1981.0,335.8 1984.0,336.7 1987.1,336.1 1990.1,335.2 1993.2,331.1 1996.2,331.9 1999.3,331.4 2002.3,333.4 2005.4,333.6 2008.4,330.1 2011.5,332.9 2014.5,336.9 2017.6,329.1 2020.6,329.7 2023.7,331.1 2026.7,330.5 2029.8,331.1 2032.8,329.3 2035.9,329.6 2038.9,328.3 2041.9,329.4 2045.0,325.5 2048.0,328.7 2051.1,326.2 2054.1,327.8 2057.2,325.4 2060.2,323.4 2063.3,322.9 2066.3,323.1 2069.4,325.8 2072.4,322.7 2075.5,323.4 2078.5,321.7 2081.6,324.9 2084.6,324.1 2087.7,321.3 2090.7,322.9 2093.8,319.3 2096.8,322.5 2099.8,320.9 2102.9,316.8 2105.9,318.4 2109.0,319.8 2112.0,320.4 2115.1,317.6 2118.1,319.6 2121.2,319.2 2124.2,318.0 2127.3,316.8 2130.3,312.1 2133.4,315.9 2136.4,315.9 2139.5,310.3 2142.5,315.6 2145.6,316.4 2148.6,310.4 2151.7,314.1 2154.7,311.0 2157.7,310.7 2160.8,310.8 2163.8,313.6 2166.9,312.9 2169.9,310.6 2173.0,308.7 2176.0,312.4 2179.1,311.5 2182.1,310.4 2185.2,310.0 2188.2,310.8 2191.3,310.2 2194.3,309.1 2197.4,308.1 2200.4,306.4 2203.5,305.7 2206.5,304.3 2209.6,305.0 2212.6,303.9 2215.6,303.3 2218.7,299.8 2221.7,306.3 2224.8,302.7 2227.8,304.7 2230.9,301.0 2233.9,298.0 2237.0,300.7 2240.0,301.1 2243.1,302.3 2246.1,299.3 2249.2,299.4 2252.2,298.3 2255.3,298.6 2258.3,297.5 2261.4,298.4 2264.4,299.3 2267.5,300.6 2270.5,298.0" fill="none" stroke="#e3211d" stroke-width="1.7"/>
<line x1="1981.6" y1="295.0" x2="1981.6" y2="335.8" stroke="#e0231f" stroke-width="1.2" />
<line x1="2269.9" y1="259.0" x2="2269.9" y2="298.0" stroke="#e0231f" stroke-width="1.2" />
<text x="2252.5" y="388.0" font-family='"Liberation Sans", sans-serif' font-size="8.5" font-weight="normal" text-anchor="middle" fill="#fff" >200 µM</text>
<line x1="2242.5" y1="393.5" x2="2261.5" y2="393.5" stroke="#fff" stroke-width="1.6" />
</g>
<filter id="fw5" x="0" y="0" width="100%" height="100%" color-interpolation-filters="sRGB"><feTurbulence type="fractalNoise" baseFrequency="0.62" numOctaves="2" seed="36"/><feColorMatrix type="matrix" values="0.95 0 0 0 -0.216  0.95 0 0 0 -0.216  0.95 0 0 0 -0.216  0 0 0 0 1"/></filter>
<clipPath id="cw5"><rect x="1043" y="426" width="295.5" height="222"/></clipPath>
<g clip-path="url(#cw5)">
<rect x="1043.0" y="426.0" width="295.5" height="222.0" fill="#4a4a4a" stroke="none" stroke-width="0" filter="url(#fw5)"/>
<circle cx="1227.1" cy="590.7" r="1.3" fill="#cfcfcf" opacity="0.8"/><circle cx="1235.7" cy="543.7" r="1.0" fill="#cfcfcf" opacity="0.4"/><circle cx="1234.8" cy="626.0" r="0.8" fill="#cfcfcf" opacity="0.6"/><circle cx="1181.6" cy="480.7" r="1.3" fill="#cfcfcf" opacity="0.4"/><circle cx="1212.6" cy="428.9" r="0.8" fill="#cfcfcf" opacity="0.6"/><circle cx="1125.6" cy="629.4" r="1.0" fill="#cfcfcf" opacity="0.4"/><circle cx="1268.1" cy="442.0" r="1.3" fill="#cfcfcf" opacity="0.8"/><circle cx="1174.4" cy="455.4" r="0.8" fill="#cfcfcf" opacity="0.4"/><circle cx="1271.6" cy="639.1" r="0.8" fill="#cfcfcf" opacity="0.4"/><circle cx="1128.5" cy="639.4" r="1.3" fill="#cfcfcf" opacity="0.8"/><circle cx="1227.9" cy="466.3" r="1.3" fill="#cfcfcf" opacity="0.4"/><circle cx="1328.6" cy="624.4" r="1.0" fill="#cfcfcf" opacity="0.4"/><circle cx="1149.7" cy="462.8" r="0.8" fill="#cfcfcf" opacity="0.6"/><circle cx="1062.2" cy="492.9" r="1.3" fill="#cfcfcf" opacity="0.8"/><circle cx="1044.0" cy="576.5" r="1.0" fill="#cfcfcf" opacity="0.4"/><circle cx="1134.6" cy="607.7" r="1.0" fill="#cfcfcf" opacity="0.8"/><circle cx="1136.3" cy="532.8" r="1.3" fill="#cfcfcf" opacity="0.4"/><circle cx="1059.8" cy="642.5" r="0.8" fill="#cfcfcf" opacity="0.8"/><circle cx="1148.7" cy="515.8" r="1.3" fill="#cfcfcf" opacity="0.6"/><circle cx="1151.2" cy="554.4" r="0.8" fill="#cfcfcf" opacity="0.6"/><circle cx="1056.8" cy="466.2" r="0.8" fill="#cfcfcf" opacity="0.4"/><circle cx="1266.3" cy="632.4" r="1.0" fill="#cfcfcf" opacity="0.6"/><circle cx="1194.4" cy="624.2" r="1.0" fill="#cfcfcf" opacity="0.6"/><circle cx="1074.9" cy="592.1" r="1.0" fill="#cfcfcf" opacity="0.6"/><circle cx="1053.8" cy="636.0" r="0.8" fill="#cfcfcf" opacity="0.4"/><circle cx="1143.7" cy="561.6" r="0.8" fill="#cfcfcf" opacity="0.6"/><circle cx="1124.5" cy="582.0" r="0.8" fill="#cfcfcf" opacity="0.6"/><circle cx="1245.7" cy="494.0" r="0.8" fill="#cfcfcf" opacity="0.8"/><circle cx="1087.0" cy="579.0" r="1.0" fill="#cfcfcf" opacity="0.4"/><circle cx="1255.8" cy="444.0" r="1.3" fill="#cfcfcf" opacity="0.8"/><circle cx="1315.9" cy="433.1" r="1.3" fill="#cfcfcf" opacity="0.8"/><circle cx="1144.6" cy="481.5" r="1.3" fill="#cfcfcf" opacity="0.6"/><circle cx="1086.0" cy="643.3" r="1.3" fill="#cfcfcf" opacity="0.4"/><circle cx="1279.9" cy="500.2" r="0.8" fill="#cfcfcf" opacity="0.4"/><circle cx="1333.0" cy="551.2" r="0.8" fill="#cfcfcf" opacity="0.8"/><circle cx="1307.9" cy="517.9" r="0.8" fill="#cfcfcf" opacity="0.6"/><circle cx="1153.2" cy="439.0" r="1.0" fill="#cfcfcf" opacity="0.6"/><circle cx="1084.7" cy="630.7" r="1.3" fill="#cfcfcf" opacity="0.4"/><circle cx="1331.4" cy="526.7" r="1.0" fill="#cfcfcf" opacity="0.8"/><circle cx="1258.6" cy="532.3" r="1.0" fill="#cfcfcf" opacity="0.6"/><circle cx="1162.3" cy="458.5" r="1.0" fill="#cfcfcf" opacity="0.8"/><circle cx="1326.6" cy="565.2" r="1.0" fill="#cfcfcf" opacity="0.6"/><circle cx="1096.2" cy="535.2" r="1.3" fill="#cfcfcf" opacity="0.8"/><circle cx="1299.3" cy="506.2" r="1.0" fill="#cfcfcf" opacity="0.8"/><circle cx="1216.6" cy="433.6" r="1.0" fill="#cfcfcf" opacity="0.6"/><circle cx="1208.3" cy="574.4" r="1.0" fill="#cfcfcf" opacity="0.6"/><circle cx="1270.5" cy="579.4" r="1.0" fill="#cfcfcf" opacity="0.6"/><circle cx="1235.0" cy="554.9" r="0.8" fill="#cfcfcf" opacity="0.6"/><circle cx="1204.6" cy="481.7" r="1.3" fill="#cfcfcf" opacity="0.6"/><circle cx="1179.8" cy="607.3" r="1.3" fill="#cfcfcf" opacity="0.8"/><circle cx="1278.7" cy="503.2" r="1.3" fill="#cfcfcf" opacity="0.6"/><circle cx="1261.0" cy="609.9" r="1.0" fill="#cfcfcf" opacity="0.4"/><circle cx="1300.1" cy="578.8" r="1.0" fill="#cfcfcf" opacity="0.6"/><circle cx="1196.1" cy="543.5" r="0.8" fill="#cfcfcf" opacity="0.4"/><circle cx="1290.2" cy="634.1" r="1.0" fill="#cfcfcf" opacity="0.6"/><circle cx="1247.3" cy="585.8" r="1.3" fill="#cfcfcf" opacity="0.6"/><circle cx="1093.8" cy="599.2" r="1.3" fill="#cfcfcf" opacity="0.8"/>
<polygon points="1043.0,515.5 1046.1,515.5 1049.2,514.8 1052.3,514.8 1055.4,514.8 1058.6,514.2 1061.7,514.1 1064.8,512.5 1067.9,512.5 1071.0,512.7 1074.1,512.8 1077.2,511.7 1080.3,512.2 1083.4,511.8 1086.5,510.5 1089.7,510.9 1092.8,510.2 1095.9,509.6 1099.0,509.4 1102.1,509.5 1105.2,508.9 1108.3,508.6 1111.4,508.1 1114.5,508.5 1117.7,508.1 1120.8,508.2 1123.9,507.9 1127.0,506.9 1130.1,507.8 1133.2,505.9 1136.3,506.3 1139.4,505.8 1142.5,505.7 1145.6,504.9 1148.8,505.9 1151.9,504.8 1155.0,503.9 1158.1,504.6 1161.2,503.4 1164.3,503.9 1167.4,503.2 1170.5,503.3 1173.6,503.7 1176.8,503.2 1179.9,502.2 1183.0,502.6 1186.1,502.0 1189.2,501.2 1192.3,500.5 1195.4,501.0 1198.5,500.6 1201.6,501.0 1204.7,500.7 1207.9,499.8 1211.0,499.0 1214.1,499.7 1217.2,497.8 1220.3,497.7 1223.4,498.2 1226.5,498.0 1229.6,496.9 1232.7,497.4 1235.9,497.6 1239.0,496.4 1242.1,496.2 1245.2,495.5 1248.3,495.3 1251.4,496.3 1254.5,494.9 1257.6,495.6 1260.7,495.2 1263.8,494.4 1267.0,493.5 1270.1,494.5 1273.2,493.3 1276.3,492.8 1279.4,492.4 1282.5,493.3 1285.6,492.1 1288.7,491.4 1291.8,491.5 1295.0,490.5 1298.1,491.1 1301.2,490.5 1304.3,489.9 1307.4,490.5 1310.5,490.3 1313.6,488.5 1316.7,489.2 1319.8,488.4 1322.9,489.3 1326.1,488.7 1329.2,487.4 1332.3,487.2 1335.4,486.7 1338.5,487.0 1338.5,567.8 1335.4,568.5 1332.3,567.6 1329.2,568.5 1326.1,569.8 1322.9,569.3 1319.8,569.8 1316.7,569.6 1313.6,570.1 1310.5,569.9 1307.4,571.6 1304.3,571.6 1301.2,571.6 1298.1,571.0 1295.0,571.3 1291.8,572.2 1288.7,572.0 1285.6,572.2 1282.5,573.6 1279.4,573.0 1276.3,573.8 1273.2,574.5 1270.1,573.9 1267.0,575.6 1263.8,574.8 1260.7,574.8 1257.6,576.2 1254.5,576.9 1251.4,576.7 1248.3,576.2 1245.2,577.6 1242.1,576.5 1239.0,578.0 1235.9,578.8 1232.7,579.1 1229.6,579.0 1226.5,578.0 1223.4,579.5 1220.3,580.0 1217.2,580.4 1214.1,579.6 1211.0,579.6 1207.9,581.3 1204.7,581.2 1201.6,580.7 1198.5,581.3 1195.4,581.9 1192.3,582.3 1189.2,582.5 1186.1,582.2 1183.0,583.9 1179.9,584.0 1176.8,583.4 1173.6,584.0 1170.5,584.7 1167.4,585.3 1164.3,584.2 1161.2,585.9 1158.1,585.3 1155.0,585.4 1151.9,586.9 1148.8,586.4 1145.6,586.7 1142.5,587.9 1139.4,587.4 1136.3,588.0 1133.2,588.5 1130.1,588.5 1127.0,588.6 1123.9,589.5 1120.8,588.4 1117.7,589.7 1114.5,590.6 1111.4,591.0 1108.3,590.5 1105.2,590.4 1102.1,590.3 1099.0,591.6 1095.9,592.2 1092.8,591.8 1089.7,592.3 1086.5,592.8 1083.4,592.6 1080.3,593.0 1077.2,593.7 1074.1,593.6 1071.0,594.7 1067.9,593.9 1064.8,595.3 1061.7,595.3 1058.6,595.7 1055.4,595.7 1052.3,596.3 1049.2,596.0 1046.1,597.6 1043.0,597.0" fill="#242424"/>
<polyline points="1043.0,515.5 1046.1,515.5 1049.2,514.8 1052.3,514.8 1055.4,514.8 1058.6,514.2 1061.7,514.1 1064.8,512.5 1067.9,512.5 1071.0,512.7 1074.1,512.8 1077.2,511.7 1080.3,512.2 1083.4,511.8 1086.5,510.5 1089.7,510.9 1092.8,510.2 1095.9,509.6 1099.0,509.4 1102.1,509.5 1105.2,508.9 1108.3,508.6 1111.4,508.1 1114.5,508.5 1117.7,508.1 1120.8,508.2 1123.9,507.9 1127.0,506.9 1130.1,507.8 1133.2,505.9 1136.3,506.3 1139.4,505.8 1142.5,505.7 1145.6,504.9 1148.8,505.9 1151.9,504.8 1155.0,503.9 1158.1,504.6 1161.2,503.4 1164.3,503.9 1167.4,503.2 1170.5,503.3 1173.6,503.7 1176.8,503.2 1179.9,502.2 1183.0,502.6 1186.1,502.0 1189.2,501.2 1192.3,500.5 1195.4,501.0 1198.5,500.6 1201.6,501.0 1204.7,500.7 1207.9,499.8 1211.0,499.0 1214.1,499.7 1217.2,497.8 1220.3,497.7 1223.4,498.2 1226.5,498.0 1229.6,496.9 1232.7,497.4 1235.9,497.6 1239.0,496.4 1242.1,496.2 1245.2,495.5 1248.3,495.3 1251.4,496.3 1254.5,494.9 1257.6,495.6 1260.7,495.2 1263.8,494.4 1267.0,493.5 1270.1,494.5 1273.2,493.3 1276.3,492.8 1279.4,492.4 1282.5,493.3 1285.6,492.1 1288.7,491.4 1291.8,491.5 1295.0,490.5 1298.1,491.1 1301.2,490.5 1304.3,489.9 1307.4,490.5 1310.5,490.3 1313.6,488.5 1316.7,489.2 1319.8,488.4 1322.9,489.3 1326.1,488.7 1329.2,487.4 1332.3,487.2 1335.4,486.7 1338.5,487.0" fill="none" stroke="#e3211d" stroke-width="1.7"/>
<polyline points="1043.0,597.0 1046.1,597.6 1049.2,596.0 1052.3,596.3 1055.4,595.7 1058.6,595.7 1061.7,595.3 1064.8,595.3 1067.9,593.9 1071.0,594.7 1074.1,593.6 1077.2,593.7 1080.3,593.0 1083.4,592.6 1086.5,592.8 1089.7,592.3 1092.8,591.8 1095.9,592.2 1099.0,591.6 1102.1,590.3 1105.2,590.4 1108.3,590.5 1111.4,591.0 1114.5,590.6 1117.7,589.7 1120.8,588.4 1123.9,589.5 1127.0,588.6 1130.1,588.5 1133.2,588.5 1136.3,588.0 1139.4,587.4 1142.5,587.9 1145.6,586.7 1148.8,586.4 1151.9,586.9 1155.0,585.4 1158.1,585.3 1161.2,585.9 1164.3,584.2 1167.4,585.3 1170.5,584.7 1173.6,584.0 1176.8,583.4 1179.9,584.0 1183.0,583.9 1186.1,582.2 1189.2,582.5 1192.3,582.3 1195.4,581.9 1198.5,581.3 1201.6,580.7 1204.7,581.2 1207.9,581.3 1211.0,579.6 1214.1,579.6 1217.2,580.4 1220.3,580.0 1223.4,579.5 1226.5,578.0 1229.6,579.0 1232.7,579.1 1235.9,578.8 1239.0,578.0 1242.1,576.5 1245.2,577.6 1248.3,576.2 1251.4,576.7 1254.5,576.9 1257.6,576.2 1260.7,574.8 1263.8,574.8 1267.0,575.6 1270.1,573.9 1273.2,574.5 1276.3,573.8 1279.4,573.0 1282.5,573.6 1285.6,572.2 1288.7,572.0 1291.8,572.2 1295.0,571.3 1298.1,571.0 1301.2,571.6 1304.3,571.6 1307.4,571.6 1310.5,569.9 1313.6,570.1 1316.7,569.6 1319.8,569.8 1322.9,569.3 1326.1,569.8 1329.2,568.5 1332.3,567.6 1335.4,568.5 1338.5,567.8" fill="none" stroke="#e3211d" stroke-width="1.7"/>
<line x1="1043.6" y1="515.5" x2="1043.6" y2="597.0" stroke="#e0231f" stroke-width="1.2" />
<line x1="1337.9" y1="487.0" x2="1337.9" y2="567.8" stroke="#e0231f" stroke-width="1.2" />
<text x="1320.5" y="632.0" font-family='"Liberation Sans", sans-serif' font-size="8.5" font-weight="normal" text-anchor="middle" fill="#fff" >200 µM</text>
<line x1="1310.5" y1="637.5" x2="1329.5" y2="637.5" stroke="#fff" stroke-width="1.6" />
</g>
<filter id="fw6" x="0" y="0" width="100%" height="100%" color-interpolation-filters="sRGB"><feTurbulence type="fractalNoise" baseFrequency="0.62" numOctaves="2" seed="43"/><feColorMatrix type="matrix" values="0.9 0 0 0 -0.207  0.9 0 0 0 -0.207  0.9 0 0 0 -0.207  0 0 0 0 1"/></filter>
<clipPath id="cw6"><rect x="1357" y="426" width="299" height="223.5"/></clipPath>
<g clip-path="url(#cw6)">
<rect x="1357.0" y="426.0" width="299.0" height="223.5" fill="#4a4a4a" stroke="none" stroke-width="0" filter="url(#fw6)"/>
<circle cx="1594.2" cy="609.7" r="1.0" fill="#cfcfcf" opacity="0.6"/><circle cx="1368.0" cy="458.5" r="1.3" fill="#cfcfcf" opacity="0.6"/><circle cx="1645.7" cy="590.2" r="1.0" fill="#cfcfcf" opacity="0.4"/><circle cx="1438.5" cy="605.2" r="1.3" fill="#cfcfcf" opacity="0.6"/><circle cx="1629.3" cy="546.5" r="0.8" fill="#cfcfcf" opacity="0.4"/><circle cx="1525.5" cy="582.3" r="1.3" fill="#cfcfcf" opacity="0.6"/><circle cx="1555.2" cy="562.3" r="0.8" fill="#cfcfcf" opacity="0.6"/><circle cx="1457.3" cy="446.8" r="1.0" fill="#cfcfcf" opacity="0.6"/><circle cx="1490.1" cy="447.0" r="0.8" fill="#cfcfcf" opacity="0.8"/><circle cx="1546.8" cy="491.1" r="0.8" fill="#cfcfcf" opacity="0.8"/><circle cx="1626.9" cy="611.0" r="1.0" fill="#cfcfcf" opacity="0.6"/><circle cx="1635.9" cy="629.3" r="1.3" fill="#cfcfcf" opacity="0.8"/><circle cx="1549.7" cy="582.0" r="1.3" fill="#cfcfcf" opacity="0.4"/><circle cx="1546.4" cy="480.7" r="1.0" fill="#cfcfcf" opacity="0.6"/><circle cx="1463.9" cy="452.7" r="1.3" fill="#cfcfcf" opacity="0.8"/><circle cx="1514.1" cy="452.1" r="1.3" fill="#cfcfcf" opacity="0.6"/><circle cx="1450.4" cy="469.9" r="1.0" fill="#cfcfcf" opacity="0.4"/><circle cx="1398.3" cy="472.9" r="1.3" fill="#cfcfcf" opacity="0.8"/><circle cx="1360.7" cy="599.9" r="0.8" fill="#cfcfcf" opacity="0.8"/><circle cx="1456.5" cy="628.1" r="1.3" fill="#cfcfcf" opacity="0.8"/><circle cx="1448.5" cy="510.3" r="1.0" fill="#cfcfcf" opacity="0.6"/><circle cx="1394.9" cy="649.5" r="0.8" fill="#cfcfcf" opacity="0.4"/><circle cx="1483.4" cy="592.8" r="1.0" fill="#cfcfcf" opacity="0.4"/><circle cx="1650.3" cy="480.8" r="0.8" fill="#cfcfcf" opacity="0.8"/><circle cx="1557.4" cy="624.8" r="1.0" fill="#cfcfcf" opacity="0.6"/><circle cx="1595.0" cy="541.5" r="1.0" fill="#cfcfcf" opacity="0.6"/><circle cx="1568.0" cy="517.4" r="0.8" fill="#cfcfcf" opacity="0.4"/><circle cx="1580.2" cy="485.4" r="1.0" fill="#cfcfcf" opacity="0.8"/><circle cx="1591.4" cy="464.5" r="0.8" fill="#cfcfcf" opacity="0.8"/><circle cx="1393.9" cy="557.7" r="1.0" fill="#cfcfcf" opacity="0.4"/><circle cx="1433.6" cy="526.9" r="1.3" fill="#cfcfcf" opacity="0.6"/><circle cx="1650.5" cy="633.2" r="1.0" fill="#cfcfcf" opacity="0.8"/><circle cx="1502.1" cy="560.7" r="1.3" fill="#cfcfcf" opacity="0.6"/><circle cx="1504.1" cy="587.2" r="1.0" fill="#cfcfcf" opacity="0.6"/><circle cx="1546.7" cy="530.4" r="1.0" fill="#cfcfcf" opacity="0.8"/><circle cx="1405.7" cy="630.1" r="1.3" fill="#cfcfcf" opacity="0.6"/><circle cx="1564.6" cy="485.4" r="1.3" fill="#cfcfcf" opacity="0.6"/><circle cx="1648.5" cy="589.0" r="0.8" fill="#cfcfcf" opacity="0.6"/><circle cx="1524.4" cy="565.4" r="0.8" fill="#cfcfcf" opacity="0.4"/><circle cx="1366.0" cy="598.9" r="0.8" fill="#cfcfcf" opacity="0.8"/><circle cx="1571.8" cy="506.9" r="1.0" fill="#cfcfcf" opacity="0.8"/><circle cx="1375.6" cy="469.1" r="1.0" fill="#cfcfcf" opacity="0.8"/><circle cx="1361.4" cy="606.2" r="1.3" fill="#cfcfcf" opacity="0.6"/><circle cx="1379.7" cy="477.9" r="1.0" fill="#cfcfcf" opacity="0.6"/><circle cx="1644.6" cy="578.2" r="0.8" fill="#cfcfcf" opacity="0.8"/><circle cx="1452.2" cy="434.4" r="1.3" fill="#cfcfcf" opacity="0.4"/><circle cx="1570.5" cy="436.1" r="1.0" fill="#cfcfcf" opacity="0.6"/><circle cx="1573.5" cy="441.4" r="0.8" fill="#cfcfcf" opacity="0.8"/><circle cx="1521.9" cy="563.8" r="0.8" fill="#cfcfcf" opacity="0.4"/><circle cx="1541.8" cy="629.7" r="1.3" fill="#cfcfcf" opacity="0.6"/><circle cx="1506.4" cy="430.5" r="1.3" fill="#cfcfcf" opacity="0.4"/><circle cx="1601.7" cy="468.2" r="1.0" fill="#cfcfcf" opacity="0.6"/><circle cx="1589.8" cy="525.9" r="1.0" fill="#cfcfcf" opacity="0.6"/><circle cx="1570.0" cy="440.2" r="1.0" fill="#cfcfcf" opacity="0.6"/>
<polygon points="1357.0,509.9 1360.1,508.6 1363.3,507.4 1366.4,508.1 1369.6,508.5 1372.7,502.5 1375.9,504.7 1379.0,503.4 1382.2,508.8 1385.3,505.5 1388.5,505.4 1391.6,506.8 1394.8,500.9 1397.9,505.0 1401.1,504.7 1404.2,506.0 1407.4,507.1 1410.5,506.4 1413.7,503.4 1416.8,506.1 1419.9,508.8 1423.1,502.9 1426.2,503.5 1429.4,503.4 1432.5,503.8 1435.7,504.4 1438.8,504.5 1442.0,503.6 1445.1,500.9 1448.3,497.9 1451.4,498.0 1454.6,502.6 1457.7,499.4 1460.9,500.8 1464.0,501.9 1467.2,494.9 1470.3,498.8 1473.5,498.3 1476.6,498.4 1479.7,500.8 1482.9,500.5 1486.0,498.1 1489.2,497.4 1492.3,499.9 1495.5,496.9 1498.6,496.9 1501.8,499.0 1504.9,498.5 1508.1,494.8 1511.2,496.3 1514.4,495.4 1517.5,495.8 1520.7,495.5 1523.8,498.2 1527.0,493.4 1530.1,495.4 1533.3,494.0 1536.4,495.5 1539.5,492.8 1542.7,493.1 1545.8,496.4 1549.0,493.9 1552.1,495.6 1555.3,496.2 1558.4,491.2 1561.6,490.9 1564.7,490.1 1567.9,490.6 1571.0,491.9 1574.2,493.0 1577.3,492.9 1580.5,491.9 1583.6,492.3 1586.8,496.5 1589.9,489.2 1593.1,489.5 1596.2,493.1 1599.3,488.1 1602.5,490.0 1605.6,489.8 1608.8,488.4 1611.9,490.6 1615.1,494.2 1618.2,490.1 1621.4,487.0 1624.5,487.0 1627.7,488.1 1630.8,482.0 1634.0,488.3 1637.1,487.8 1640.3,484.6 1643.4,484.6 1646.6,488.0 1649.7,484.2 1652.9,483.8 1656.0,484.9 1656.0,549.0 1652.9,547.4 1649.7,550.0 1646.6,550.3 1643.4,552.1 1640.3,551.5 1637.1,550.2 1634.0,549.9 1630.8,550.7 1627.7,557.5 1624.5,554.3 1621.4,550.0 1618.2,552.9 1615.1,554.5 1611.9,554.4 1608.8,553.8 1605.6,555.3 1602.5,554.2 1599.3,554.1 1596.2,554.4 1593.1,554.8 1589.9,557.1 1586.8,556.9 1583.6,554.1 1580.5,557.3 1577.3,560.2 1574.2,554.8 1571.0,558.4 1567.9,562.3 1564.7,556.6 1561.6,557.3 1558.4,559.5 1555.3,553.3 1552.1,559.8 1549.0,558.0 1545.8,560.4 1542.7,560.1 1539.5,559.0 1536.4,557.8 1533.3,558.9 1530.1,560.5 1527.0,559.1 1523.8,562.2 1520.7,562.4 1517.5,560.3 1514.4,562.5 1511.2,561.9 1508.1,561.9 1504.9,562.0 1501.8,565.1 1498.6,563.7 1495.5,564.7 1492.3,564.8 1489.2,563.0 1486.0,563.1 1482.9,567.1 1479.7,566.2 1476.6,565.1 1473.5,567.7 1470.3,564.0 1467.2,567.7 1464.0,569.3 1460.9,566.2 1457.7,566.1 1454.6,569.6 1451.4,562.7 1448.3,568.4 1445.1,566.4 1442.0,569.8 1438.8,566.5 1435.7,569.4 1432.5,570.1 1429.4,570.4 1426.2,570.2 1423.1,573.2 1419.9,572.1 1416.8,569.3 1413.7,572.6 1410.5,567.9 1407.4,573.9 1404.2,570.3 1401.1,572.7 1397.9,571.5 1394.8,572.9 1391.6,571.8 1388.5,573.5 1385.3,569.6 1382.2,574.5 1379.0,572.8 1375.9,570.3 1372.7,573.8 1369.6,574.4 1366.4,574.4 1363.3,577.0 1360.1,576.6 1357.0,577.0" fill="#262626"/>
<polyline points="1357.0,509.9 1360.1,508.6 1363.3,507.4 1366.4,508.1 1369.6,508.5 1372.7,502.5 1375.9,504.7 1379.0,503.4 1382.2,508.8 1385.3,505.5 1388.5,505.4 1391.6,506.8 1394.8,500.9 1397.9,505.0 1401.1,504.7 1404.2,506.0 1407.4,507.1 1410.5,506.4 1413.7,503.4 1416.8,506.1 1419.9,508.8 1423.1,502.9 1426.2,503.5 1429.4,503.4 1432.5,503.8 1435.7,504.4 1438.8,504.5 1442.0,503.6 1445.1,500.9 1448.3,497.9 1451.4,498.0 1454.6,502.6 1457.7,499.4 1460.9,500.8 1464.0,501.9 1467.2,494.9 1470.3,498.8 1473.5,498.3 1476.6,498.4 1479.7,500.8 1482.9,500.5 1486.0,498.1 1489.2,497.4 1492.3,499.9 1495.5,496.9 1498.6,496.9 1501.8,499.0 1504.9,498.5 1508.1,494.8 1511.2,496.3 1514.4,495.4 1517.5,495.8 1520.7,495.5 1523.8,498.2 1527.0,493.4 1530.1,495.4 1533.3,494.0 1536.4,495.5 1539.5,492.8 1542.7,493.1 1545.8,496.4 1549.0,493.9 1552.1,495.6 1555.3,496.2 1558.4,491.2 1561.6,490.9 1564.7,490.1 1567.9,490.6 1571.0,491.9 1574.2,493.0 1577.3,492.9 1580.5,491.9 1583.6,492.3 1586.8,496.5 1589.9,489.2 1593.1,489.5 1596.2,493.1 1599.3,488.1 1602.5,490.0 1605.6,489.8 1608.8,488.4 1611.9,490.6 1615.1,494.2 1618.2,490.1 1621.4,487.0 1624.5,487.0 1627.7,488.1 1630.8,482.0 1634.0,488.3 1637.1,487.8 1640.3,484.6 1643.4,484.6 1646.6,488.0 1649.7,484.2 1652.9,483.8 1656.0,484.9" fill="none" stroke="#e3211d" stroke-width="1.7"/>
<polyline points="1357.0,577.0 1360.1,576.6 1363.3,577.0 1366.4,574.4 1369.6,574.4 1372.7,573.8 1375.9,570.3 1379.0,572.8 1382.2,574.5 1385.3,569.6 1388.5,573.5 1391.6,571.8 1394.8,572.9 1397.9,571.5 1401.1,572.7 1404.2,570.3 1407.4,573.9 1410.5,567.9 1413.7,572.6 1416.8,569.3 1419.9,572.1 1423.1,573.2 1426.2,570.2 1429.4,570.4 1432.5,570.1 1435.7,569.4 1438.8,566.5 1442.0,569.8 1445.1,566.4 1448.3,568.4 1451.4,562.7 1454.6,569.6 1457.7,566.1 1460.9,566.2 1464.0,569.3 1467.2,567.7 1470.3,564.0 1473.5,567.7 1476.6,565.1 1479.7,566.2 1482.9,567.1 1486.0,563.1 1489.2,563.0 1492.3,564.8 1495.5,564.7 1498.6,563.7 1501.8,565.1 1504.9,562.0 1508.1,561.9 1511.2,561.9 1514.4,562.5 1517.5,560.3 1520.7,562.4 1523.8,562.2 1527.0,559.1 1530.1,560.5 1533.3,558.9 1536.4,557.8 1539.5,559.0 1542.7,560.1 1545.8,560.4 1549.0,558.0 1552.1,559.8 1555.3,553.3 1558.4,559.5 1561.6,557.3 1564.7,556.6 1567.9,562.3 1571.0,558.4 1574.2,554.8 1577.3,560.2 1580.5,557.3 1583.6,554.1 1586.8,556.9 1589.9,557.1 1593.1,554.8 1596.2,554.4 1599.3,554.1 1602.5,554.2 1605.6,555.3 1608.8,553.8 1611.9,554.4 1615.1,554.5 1618.2,552.9 1621.4,550.0 1624.5,554.3 1627.7,557.5 1630.8,550.7 1634.0,549.9 1637.1,550.2 1640.3,551.5 1643.4,552.1 1646.6,550.3 1649.7,550.0 1652.9,547.4 1656.0,549.0" fill="none" stroke="#e3211d" stroke-width="1.7"/>
<line x1="1357.6" y1="509.9" x2="1357.6" y2="577.0" stroke="#e0231f" stroke-width="1.2" />
<line x1="1655.4" y1="484.9" x2="1655.4" y2="549.0" stroke="#e0231f" stroke-width="1.2" />
<text x="1638.0" y="633.5" font-family='"Liberation Sans", sans-serif' font-size="8.5" font-weight="normal" text-anchor="middle" fill="#fff" >200 µM</text>
<line x1="1628.0" y1="639.0" x2="1647.0" y2="639.0" stroke="#fff" stroke-width="1.6" />
</g>
<filter id="fw7" x="0" y="0" width="100%" height="100%" color-interpolation-filters="sRGB"><feTurbulence type="fractalNoise" baseFrequency="0.62" numOctaves="2" seed="50"/><feColorMatrix type="matrix" values="0.9 0 0 0 -0.152  0.9 0 0 0 -0.152  0.9 0 0 0 -0.152  0 0 0 0 1"/></filter>
<clipPath id="cw7"><rect x="1671" y="426" width="295" height="220"/></clipPath>
<g clip-path="url(#cw7)">
<rect x="1671.0" y="426.0" width="295.0" height="220.0" fill="#4a4a4a" stroke="none" stroke-width="0" filter="url(#fw7)"/>
<circle cx="1766.5" cy="459.2" r="1.3" fill="#cfcfcf" opacity="0.4"/><circle cx="1692.4" cy="543.9" r="1.0" fill="#cfcfcf" opacity="0.8"/><circle cx="1688.1" cy="537.6" r="0.8" fill="#cfcfcf" opacity="0.4"/><circle cx="1798.9" cy="441.4" r="0.8" fill="#cfcfcf" opacity="0.8"/><circle cx="1796.2" cy="607.9" r="0.8" fill="#cfcfcf" opacity="0.4"/><circle cx="1857.0" cy="554.3" r="0.8" fill="#cfcfcf" opacity="0.8"/><circle cx="1843.7" cy="436.9" r="0.8" fill="#cfcfcf" opacity="0.4"/><circle cx="1835.2" cy="455.3" r="1.0" fill="#cfcfcf" opacity="0.4"/><circle cx="1830.5" cy="551.6" r="1.3" fill="#cfcfcf" opacity="0.8"/><circle cx="1724.3" cy="554.0" r="1.3" fill="#cfcfcf" opacity="0.4"/><circle cx="1780.9" cy="546.5" r="0.8" fill="#cfcfcf" opacity="0.8"/><circle cx="1688.6" cy="471.3" r="1.3" fill="#cfcfcf" opacity="0.8"/><circle cx="1797.1" cy="495.1" r="1.3" fill="#cfcfcf" opacity="0.6"/><circle cx="1777.7" cy="480.7" r="0.8" fill="#cfcfcf" opacity="0.8"/><circle cx="1901.0" cy="444.0" r="1.0" fill="#cfcfcf" opacity="0.8"/><circle cx="1817.1" cy="501.6" r="1.0" fill="#cfcfcf" opacity="0.6"/><circle cx="1850.6" cy="442.1" r="1.3" fill="#cfcfcf" opacity="0.6"/><circle cx="1719.7" cy="501.3" r="1.0" fill="#cfcfcf" opacity="0.6"/><circle cx="1682.6" cy="573.0" r="1.3" fill="#cfcfcf" opacity="0.8"/><circle cx="1903.8" cy="606.0" r="1.0" fill="#cfcfcf" opacity="0.8"/><circle cx="1774.3" cy="535.3" r="1.0" fill="#cfcfcf" opacity="0.4"/><circle cx="1918.8" cy="633.8" r="1.0" fill="#cfcfcf" opacity="0.8"/><circle cx="1866.9" cy="439.3" r="1.3" fill="#cfcfcf" opacity="0.6"/><circle cx="1861.9" cy="644.5" r="1.0" fill="#cfcfcf" opacity="0.6"/><circle cx="1882.4" cy="621.1" r="1.0" fill="#cfcfcf" opacity="0.4"/><circle cx="1948.5" cy="504.2" r="1.3" fill="#cfcfcf" opacity="0.4"/><circle cx="1816.6" cy="474.0" r="1.0" fill="#cfcfcf" opacity="0.4"/><circle cx="1888.8" cy="513.5" r="1.0" fill="#cfcfcf" opacity="0.4"/><circle cx="1720.1" cy="514.4" r="1.0" fill="#cfcfcf" opacity="0.4"/><circle cx="1912.7" cy="616.1" r="1.0" fill="#cfcfcf" opacity="0.8"/><circle cx="1793.5" cy="504.9" r="1.0" fill="#cfcfcf" opacity="0.4"/><circle cx="1715.5" cy="464.8" r="0.8" fill="#cfcfcf" opacity="0.8"/><circle cx="1739.8" cy="532.7" r="1.3" fill="#cfcfcf" opacity="0.4"/><circle cx="1748.5" cy="426.9" r="1.0" fill="#cfcfcf" opacity="0.8"/><circle cx="1779.9" cy="550.6" r="0.8" fill="#cfcfcf" opacity="0.8"/><circle cx="1924.5" cy="635.0" r="1.3" fill="#cfcfcf" opacity="0.8"/><circle cx="1889.2" cy="526.5" r="1.3" fill="#cfcfcf" opacity="0.8"/><circle cx="1786.8" cy="513.8" r="0.8" fill="#cfcfcf" opacity="0.6"/><circle cx="1858.1" cy="439.7" r="0.8" fill="#cfcfcf" opacity="0.4"/><circle cx="1801.0" cy="450.2" r="1.3" fill="#cfcfcf" opacity="0.4"/><circle cx="1701.2" cy="550.7" r="1.3" fill="#cfcfcf" opacity="0.4"/><circle cx="1950.9" cy="561.0" r="0.8" fill="#cfcfcf" opacity="0.4"/><circle cx="1852.2" cy="458.7" r="1.0" fill="#cfcfcf" opacity="0.6"/><circle cx="1848.7" cy="530.3" r="0.8" fill="#cfcfcf" opacity="0.6"/><circle cx="1964.0" cy="528.5" r="1.0" fill="#cfcfcf" opacity="0.6"/><circle cx="1696.3" cy="448.5" r="1.0" fill="#cfcfcf" opacity="0.8"/><circle cx="1749.1" cy="608.3" r="0.8" fill="#cfcfcf" opacity="0.8"/><circle cx="1677.8" cy="635.2" r="1.3" fill="#cfcfcf" opacity="0.6"/><circle cx="1714.2" cy="545.5" r="0.8" fill="#cfcfcf" opacity="0.8"/><circle cx="1758.9" cy="567.4" r="0.8" fill="#cfcfcf" opacity="0.8"/><circle cx="1920.4" cy="540.0" r="0.8" fill="#cfcfcf" opacity="0.6"/><circle cx="1898.7" cy="543.2" r="1.3" fill="#cfcfcf" opacity="0.6"/><circle cx="1858.8" cy="560.9" r="0.8" fill="#cfcfcf" opacity="0.4"/><circle cx="1912.4" cy="588.8" r="0.8" fill="#cfcfcf" opacity="0.4"/>
<polygon points="1671.0,514.6 1674.1,514.4 1677.2,515.6 1680.3,513.6 1683.4,513.9 1686.5,514.6 1689.6,512.1 1692.7,510.5 1695.8,512.1 1698.9,511.8 1702.1,516.0 1705.2,508.9 1708.3,513.0 1711.4,511.9 1714.5,508.9 1717.6,509.3 1720.7,512.1 1723.8,509.1 1726.9,510.3 1730.0,507.2 1733.1,510.6 1736.2,506.7 1739.3,510.4 1742.4,507.1 1745.5,501.9 1748.6,507.3 1751.7,506.6 1754.8,508.2 1757.9,505.1 1761.1,504.7 1764.2,504.5 1767.3,503.6 1770.4,504.4 1773.5,505.2 1776.6,504.1 1779.7,504.2 1782.8,507.9 1785.9,504.9 1789.0,504.6 1792.1,501.3 1795.2,504.7 1798.3,503.8 1801.4,502.4 1804.5,500.8 1807.6,501.6 1810.7,502.5 1813.8,500.7 1816.9,500.7 1820.1,501.3 1823.2,500.2 1826.3,501.9 1829.4,501.3 1832.5,498.0 1835.6,501.0 1838.7,496.8 1841.8,494.2 1844.9,497.6 1848.0,496.7 1851.1,498.7 1854.2,497.8 1857.3,495.6 1860.4,496.3 1863.5,494.2 1866.6,494.3 1869.7,494.3 1872.8,497.7 1875.9,494.6 1879.1,492.8 1882.2,493.6 1885.3,495.1 1888.4,493.9 1891.5,495.7 1894.6,495.2 1897.7,498.6 1900.8,490.4 1903.9,491.2 1907.0,491.7 1910.1,493.3 1913.2,489.8 1916.3,491.5 1919.4,485.0 1922.5,486.4 1925.6,490.9 1928.7,488.0 1931.8,487.6 1934.9,489.1 1938.1,489.3 1941.2,487.7 1944.3,488.6 1947.4,486.3 1950.5,485.7 1953.6,486.7 1956.7,488.5 1959.8,487.0 1962.9,489.8 1966.0,486.4 1966.0,546.0 1962.9,545.9 1959.8,544.5 1956.7,547.1 1953.6,546.6 1950.5,545.1 1947.4,549.0 1944.3,547.1 1941.2,550.5 1938.1,549.2 1934.9,546.6 1931.8,544.1 1928.7,548.7 1925.6,552.0 1922.5,552.6 1919.4,552.6 1916.3,550.0 1913.2,549.9 1910.1,549.2 1907.0,550.9 1903.9,551.1 1900.8,554.0 1897.7,548.2 1894.6,551.1 1891.5,554.6 1888.4,554.5 1885.3,555.4 1882.2,551.8 1879.1,552.4 1875.9,552.7 1872.8,554.1 1869.7,556.2 1866.6,552.6 1863.5,557.5 1860.4,557.4 1857.3,555.6 1854.2,556.1 1851.1,557.2 1848.0,555.0 1844.9,558.4 1841.8,556.2 1838.7,556.3 1835.6,555.7 1832.5,553.1 1829.4,556.2 1826.3,558.4 1823.2,557.5 1820.1,557.8 1816.9,562.0 1813.8,557.6 1810.7,560.1 1807.6,561.4 1804.5,556.6 1801.4,554.8 1798.3,560.5 1795.2,562.0 1792.1,556.5 1789.0,562.8 1785.9,562.6 1782.8,563.9 1779.7,562.8 1776.6,561.3 1773.5,564.4 1770.4,568.1 1767.3,562.2 1764.2,563.3 1761.1,566.2 1757.9,565.4 1754.8,561.8 1751.7,566.9 1748.6,563.6 1745.5,563.4 1742.4,564.6 1739.3,566.2 1736.2,564.2 1733.1,566.0 1730.0,566.0 1726.9,569.7 1723.8,566.6 1720.7,566.4 1717.6,567.3 1714.5,567.5 1711.4,570.7 1708.3,572.7 1705.2,574.9 1702.1,572.1 1698.9,571.1 1695.8,568.8 1692.7,569.2 1689.6,573.1 1686.5,571.3 1683.4,572.1 1680.3,571.4 1677.2,572.0 1674.1,566.2 1671.0,572.5" fill="#2c2c2c"/>
<polyline points="1671.0,514.6 1674.1,514.4 1677.2,515.6 1680.3,513.6 1683.4,513.9 1686.5,514.6 1689.6,512.1 1692.7,510.5 1695.8,512.1 1698.9,511.8 1702.1,516.0 1705.2,508.9 1708.3,513.0 1711.4,511.9 1714.5,508.9 1717.6,509.3 1720.7,512.1 1723.8,509.1 1726.9,510.3 1730.0,507.2 1733.1,510.6 1736.2,506.7 1739.3,510.4 1742.4,507.1 1745.5,501.9 1748.6,507.3 1751.7,506.6 1754.8,508.2 1757.9,505.1 1761.1,504.7 1764.2,504.5 1767.3,503.6 1770.4,504.4 1773.5,505.2 1776.6,504.1 1779.7,504.2 1782.8,507.9 1785.9,504.9 1789.0,504.6 1792.1,501.3 1795.2,504.7 1798.3,503.8 1801.4,502.4 1804.5,500.8 1807.6,501.6 1810.7,502.5 1813.8,500.7 1816.9,500.7 1820.1,501.3 1823.2,500.2 1826.3,501.9 1829.4,501.3 1832.5,498.0 1835.6,501.0 1838.7,496.8 1841.8,494.2 1844.9,497.6 1848.0,496.7 1851.1,498.7 1854.2,497.8 1857.3,495.6 1860.4,496.3 1863.5,494.2 1866.6,494.3 1869.7,494.3 1872.8,497.7 1875.9,494.6 1879.1,492.8 1882.2,493.6 1885.3,495.1 1888.4,493.9 1891.5,495.7 1894.6,495.2 1897.7,498.6 1900.8,490.4 1903.9,491.2 1907.0,491.7 1910.1,493.3 1913.2,489.8 1916.3,491.5 1919.4,485.0 1922.5,486.4 1925.6,490.9 1928.7,488.0 1931.8,487.6 1934.9,489.1 1938.1,489.3 1941.2,487.7 1944.3,488.6 1947.4,486.3 1950.5,485.7 1953.6,486.7 1956.7,488.5 1959.8,487.0 1962.9,489.8 1966.0,486.4" fill="none" stroke="#e3211d" stroke-width="1.7"/>
<polyline points="1671.0,572.5 1674.1,566.2 1677.2,572.0 1680.3,571.4 1683.4,572.1 1686.5,571.3 1689.6,573.1 1692.7,569.2 1695.8,568.8 1698.9,571.1 1702.1,572.1 1705.2,574.9 1708.3,572.7 1711.4,570.7 1714.5,567.5 1717.6,567.3 1720.7,566.4 1723.8,566.6 1726.9,569.7 1730.0,566.0 1733.1,566.0 1736.2,564.2 1739.3,566.2 1742.4,564.6 1745.5,563.4 1748.6,563.6 1751.7,566.9 1754.8,561.8 1757.9,565.4 1761.1,566.2 1764.2,563.3 1767.3,562.2 1770.4,568.1 1773.5,564.4 1776.6,561.3 1779.7,562.8 1782.8,563.9 1785.9,562.6 1789.0,562.8 1792.1,556.5 1795.2,562.0 1798.3,560.5 1801.4,554.8 1804.5,556.6 1807.6,561.4 1810.7,560.1 1813.8,557.6 1816.9,562.0 1820.1,557.8 1823.2,557.5 1826.3,558.4 1829.4,556.2 1832.5,553.1 1835.6,555.7 1838.7,556.3 1841.8,556.2 1844.9,558.4 1848.0,555.0 1851.1,557.2 1854.2,556.1 1857.3,555.6 1860.4,557.4 1863.5,557.5 1866.6,552.6 1869.7,556.2 1872.8,554.1 1875.9,552.7 1879.1,552.4 1882.2,551.8 1885.3,555.4 1888.4,554.5 1891.5,554.6 1894.6,551.1 1897.7,548.2 1900.8,554.0 1903.9,551.1 1907.0,550.9 1910.1,549.2 1913.2,549.9 1916.3,550.0 1919.4,552.6 1922.5,552.6 1925.6,552.0 1928.7,548.7 1931.8,544.1 1934.9,546.6 1938.1,549.2 1941.2,550.5 1944.3,547.1 1947.4,549.0 1950.5,545.1 1953.6,546.6 1956.7,547.1 1959.8,544.5 1962.9,545.9 1966.0,546.0" fill="none" stroke="#e3211d" stroke-width="1.7"/>
<line x1="1671.6" y1="514.6" x2="1671.6" y2="572.5" stroke="#e0231f" stroke-width="1.2" />
<line x1="1965.4" y1="486.4" x2="1965.4" y2="546.0" stroke="#e0231f" stroke-width="1.2" />
<text x="1948.0" y="630.0" font-family='"Liberation Sans", sans-serif' font-size="8.5" font-weight="normal" text-anchor="middle" fill="#fff" >200 µM</text>
<line x1="1938.0" y1="635.5" x2="1957.0" y2="635.5" stroke="#fff" stroke-width="1.6" />
</g>
<filter id="fw8" x="0" y="0" width="100%" height="100%" color-interpolation-filters="sRGB"><feTurbulence type="fractalNoise" baseFrequency="0.62" numOctaves="2" seed="57"/><feColorMatrix type="matrix" values="0.7 0 0 0 -0.170  0.7 0 0 0 -0.170  0.7 0 0 0 -0.170  0 0 0 0 1"/></filter>
<clipPath id="cw8"><rect x="1981" y="426" width="291" height="217"/></clipPath>
<g clip-path="url(#cw8)">
<rect x="1981.0" y="426.0" width="291.0" height="217.0" fill="#4a4a4a" stroke="none" stroke-width="0" filter="url(#fw8)"/>
<circle cx="2047.0" cy="634.8" r="0.8" fill="#cfcfcf" opacity="0.4"/><circle cx="2186.1" cy="444.5" r="0.8" fill="#cfcfcf" opacity="0.8"/><circle cx="2041.9" cy="565.3" r="1.0" fill="#cfcfcf" opacity="0.6"/><circle cx="2112.9" cy="533.4" r="0.8" fill="#cfcfcf" opacity="0.6"/><circle cx="2007.1" cy="476.8" r="0.8" fill="#cfcfcf" opacity="0.8"/><circle cx="2058.6" cy="514.5" r="1.0" fill="#cfcfcf" opacity="0.8"/><circle cx="2014.1" cy="482.1" r="0.8" fill="#cfcfcf" opacity="0.6"/><circle cx="2161.5" cy="507.9" r="1.3" fill="#cfcfcf" opacity="0.4"/><circle cx="2079.5" cy="576.0" r="1.0" fill="#cfcfcf" opacity="0.8"/><circle cx="2131.4" cy="471.1" r="0.8" fill="#cfcfcf" opacity="0.8"/><circle cx="1999.7" cy="631.3" r="1.0" fill="#cfcfcf" opacity="0.8"/><circle cx="2037.4" cy="631.3" r="1.3" fill="#cfcfcf" opacity="0.6"/><circle cx="2193.1" cy="617.2" r="1.0" fill="#cfcfcf" opacity="0.8"/><circle cx="2084.8" cy="616.5" r="0.8" fill="#cfcfcf" opacity="0.4"/><circle cx="2203.4" cy="447.2" r="1.3" fill="#cfcfcf" opacity="0.6"/><circle cx="2185.3" cy="632.1" r="1.0" fill="#cfcfcf" opacity="0.8"/><circle cx="2162.6" cy="493.0" r="1.0" fill="#cfcfcf" opacity="0.8"/><circle cx="2063.7" cy="568.6" r="1.3" fill="#cfcfcf" opacity="0.8"/><circle cx="2139.6" cy="500.7" r="0.8" fill="#cfcfcf" opacity="0.6"/><circle cx="2080.9" cy="483.9" r="1.0" fill="#cfcfcf" opacity="0.6"/><circle cx="2090.7" cy="607.0" r="1.0" fill="#cfcfcf" opacity="0.4"/><circle cx="2172.3" cy="451.2" r="1.3" fill="#cfcfcf" opacity="0.4"/><circle cx="2039.7" cy="592.3" r="1.0" fill="#cfcfcf" opacity="0.4"/><circle cx="1984.8" cy="591.9" r="1.0" fill="#cfcfcf" opacity="0.4"/><circle cx="2146.6" cy="622.4" r="0.8" fill="#cfcfcf" opacity="0.6"/><circle cx="2145.1" cy="514.4" r="0.8" fill="#cfcfcf" opacity="0.8"/><circle cx="2001.4" cy="581.6" r="0.8" fill="#cfcfcf" opacity="0.4"/><circle cx="2174.0" cy="591.8" r="1.3" fill="#cfcfcf" opacity="0.6"/><circle cx="2025.7" cy="629.2" r="1.0" fill="#cfcfcf" opacity="0.8"/><circle cx="2024.2" cy="557.2" r="0.8" fill="#cfcfcf" opacity="0.4"/><circle cx="2246.6" cy="500.0" r="1.3" fill="#cfcfcf" opacity="0.8"/><circle cx="2016.1" cy="491.0" r="1.0" fill="#cfcfcf" opacity="0.6"/><circle cx="1981.9" cy="607.3" r="0.8" fill="#cfcfcf" opacity="0.4"/><circle cx="2235.7" cy="433.2" r="1.3" fill="#cfcfcf" opacity="0.4"/><circle cx="2032.7" cy="636.5" r="1.0" fill="#cfcfcf" opacity="0.4"/><circle cx="2005.3" cy="557.4" r="1.0" fill="#cfcfcf" opacity="0.6"/><circle cx="2211.0" cy="508.7" r="0.8" fill="#cfcfcf" opacity="0.8"/><circle cx="2190.8" cy="566.6" r="1.3" fill="#cfcfcf" opacity="0.6"/><circle cx="2130.7" cy="445.6" r="1.0" fill="#cfcfcf" opacity="0.8"/><circle cx="2095.6" cy="504.3" r="0.8" fill="#cfcfcf" opacity="0.4"/><circle cx="2038.5" cy="522.8" r="0.8" fill="#cfcfcf" opacity="0.4"/><circle cx="2192.0" cy="579.7" r="1.3" fill="#cfcfcf" opacity="0.4"/>
<polygon points="1981.0,513.0 1984.1,513.5 1987.1,512.7 1990.2,513.5 1993.3,513.6 1996.3,511.9 1999.4,511.1 2002.4,510.0 2005.5,514.1 2008.6,513.0 2011.6,509.4 2014.7,510.8 2017.8,509.7 2020.8,511.8 2023.9,510.5 2026.9,511.0 2030.0,511.1 2033.1,508.6 2036.1,510.6 2039.2,507.7 2042.3,510.2 2045.3,510.4 2048.4,509.6 2051.5,507.2 2054.5,507.6 2057.6,509.0 2060.6,505.1 2063.7,505.8 2066.8,504.9 2069.8,505.4 2072.9,507.7 2076.0,505.0 2079.0,505.4 2082.1,507.8 2085.1,506.6 2088.2,506.7 2091.3,506.5 2094.3,506.1 2097.4,503.9 2100.5,505.6 2103.5,506.0 2106.6,502.1 2109.7,508.3 2112.7,503.2 2115.8,502.1 2118.8,501.1 2121.9,501.2 2125.0,500.2 2128.0,503.0 2131.1,503.6 2134.2,502.9 2137.2,500.7 2140.3,500.7 2143.3,501.2 2146.4,502.0 2149.5,499.0 2152.5,499.9 2155.6,497.7 2158.7,498.0 2161.7,499.0 2164.8,497.8 2167.9,500.9 2170.9,498.3 2174.0,500.0 2177.0,499.0 2180.1,500.8 2183.2,496.4 2186.2,497.5 2189.3,502.9 2192.4,497.9 2195.4,496.9 2198.5,497.5 2201.5,498.9 2204.6,499.0 2207.7,495.8 2210.7,496.3 2213.8,496.8 2216.9,493.9 2219.9,495.5 2223.0,495.4 2226.1,494.1 2229.1,495.0 2232.2,496.2 2235.2,492.6 2238.3,491.9 2241.4,496.1 2244.4,494.7 2247.5,491.8 2250.6,491.3 2253.6,493.4 2256.7,495.1 2259.7,493.2 2262.8,490.5 2265.9,489.9 2268.9,492.7 2272.0,491.7 2272.0,549.0 2268.9,551.1 2265.9,551.6 2262.8,554.9 2259.7,551.5 2256.7,550.6 2253.6,556.2 2250.6,549.7 2247.5,553.2 2244.4,553.3 2241.4,550.7 2238.3,556.2 2235.2,552.2 2232.2,554.6 2229.1,553.0 2226.1,552.6 2223.0,553.0 2219.9,555.3 2216.9,552.0 2213.8,555.5 2210.7,553.9 2207.7,553.9 2204.6,556.2 2201.5,552.9 2198.5,554.5 2195.4,556.8 2192.4,554.2 2189.3,558.0 2186.2,554.8 2183.2,557.1 2180.1,556.9 2177.0,555.3 2174.0,555.3 2170.9,558.6 2167.9,557.3 2164.8,558.2 2161.7,559.7 2158.7,559.0 2155.6,558.4 2152.5,556.6 2149.5,558.0 2146.4,559.1 2143.3,561.1 2140.3,561.1 2137.2,560.8 2134.2,558.7 2131.1,560.9 2128.0,559.5 2125.0,563.1 2121.9,562.4 2118.8,556.1 2115.8,560.4 2112.7,562.3 2109.7,562.9 2106.6,563.4 2103.5,560.9 2100.5,564.8 2097.4,564.1 2094.3,563.3 2091.3,561.7 2088.2,561.4 2085.1,563.7 2082.1,563.5 2079.0,561.4 2076.0,566.0 2072.9,567.4 2069.8,563.9 2066.8,563.3 2063.7,564.4 2060.6,564.9 2057.6,565.0 2054.5,572.0 2051.5,565.2 2048.4,567.3 2045.3,567.2 2042.3,568.0 2039.2,568.9 2036.1,567.3 2033.1,572.9 2030.0,568.1 2026.9,568.6 2023.9,568.0 2020.8,567.0 2017.8,567.8 2014.7,569.7 2011.6,570.1 2008.6,565.5 2005.5,571.5 2002.4,568.6 1999.4,570.4 1996.3,570.6 1993.3,570.9 1990.2,570.2 1987.1,572.7 1984.1,571.6 1981.0,572.5" fill="#212121"/>
<polyline points="1981.0,513.0 1984.1,513.5 1987.1,512.7 1990.2,513.5 1993.3,513.6 1996.3,511.9 1999.4,511.1 2002.4,510.0 2005.5,514.1 2008.6,513.0 2011.6,509.4 2014.7,510.8 2017.8,509.7 2020.8,511.8 2023.9,510.5 2026.9,511.0 2030.0,511.1 2033.1,508.6 2036.1,510.6 2039.2,507.7 2042.3,510.2 2045.3,510.4 2048.4,509.6 2051.5,507.2 2054.5,507.6 2057.6,509.0 2060.6,505.1 2063.7,505.8 2066.8,504.9 2069.8,505.4 2072.9,507.7 2076.0,505.0 2079.0,505.4 2082.1,507.8 2085.1,506.6 2088.2,506.7 2091.3,506.5 2094.3,506.1 2097.4,503.9 2100.5,505.6 2103.5,506.0 2106.6,502.1 2109.7,508.3 2112.7,503.2 2115.8,502.1 2118.8,501.1 2121.9,501.2 2125.0,500.2 2128.0,503.0 2131.1,503.6 2134.2,502.9 2137.2,500.7 2140.3,500.7 2143.3,501.2 2146.4,502.0 2149.5,499.0 2152.5,499.9 2155.6,497.7 2158.7,498.0 2161.7,499.0 2164.8,497.8 2167.9,500.9 2170.9,498.3 2174.0,500.0 2177.0,499.0 2180.1,500.8 2183.2,496.4 2186.2,497.5 2189.3,502.9 2192.4,497.9 2195.4,496.9 2198.5,497.5 2201.5,498.9 2204.6,499.0 2207.7,495.8 2210.7,496.3 2213.8,496.8 2216.9,493.9 2219.9,495.5 2223.0,495.4 2226.1,494.1 2229.1,495.0 2232.2,496.2 2235.2,492.6 2238.3,491.9 2241.4,496.1 2244.4,494.7 2247.5,491.8 2250.6,491.3 2253.6,493.4 2256.7,495.1 2259.7,493.2 2262.8,490.5 2265.9,489.9 2268.9,492.7 2272.0,491.7" fill="none" stroke="#e3211d" stroke-width="1.7"/>
<polyline points="1981.0,572.5 1984.1,571.6 1987.1,572.7 1990.2,570.2 1993.3,570.9 1996.3,570.6 1999.4,570.4 2002.4,568.6 2005.5,571.5 2008.6,565.5 2011.6,570.1 2014.7,569.7 2017.8,567.8 2020.8,567.0 2023.9,568.0 2026.9,568.6 2030.0,568.1 2033.1,572.9 2036.1,567.3 2039.2,568.9 2042.3,568.0 2045.3,567.2 2048.4,567.3 2051.5,565.2 2054.5,572.0 2057.6,565.0 2060.6,564.9 2063.7,564.4 2066.8,563.3 2069.8,563.9 2072.9,567.4 2076.0,566.0 2079.0,561.4 2082.1,563.5 2085.1,563.7 2088.2,561.4 2091.3,561.7 2094.3,563.3 2097.4,564.1 2100.5,564.8 2103.5,560.9 2106.6,563.4 2109.7,562.9 2112.7,562.3 2115.8,560.4 2118.8,556.1 2121.9,562.4 2125.0,563.1 2128.0,559.5 2131.1,560.9 2134.2,558.7 2137.2,560.8 2140.3,561.1 2143.3,561.1 2146.4,559.1 2149.5,558.0 2152.5,556.6 2155.6,558.4 2158.7,559.0 2161.7,559.7 2164.8,558.2 2167.9,557.3 2170.9,558.6 2174.0,555.3 2177.0,555.3 2180.1,556.9 2183.2,557.1 2186.2,554.8 2189.3,558.0 2192.4,554.2 2195.4,556.8 2198.5,554.5 2201.5,552.9 2204.6,556.2 2207.7,553.9 2210.7,553.9 2213.8,555.5 2216.9,552.0 2219.9,555.3 2223.0,553.0 2226.1,552.6 2229.1,553.0 2232.2,554.6 2235.2,552.2 2238.3,556.2 2241.4,550.7 2244.4,553.3 2247.5,553.2 2250.6,549.7 2253.6,556.2 2256.7,550.6 2259.7,551.5 2262.8,554.9 2265.9,551.6 2268.9,551.1 2272.0,549.0" fill="none" stroke="#e3211d" stroke-width="1.7"/>
<line x1="1981.6" y1="513.0" x2="1981.6" y2="572.5" stroke="#e0231f" stroke-width="1.2" />
<line x1="2271.4" y1="491.7" x2="2271.4" y2="549.0" stroke="#e0231f" stroke-width="1.2" />
<text x="2254.0" y="627.0" font-family='"Liberation Sans", sans-serif' font-size="8.5" font-weight="normal" text-anchor="middle" fill="#fff" >200 µM</text>
<line x1="2244.0" y1="632.5" x2="2263.0" y2="632.5" stroke="#fff" stroke-width="1.6" />
</g>
<text x="1203.0" y="166.0" font-family='"Liberation Sans", sans-serif' font-size="33" font-weight="bold" text-anchor="middle" fill="#000" >0 h</text>
<text x="1507.0" y="166.0" font-family='"Liberation Sans", sans-serif' font-size="33" font-weight="bold" text-anchor="middle" fill="#000" >24 h</text>
<text x="1831.0" y="171.0" font-family='"Liberation Sans", sans-serif' font-size="33" font-weight="bold" text-anchor="middle" fill="#000" >48 h</text>
<text x="2134.0" y="170.0" font-family='"Liberation Sans", sans-serif' font-size="33" font-weight="bold" text-anchor="middle" fill="#000" >72 h</text>
<text x="1025.0" y="291.0" font-family='"Liberation Sans", sans-serif' font-size="33" font-weight="bold" text-anchor="middle" fill="#000" transform="rotate(-90 1025.0 291.0)" >NC</text>
<text x="1025.0" y="533.0" font-family='"Liberation Sans", sans-serif' font-size="33" font-weight="bold" text-anchor="middle" fill="#000" transform="rotate(-90 1025.0 533.0)" >OE-Beclin 2</text>
<text x="2266.0" y="58.0" font-family='"Liberation Serif", serif' font-size="69" font-weight="normal" text-anchor="start" fill="#000" >(C)</text>
<rect x="2444.0" y="384.1" width="36.5" height="217.2" fill="#bdcfe8" stroke="none" stroke-width="0" />
<path d="M2445.3 601.3L2445.3 385.4L2479.2 385.4L2479.2 601.3" fill="none" stroke="#8ea3cb" stroke-width="2.7" stroke-linejoin="miter"/>
<path d="M2448.1 601.3L2448.1 388.1L2476.4 388.1L2476.4 601.3" fill="none" stroke="#6b87b8" stroke-width="2.7" stroke-linejoin="miter"/>
<line x1="2462.2" y1="374.6" x2="2462.2" y2="385.1" stroke="#8fa3c9" stroke-width="1.6" />
<line x1="2453.2" y1="374.6" x2="2471.2" y2="374.6" stroke="#8fa3c9" stroke-width="1.6" />
<rect x="2500.0" y="416.7" width="36.5" height="184.6" fill="#d0c4e0" stroke="none" stroke-width="0" />
<path d="M2501.3 601.3L2501.3 418.1L2535.2 418.1L2535.2 601.3" fill="none" stroke="#a08fc4" stroke-width="2.7" stroke-linejoin="miter"/>
<path d="M2504.1 601.3L2504.1 420.8L2532.4 420.8L2532.4 601.3" fill="none" stroke="#846eb0" stroke-width="2.7" stroke-linejoin="miter"/>
<line x1="2518.2" y1="408.1" x2="2518.2" y2="417.7" stroke="#a08cc8" stroke-width="1.6" />
<line x1="2509.2" y1="408.1" x2="2527.2" y2="408.1" stroke="#a08cc8" stroke-width="1.6" />
<rect x="2593.5" y="262.2" width="36.5" height="339.1" fill="#bdcfe8" stroke="none" stroke-width="0" />
<path d="M2594.8 601.3L2594.8 263.5L2628.7 263.5L2628.7 601.3" fill="none" stroke="#8ea3cb" stroke-width="2.7" stroke-linejoin="miter"/>
<path d="M2597.6 601.3L2597.6 266.2L2625.9 266.2L2625.9 601.3" fill="none" stroke="#6b87b8" stroke-width="2.7" stroke-linejoin="miter"/>
<line x1="2611.8" y1="243.3" x2="2611.8" y2="263.2" stroke="#8fa3c9" stroke-width="1.6" />
<line x1="2602.8" y1="243.3" x2="2620.8" y2="243.3" stroke="#8fa3c9" stroke-width="1.6" />
<rect x="2650.0" y="352.3" width="36.5" height="249.0" fill="#d0c4e0" stroke="none" stroke-width="0" />
<path d="M2651.3 601.3L2651.3 353.7L2685.2 353.7L2685.2 601.3" fill="none" stroke="#a08fc4" stroke-width="2.7" stroke-linejoin="miter"/>
<path d="M2654.1 601.3L2654.1 356.4L2682.4 356.4L2682.4 601.3" fill="none" stroke="#846eb0" stroke-width="2.7" stroke-linejoin="miter"/>
<line x1="2668.2" y1="336.9" x2="2668.2" y2="353.3" stroke="#a08cc8" stroke-width="1.6" />
<line x1="2659.2" y1="336.9" x2="2677.2" y2="336.9" stroke="#a08cc8" stroke-width="1.6" />
<rect x="2742.5" y="228.7" width="36.5" height="372.6" fill="#bdcfe8" stroke="none" stroke-width="0" />
<path d="M2743.8 601.3L2743.8 230.0L2777.7 230.0L2777.7 601.3" fill="none" stroke="#8ea3cb" stroke-width="2.7" stroke-linejoin="miter"/>
<path d="M2746.6 601.3L2746.6 232.7L2774.9 232.7L2774.9 601.3" fill="none" stroke="#6b87b8" stroke-width="2.7" stroke-linejoin="miter"/>
<line x1="2760.8" y1="215.8" x2="2760.8" y2="229.7" stroke="#8fa3c9" stroke-width="1.6" />
<line x1="2751.8" y1="215.8" x2="2769.8" y2="215.8" stroke="#8fa3c9" stroke-width="1.6" />
<rect x="2799.0" y="332.6" width="36.5" height="268.7" fill="#d0c4e0" stroke="none" stroke-width="0" />
<path d="M2800.3 601.3L2800.3 333.9L2834.2 333.9L2834.2 601.3" fill="none" stroke="#a08fc4" stroke-width="2.7" stroke-linejoin="miter"/>
<path d="M2803.1 601.3L2803.1 336.6L2831.4 336.6L2831.4 601.3" fill="none" stroke="#846eb0" stroke-width="2.7" stroke-linejoin="miter"/>
<line x1="2817.2" y1="318.0" x2="2817.2" y2="333.6" stroke="#a08cc8" stroke-width="1.6" />
<line x1="2808.2" y1="318.0" x2="2826.2" y2="318.0" stroke="#a08cc8" stroke-width="1.6" />
<line x1="2425.0" y1="170.0" x2="2425.0" y2="603.3" stroke="#000" stroke-width="4" />
<line x1="2423.0" y1="601.3" x2="2856.0" y2="601.3" stroke="#000" stroke-width="4" />
<line x1="2408.0" y1="172.0" x2="2425.0" y2="172.0" stroke="#000" stroke-width="4" />
<text x="2403.0" y="183.5" font-family='"Liberation Sans", sans-serif' font-size="32" font-weight="bold" text-anchor="end" fill="#000" >50</text>
<line x1="2408.0" y1="258.0" x2="2425.0" y2="258.0" stroke="#000" stroke-width="4" />
<text x="2403.0" y="269.5" font-family='"Liberation Sans", sans-serif' font-size="32" font-weight="bold" text-anchor="end" fill="#000" >40</text>
<line x1="2408.0" y1="343.7" x2="2425.0" y2="343.7" stroke="#000" stroke-width="4" />
<text x="2403.0" y="355.2" font-family='"Liberation Sans", sans-serif' font-size="32" font-weight="bold" text-anchor="end" fill="#000" >30</text>
<line x1="2408.0" y1="429.6" x2="2425.0" y2="429.6" stroke="#000" stroke-width="4" />
<text x="2403.0" y="441.1" font-family='"Liberation Sans", sans-serif' font-size="32" font-weight="bold" text-anchor="end" fill="#000" >20</text>
<line x1="2408.0" y1="515.4" x2="2425.0" y2="515.4" stroke="#000" stroke-width="4" />
<text x="2403.0" y="526.9" font-family='"Liberation Sans", sans-serif' font-size="32" font-weight="bold" text-anchor="end" fill="#000" >10</text>
<line x1="2408.0" y1="601.3" x2="2425.0" y2="601.3" stroke="#000" stroke-width="4" />
<text x="2403.0" y="612.8" font-family='"Liberation Sans", sans-serif' font-size="32" font-weight="bold" text-anchor="end" fill="#000" >0</text>
<line x1="2490.0" y1="601.0" x2="2490.0" y2="619.0" stroke="#000" stroke-width="4" />
<text x="2499.0" y="643.0" font-family='"Liberation Sans", sans-serif' font-size="32" font-weight="bold" text-anchor="end" fill="#000" transform="rotate(-45 2499.0 643.0)" >24</text>
<line x1="2639.7" y1="601.0" x2="2639.7" y2="619.0" stroke="#000" stroke-width="4" />
<text x="2648.7" y="643.0" font-family='"Liberation Sans", sans-serif' font-size="32" font-weight="bold" text-anchor="end" fill="#000" transform="rotate(-45 2648.7 643.0)" >48</text>
<line x1="2789.0" y1="601.0" x2="2789.0" y2="619.0" stroke="#000" stroke-width="4" />
<text x="2798.0" y="643.0" font-family='"Liberation Sans", sans-serif' font-size="32" font-weight="bold" text-anchor="end" fill="#000" transform="rotate(-45 2798.0 643.0)" >72</text>
<text x="2640.0" y="718.0" font-family='"Liberation Sans", sans-serif' font-size="32" font-weight="bold" text-anchor="middle" fill="#000" >hours</text>
<text x="2350.0" y="387.0" font-family='"Liberation Sans", sans-serif' font-size="37" font-weight="bold" text-anchor="middle" fill="#000" transform="rotate(-90 2350.0 387.0)" >Migration rate (%)</text>
<polyline points="2463.0,353.5 2463.0,328.0 2519.5,328.0 2519.5,353.5" fill="none" stroke="#000" stroke-width="2" stroke-linejoin="miter"/>
<path d="M2491.0 295.0L2491.0 307.0M2485.8 298.0L2496.2 304.0M2496.2 298.0L2485.8 304.0" stroke="#000" stroke-width="4.5" stroke-linecap="round" fill="none"/>
<polyline points="2612.5,226.0 2612.5,200.7 2669.0,200.7 2669.0,226.0" fill="none" stroke="#000" stroke-width="2" stroke-linejoin="miter"/>
<path d="M2620.5 168.0L2620.5 180.0M2615.3 171.0L2625.7 177.0M2625.7 171.0L2615.3 177.0M2640.5 168.0L2640.5 180.0M2635.3 171.0L2645.7 177.0M2645.7 171.0L2635.3 177.0M2660.5 168.0L2660.5 180.0M2655.3 171.0L2665.7 177.0M2665.7 171.0L2655.3 177.0" stroke="#000" stroke-width="4.5" stroke-linecap="round" fill="none"/>
<polyline points="2764.5,202.0 2764.5,181.3 2819.5,181.3 2819.5,202.0" fill="none" stroke="#000" stroke-width="2" stroke-linejoin="miter"/>
<path d="M2772.0 149.0L2772.0 161.0M2766.8 152.0L2777.2 158.0M2777.2 152.0L2766.8 158.0M2792.0 149.0L2792.0 161.0M2786.8 152.0L2797.2 158.0M2797.2 152.0L2786.8 158.0M2812.0 149.0L2812.0 161.0M2806.8 152.0L2817.2 158.0M2817.2 152.0L2806.8 158.0" stroke="#000" stroke-width="4.5" stroke-linecap="round" fill="none"/>
<rect x="2905.0" y="177.0" width="41.0" height="18.5" fill="#bdcfe8" stroke="#6b87b8" stroke-width="4" />
<rect x="2905.0" y="245.0" width="41.0" height="17.0" fill="#d0c4e0" stroke="#846eb0" stroke-width="4" />
<text x="2975.0" y="199.0" font-family='"Liberation Sans", sans-serif' font-size="36" font-weight="normal" text-anchor="start" fill="#000" >NC</text>
<text x="2975.0" y="266.0" font-family='"Liberation Sans", sans-serif' font-size="36" font-weight="normal" text-anchor="start" fill="#000" >OE-Beclin 2</text>
<text x="9.0" y="832.0" font-family='"Liberation Serif", serif' font-size="69" font-weight="normal" text-anchor="start" fill="#000" >(D)</text>
<clipPath id="cD1"><rect x="230.3" y="923.5" width="342.5" height="342"/></clipPath>
<g clip-path="url(#cD1)">
<rect x="230.3" y="923.5" width="342.5" height="342.0" fill="#030305" stroke="none" stroke-width="0" />
<rect x="230.3" y="923.5" width="342.5" height="342.0" fill="#000" stroke="none" stroke-width="0" filter="url(#nzDark)" opacity="0.9"/>
<g filter="url(#b5)"><ellipse cx="366.8" cy="933.8" rx="13.8" ry="16.9" fill="#3a1210" opacity="0.55" transform="rotate(0 366.8 933.8)"/><ellipse cx="403.5" cy="933.8" rx="16.9" ry="15.4" fill="#3a1210" opacity="0.55" transform="rotate(-30 403.5 933.8)"/><ellipse cx="492.8" cy="936.8" rx="18.5" ry="21.5" fill="#3a1210" opacity="0.55" transform="rotate(-20 492.8 936.8)"/><ellipse cx="534.5" cy="935.8" rx="23.1" ry="13.8" fill="#3a1210" opacity="0.55" transform="rotate(25 534.5 935.8)"/><ellipse cx="560.3" cy="931.8" rx="15.4" ry="15.4" fill="#3a1210" opacity="0.55" transform="rotate(0 560.3 931.8)"/><ellipse cx="246.8" cy="952.7" rx="21.5" ry="14.8" fill="#3a1210" opacity="0.55" transform="rotate(-15 246.8 952.7)"/><ellipse cx="432.3" cy="963.6" rx="18.5" ry="14.8" fill="#3a1210" opacity="0.55" transform="rotate(-20 432.3 963.6)"/><ellipse cx="464.0" cy="956.6" rx="13.8" ry="21.5" fill="#3a1210" opacity="0.55" transform="rotate(-25 464.0 956.6)"/><ellipse cx="322.2" cy="970.5" rx="19.1" ry="13.8" fill="#3a1210" opacity="0.55" transform="rotate(-25 322.2 970.5)"/><ellipse cx="363.2" cy="986.4" rx="16.9" ry="21.5" fill="#3a1210" opacity="0.55" transform="rotate(25 363.2 986.4)"/><ellipse cx="397.6" cy="988.4" rx="14.8" ry="23.1" fill="#3a1210" opacity="0.55" transform="rotate(-5 397.6 988.4)"/><ellipse cx="431.3" cy="1001.3" rx="13.8" ry="20.0" fill="#3a1210" opacity="0.55" transform="rotate(-10 431.3 1001.3)"/><ellipse cx="320.2" cy="1005.2" rx="15.4" ry="21.5" fill="#3a1210" opacity="0.55" transform="rotate(-30 320.2 1005.2)"/><ellipse cx="279.1" cy="1021.1" rx="15.4" ry="29.2" fill="#3a1210" opacity="0.55" transform="rotate(15 279.1 1021.1)"/><ellipse cx="237.8" cy="1031.0" rx="10.8" ry="24.6" fill="#3a1210" opacity="0.55" transform="rotate(0 237.8 1031.0)"/><ellipse cx="373.8" cy="1024.1" rx="20.0" ry="14.8" fill="#3a1210" opacity="0.55" transform="rotate(10 373.8 1024.1)"/><ellipse cx="411.5" cy="1029.1" rx="13.8" ry="16.9" fill="#3a1210" opacity="0.55" transform="rotate(-20 411.5 1029.1)"/><ellipse cx="502.7" cy="1026.1" rx="16.0" ry="24.6" fill="#3a1210" opacity="0.55" transform="rotate(10 502.7 1026.1)"/><ellipse cx="540.4" cy="1022.1" rx="13.8" ry="24.6" fill="#3a1210" opacity="0.55" transform="rotate(0 540.4 1022.1)"/><ellipse cx="459.1" cy="1042.0" rx="20.0" ry="20.9" fill="#3a1210" opacity="0.55" transform="rotate(0 459.1 1042.0)"/><ellipse cx="300.3" cy="1043.9" rx="14.8" ry="16.9" fill="#3a1210" opacity="0.55" transform="rotate(10 300.3 1043.9)"/><ellipse cx="384.7" cy="1054.8" rx="20.0" ry="13.8" fill="#3a1210" opacity="0.55" transform="rotate(-10 384.7 1054.8)"/><ellipse cx="431.3" cy="1056.4" rx="16.0" ry="14.8" fill="#3a1210" opacity="0.55" transform="rotate(0 431.3 1056.4)"/><ellipse cx="297.4" cy="1067.7" rx="14.8" ry="16.9" fill="#3a1210" opacity="0.55" transform="rotate(0 297.4 1067.7)"/><ellipse cx="250.7" cy="1077.7" rx="18.5" ry="17.8" fill="#3a1210" opacity="0.55" transform="rotate(20 250.7 1077.7)"/><ellipse cx="413.4" cy="1073.7" rx="18.5" ry="13.8" fill="#3a1210" opacity="0.55" transform="rotate(15 413.4 1073.7)"/><ellipse cx="364.8" cy="1080.6" rx="14.8" ry="18.5" fill="#3a1210" opacity="0.55" transform="rotate(-20 364.8 1080.6)"/><ellipse cx="518.6" cy="1079.7" rx="29.2" ry="16.0" fill="#3a1210" opacity="0.55" transform="rotate(-15 518.6 1079.7)"/><ellipse cx="332.1" cy="1133.2" rx="12.3" ry="23.1" fill="#3a1210" opacity="0.55" transform="rotate(30 332.1 1133.2)"/><ellipse cx="373.8" cy="1132.2" rx="20.0" ry="13.8" fill="#3a1210" opacity="0.55" transform="rotate(-10 373.8 1132.2)"/><ellipse cx="488.8" cy="1136.2" rx="18.5" ry="16.9" fill="#3a1210" opacity="0.55" transform="rotate(0 488.8 1136.2)"/><ellipse cx="546.4" cy="1150.1" rx="15.4" ry="27.7" fill="#3a1210" opacity="0.55" transform="rotate(-10 546.4 1150.1)"/><ellipse cx="391.6" cy="1160.0" rx="13.8" ry="20.0" fill="#3a1210" opacity="0.55" transform="rotate(5 391.6 1160.0)"/><ellipse cx="446.2" cy="1157.0" rx="12.3" ry="21.5" fill="#3a1210" opacity="0.55" transform="rotate(-35 446.2 1157.0)"/><ellipse cx="349.0" cy="1165.0" rx="18.5" ry="16.0" fill="#3a1210" opacity="0.55" transform="rotate(10 349.0 1165.0)"/><ellipse cx="428.3" cy="1173.9" rx="18.5" ry="16.9" fill="#3a1210" opacity="0.55" transform="rotate(20 428.3 1173.9)"/><ellipse cx="495.8" cy="1181.8" rx="19.1" ry="16.0" fill="#3a1210" opacity="0.55" transform="rotate(15 495.8 1181.8)"/><ellipse cx="280.5" cy="1197.7" rx="16.9" ry="15.4" fill="#3a1210" opacity="0.55" transform="rotate(10 280.5 1197.7)"/><ellipse cx="357.9" cy="1208.6" rx="26.1" ry="18.5" fill="#3a1210" opacity="0.55" transform="rotate(25 357.9 1208.6)"/><ellipse cx="445.2" cy="1205.2" rx="23.1" ry="13.8" fill="#3a1210" opacity="0.55" transform="rotate(5 445.2 1205.2)"/><ellipse cx="300.3" cy="1238.4" rx="17.8" ry="13.8" fill="#3a1210" opacity="0.55" transform="rotate(15 300.3 1238.4)"/><ellipse cx="443.2" cy="1249.3" rx="22.1" ry="18.5" fill="#3a1210" opacity="0.55" transform="rotate(-10 443.2 1249.3)"/></g>
<g filter="url(#b2)"><ellipse cx="366.8" cy="933.8" rx="8.9" ry="10.9" fill="#3e34b8" opacity="1.0" transform="rotate(0 366.8 933.8)"/><ellipse cx="403.5" cy="933.8" rx="10.9" ry="9.9" fill="#3e34b8" opacity="1.0" transform="rotate(-30 403.5 933.8)"/><ellipse cx="492.8" cy="936.8" rx="11.9" ry="13.9" fill="#3e34b8" opacity="1.0" transform="rotate(-20 492.8 936.8)"/><ellipse cx="534.5" cy="935.8" rx="14.9" ry="8.9" fill="#3e34b8" opacity="1.0" transform="rotate(25 534.5 935.8)"/><ellipse cx="560.3" cy="931.8" rx="9.9" ry="9.9" fill="#3e34b8" opacity="1.0" transform="rotate(0 560.3 931.8)"/><ellipse cx="246.8" cy="952.7" rx="13.9" ry="9.5" fill="#3e34b8" opacity="1.0" transform="rotate(-15 246.8 952.7)"/><ellipse cx="432.3" cy="963.6" rx="11.9" ry="9.5" fill="#3e34b8" opacity="1.0" transform="rotate(-20 432.3 963.6)"/><ellipse cx="464.0" cy="956.6" rx="8.9" ry="13.9" fill="#3e34b8" opacity="1.0" transform="rotate(-25 464.0 956.6)"/><ellipse cx="322.2" cy="970.5" rx="12.3" ry="8.9" fill="#3e34b8" opacity="1.0" transform="rotate(-25 322.2 970.5)"/><ellipse cx="363.2" cy="986.4" rx="10.9" ry="13.9" fill="#3e34b8" opacity="1.0" transform="rotate(25 363.2 986.4)"/><ellipse cx="397.6" cy="988.4" rx="9.5" ry="14.9" fill="#3e34b8" opacity="1.0" transform="rotate(-5 397.6 988.4)"/><ellipse cx="431.3" cy="1001.3" rx="8.9" ry="12.9" fill="#3e34b8" opacity="1.0" transform="rotate(-10 431.3 1001.3)"/><ellipse cx="320.2" cy="1005.2" rx="9.9" ry="13.9" fill="#3e34b8" opacity="1.0" transform="rotate(-30 320.2 1005.2)"/><ellipse cx="279.1" cy="1021.1" rx="9.9" ry="18.8" fill="#3e34b8" opacity="1.0" transform="rotate(15 279.1 1021.1)"/><ellipse cx="237.8" cy="1031.0" rx="6.9" ry="15.9" fill="#3e34b8" opacity="1.0" transform="rotate(0 237.8 1031.0)"/><ellipse cx="373.8" cy="1024.1" rx="12.9" ry="9.5" fill="#3e34b8" opacity="1.0" transform="rotate(10 373.8 1024.1)"/><ellipse cx="411.5" cy="1029.1" rx="8.9" ry="10.9" fill="#3e34b8" opacity="1.0" transform="rotate(-20 411.5 1029.1)"/><ellipse cx="502.7" cy="1026.1" rx="10.3" ry="15.9" fill="#3e34b8" opacity="1.0" transform="rotate(10 502.7 1026.1)"/><ellipse cx="540.4" cy="1022.1" rx="8.9" ry="15.9" fill="#3e34b8" opacity="1.0" transform="rotate(0 540.4 1022.1)"/><ellipse cx="459.1" cy="1042.0" rx="12.9" ry="13.5" fill="#3e34b8" opacity="1.0" transform="rotate(0 459.1 1042.0)"/><ellipse cx="300.3" cy="1043.9" rx="9.5" ry="10.9" fill="#3e34b8" opacity="1.0" transform="rotate(10 300.3 1043.9)"/><ellipse cx="384.7" cy="1054.8" rx="12.9" ry="8.9" fill="#3e34b8" opacity="1.0" transform="rotate(-10 384.7 1054.8)"/><ellipse cx="431.3" cy="1056.4" rx="10.3" ry="9.5" fill="#3e34b8" opacity="1.0" transform="rotate(0 431.3 1056.4)"/><ellipse cx="297.4" cy="1067.7" rx="9.5" ry="10.9" fill="#3e34b8" opacity="1.0" transform="rotate(0 297.4 1067.7)"/><ellipse cx="250.7" cy="1077.7" rx="11.9" ry="11.5" fill="#3e34b8" opacity="1.0" transform="rotate(20 250.7 1077.7)"/><ellipse cx="413.4" cy="1073.7" rx="11.9" ry="8.9" fill="#3e34b8" opacity="1.0" transform="rotate(15 413.4 1073.7)"/><ellipse cx="364.8" cy="1080.6" rx="9.5" ry="11.9" fill="#3e34b8" opacity="1.0" transform="rotate(-20 364.8 1080.6)"/><ellipse cx="518.6" cy="1079.7" rx="18.8" ry="10.3" fill="#3e34b8" opacity="1.0" transform="rotate(-15 518.6 1079.7)"/><ellipse cx="332.1" cy="1133.2" rx="7.9" ry="14.9" fill="#3e34b8" opacity="1.0" transform="rotate(30 332.1 1133.2)"/><ellipse cx="373.8" cy="1132.2" rx="12.9" ry="8.9" fill="#3e34b8" opacity="1.0" transform="rotate(-10 373.8 1132.2)"/><ellipse cx="488.8" cy="1136.2" rx="11.9" ry="10.9" fill="#3e34b8" opacity="1.0" transform="rotate(0 488.8 1136.2)"/><ellipse cx="546.4" cy="1150.1" rx="9.9" ry="17.9" fill="#3e34b8" opacity="1.0" transform="rotate(-10 546.4 1150.1)"/><ellipse cx="391.6" cy="1160.0" rx="8.9" ry="12.9" fill="#3e34b8" opacity="1.0" transform="rotate(5 391.6 1160.0)"/><ellipse cx="446.2" cy="1157.0" rx="7.9" ry="13.9" fill="#3e34b8" opacity="1.0" transform="rotate(-35 446.2 1157.0)"/><ellipse cx="349.0" cy="1165.0" rx="11.9" ry="10.3" fill="#3e34b8" opacity="1.0" transform="rotate(10 349.0 1165.0)"/><ellipse cx="428.3" cy="1173.9" rx="11.9" ry="10.9" fill="#3e34b8" opacity="1.0" transform="rotate(20 428.3 1173.9)"/><ellipse cx="495.8" cy="1181.8" rx="12.3" ry="10.3" fill="#3e34b8" opacity="1.0" transform="rotate(15 495.8 1181.8)"/><ellipse cx="280.5" cy="1197.7" rx="10.9" ry="9.9" fill="#3e34b8" opacity="1.0" transform="rotate(10 280.5 1197.7)"/><ellipse cx="357.9" cy="1208.6" rx="16.9" ry="11.9" fill="#3e34b8" opacity="1.0" transform="rotate(25 357.9 1208.6)"/><ellipse cx="445.2" cy="1205.2" rx="14.9" ry="8.9" fill="#3e34b8" opacity="1.0" transform="rotate(5 445.2 1205.2)"/><ellipse cx="300.3" cy="1238.4" rx="11.5" ry="8.9" fill="#3e34b8" opacity="1.0" transform="rotate(15 300.3 1238.4)"/><ellipse cx="443.2" cy="1249.3" rx="14.3" ry="11.9" fill="#3e34b8" opacity="1.0" transform="rotate(-10 443.2 1249.3)"/></g>
<g filter="url(#b1)"><ellipse cx="413.4" cy="1177.9" rx="4.5" ry="4.5" fill="#e07a18" opacity="1.0" transform="rotate(0 413.4 1177.9)"/></g>
<text x="547.8" y="1247.5" font-family='"Liberation Sans", sans-serif' font-size="11.5" font-weight="bold" text-anchor="middle" fill="#fff" >10 µm</text>
<line x1="533.8" y1="1254.5" x2="561.8" y2="1254.5" stroke="#fff" stroke-width="2.6" />
</g>
<clipPath id="cD2"><rect x="670" y="923.5" width="341.6" height="341.5"/></clipPath>
<g clip-path="url(#cD2)">
<rect x="670.0" y="923.5" width="341.6" height="341.5" fill="#030305" stroke="none" stroke-width="0" />
<rect x="670.0" y="923.5" width="341.6" height="341.5" fill="#000" stroke="none" stroke-width="0" filter="url(#nzDark)" opacity="0.9"/>
<g filter="url(#b12)"><ellipse cx="807.9" cy="952.7" rx="49.1" ry="38.7" fill="#3a1210" opacity="0.5" transform="rotate(-25 807.9 952.7)"/><ellipse cx="914.0" cy="994.3" rx="44.6" ry="52.1" fill="#3a1210" opacity="0.5" transform="rotate(20 914.0 994.3)"/><ellipse cx="997.4" cy="999.3" rx="35.7" ry="55.1" fill="#3a1210" opacity="0.5" transform="rotate(10 997.4 999.3)"/><ellipse cx="803.9" cy="1042.9" rx="40.2" ry="52.1" fill="#3a1210" opacity="0.5" transform="rotate(-25 803.9 1042.9)"/><ellipse cx="697.8" cy="1083.6" rx="41.7" ry="69.9" fill="#3a1210" opacity="0.5" transform="rotate(10 697.8 1083.6)"/><ellipse cx="940.8" cy="1091.6" rx="49.1" ry="37.2" fill="#3a1210" opacity="0.5" transform="rotate(10 940.8 1091.6)"/><ellipse cx="754.3" cy="1141.2" rx="35.7" ry="41.7" fill="#3a1210" opacity="0.5" transform="rotate(10 754.3 1141.2)"/><ellipse cx="745.4" cy="1201.7" rx="38.7" ry="43.2" fill="#3a1210" opacity="0.5" transform="rotate(5 745.4 1201.7)"/><ellipse cx="967.6" cy="1168.9" rx="49.1" ry="34.2" fill="#3a1210" opacity="0.5" transform="rotate(10 967.6 1168.9)"/><ellipse cx="918.0" cy="1235.4" rx="40.2" ry="46.1" fill="#3a1210" opacity="0.5" transform="rotate(-20 918.0 1235.4)"/><ellipse cx="1009.3" cy="1215.6" rx="8.9" ry="20.8" fill="#3a1210" opacity="0.5" transform="rotate(0 1009.3 1215.6)"/></g>
<g filter="url(#b3)"><ellipse cx="807.9" cy="952.7" rx="32.7" ry="25.8" fill="#3d34b4" opacity="1.0" transform="rotate(-25 807.9 952.7)"/><ellipse cx="914.0" cy="994.3" rx="29.8" ry="34.7" fill="#3d34b4" opacity="1.0" transform="rotate(20 914.0 994.3)"/><ellipse cx="997.4" cy="999.3" rx="23.8" ry="36.7" fill="#3d34b4" opacity="1.0" transform="rotate(10 997.4 999.3)"/><ellipse cx="803.9" cy="1042.9" rx="26.8" ry="34.7" fill="#3d34b4" opacity="1.0" transform="rotate(-25 803.9 1042.9)"/><ellipse cx="697.8" cy="1083.6" rx="27.8" ry="46.6" fill="#3d34b4" opacity="1.0" transform="rotate(10 697.8 1083.6)"/><ellipse cx="940.8" cy="1091.6" rx="32.7" ry="24.8" fill="#3d34b4" opacity="1.0" transform="rotate(10 940.8 1091.6)"/><ellipse cx="754.3" cy="1141.2" rx="23.8" ry="27.8" fill="#3d34b4" opacity="1.0" transform="rotate(10 754.3 1141.2)"/><ellipse cx="745.4" cy="1201.7" rx="25.8" ry="28.8" fill="#3d34b4" opacity="1.0" transform="rotate(5 745.4 1201.7)"/><ellipse cx="967.6" cy="1168.9" rx="32.7" ry="22.8" fill="#3d34b4" opacity="1.0" transform="rotate(10 967.6 1168.9)"/><ellipse cx="918.0" cy="1235.4" rx="26.8" ry="30.8" fill="#3d34b4" opacity="1.0" transform="rotate(-20 918.0 1235.4)"/><ellipse cx="1009.3" cy="1215.6" rx="6.0" ry="13.9" fill="#3d34b4" opacity="1.0" transform="rotate(0 1009.3 1215.6)"/></g>
<g filter="url(#b2)"><ellipse cx="702.7" cy="1239.4" rx="5.0" ry="5.0" fill="#b85a14" opacity="1.0" transform="rotate(0 702.7 1239.4)"/></g>
<text x="985.1" y="1247.0" font-family='"Liberation Sans", sans-serif' font-size="11.5" font-weight="bold" text-anchor="middle" fill="#fff" >5 µm</text>
<line x1="969.6" y1="1254.0" x2="1000.6" y2="1254.0" stroke="#fff" stroke-width="2.6" />
</g>
<clipPath id="cD3"><rect x="230.3" y="1290.3" width="342.2" height="341.7"/></clipPath>
<g clip-path="url(#cD3)">
<rect x="230.3" y="1290.3" width="342.2" height="341.7" fill="#030305" stroke="none" stroke-width="0" />
<rect x="230.3" y="1290.3" width="342.2" height="341.7" fill="#000" stroke="none" stroke-width="0" filter="url(#nzDark)" opacity="0.9"/>
<g filter="url(#b3)"><ellipse cx="321.4" cy="1318.7" rx="17.5" ry="22.8" fill="#763212" opacity="0.8" transform="rotate(20 321.4 1318.7)"/><ellipse cx="425.8" cy="1293.9" rx="8.8" ry="10.5" fill="#763212" opacity="0.8" transform="rotate(0 425.8 1293.9)"/><ellipse cx="478.6" cy="1297.9" rx="15.8" ry="12.3" fill="#763212" opacity="0.8" transform="rotate(0 478.6 1297.9)"/><ellipse cx="527.3" cy="1298.9" rx="21.0" ry="14.0" fill="#763212" opacity="0.8" transform="rotate(0 527.3 1298.9)"/><ellipse cx="512.4" cy="1322.7" rx="19.3" ry="17.5" fill="#763212" opacity="0.8" transform="rotate(0 512.4 1322.7)"/><ellipse cx="550.2" cy="1337.6" rx="19.3" ry="22.8" fill="#763212" opacity="0.8" transform="rotate(0 550.2 1337.6)"/><ellipse cx="405.0" cy="1345.6" rx="12.3" ry="35.0" fill="#763212" opacity="0.8" transform="rotate(25 405.0 1345.6)"/><ellipse cx="456.7" cy="1341.6" rx="14.0" ry="26.3" fill="#9c4816" opacity="0.8" transform="rotate(15 456.7 1341.6)"/><ellipse cx="492.5" cy="1360.5" rx="22.8" ry="21.0" fill="#763212" opacity="0.8" transform="rotate(0 492.5 1360.5)"/><ellipse cx="567.1" cy="1368.5" rx="10.5" ry="17.5" fill="#763212" opacity="0.8" transform="rotate(0 567.1 1368.5)"/><ellipse cx="422.9" cy="1384.4" rx="24.5" ry="21.0" fill="#763212" opacity="0.8" transform="rotate(0 422.9 1384.4)"/><ellipse cx="475.6" cy="1399.3" rx="26.3" ry="14.0" fill="#9c4816" opacity="0.8" transform="rotate(-15 475.6 1399.3)"/><ellipse cx="540.2" cy="1409.3" rx="19.3" ry="24.5" fill="#9c4816" opacity="0.8" transform="rotate(-20 540.2 1409.3)"/><ellipse cx="262.7" cy="1409.3" rx="15.8" ry="19.3" fill="#763212" opacity="0.8" transform="rotate(35 262.7 1409.3)"/><ellipse cx="321.4" cy="1427.2" rx="22.8" ry="15.8" fill="#763212" opacity="0.8" transform="rotate(0 321.4 1427.2)"/><ellipse cx="364.2" cy="1426.2" rx="15.8" ry="24.5" fill="#763212" opacity="0.8" transform="rotate(0 364.2 1426.2)"/><ellipse cx="500.4" cy="1429.2" rx="26.3" ry="26.3" fill="#763212" opacity="0.8" transform="rotate(0 500.4 1429.2)"/><ellipse cx="258.7" cy="1440.1" rx="14.0" ry="14.0" fill="#c8681e" opacity="0.8" transform="rotate(0 258.7 1440.1)"/><ellipse cx="275.7" cy="1438.1" rx="12.3" ry="10.5" fill="#c8681e" opacity="0.8" transform="rotate(0 275.7 1438.1)"/><ellipse cx="277.6" cy="1455.0" rx="8.8" ry="7.9" fill="#9c4816" opacity="0.8" transform="rotate(0 277.6 1455.0)"/><ellipse cx="309.5" cy="1461.0" rx="29.8" ry="15.8" fill="#763212" opacity="0.8" transform="rotate(0 309.5 1461.0)"/><ellipse cx="265.7" cy="1474.9" rx="14.0" ry="12.3" fill="#c8681e" opacity="0.8" transform="rotate(0 265.7 1474.9)"/><ellipse cx="544.2" cy="1462.0" rx="14.0" ry="12.3" fill="#c8681e" opacity="0.8" transform="rotate(0 544.2 1462.0)"/><ellipse cx="567.1" cy="1456.0" rx="8.8" ry="8.8" fill="#763212" opacity="0.8" transform="rotate(0 567.1 1456.0)"/><ellipse cx="480.5" cy="1471.9" rx="31.5" ry="17.5" fill="#9c4816" opacity="0.8" transform="rotate(20 480.5 1471.9)"/><ellipse cx="392.0" cy="1486.8" rx="17.5" ry="22.8" fill="#763212" opacity="0.8" transform="rotate(30 392.0 1486.8)"/><ellipse cx="503.4" cy="1496.8" rx="31.5" ry="17.5" fill="#9c4816" opacity="0.8" transform="rotate(10 503.4 1496.8)"/><ellipse cx="570.1" cy="1488.8" rx="8.8" ry="26.3" fill="#9c4816" opacity="0.8" transform="rotate(0 570.1 1488.8)"/><ellipse cx="349.3" cy="1512.7" rx="12.3" ry="29.8" fill="#763212" opacity="0.8" transform="rotate(-20 349.3 1512.7)"/><ellipse cx="326.4" cy="1538.6" rx="14.0" ry="35.0" fill="#763212" opacity="0.8" transform="rotate(-20 326.4 1538.6)"/><ellipse cx="471.6" cy="1566.4" rx="14.0" ry="19.3" fill="#c8681e" opacity="0.8" transform="rotate(0 471.6 1566.4)"/><ellipse cx="478.6" cy="1594.3" rx="12.3" ry="19.3" fill="#9c4816" opacity="0.8" transform="rotate(0 478.6 1594.3)"/><ellipse cx="422.9" cy="1630.1" rx="7.0" ry="5.3" fill="#9c4816" opacity="0.8" transform="rotate(0 422.9 1630.1)"/></g>
<g filter="url(#b1)"><ellipse cx="321.4" cy="1318.7" rx="9.0" ry="11.9" fill="#5b3cc2" opacity="1.0" transform="rotate(20 321.4 1318.7)"/><ellipse cx="425.8" cy="1293.9" rx="6.0" ry="5.0" fill="#5b3cc2" opacity="1.0" transform="rotate(0 425.8 1293.9)"/><ellipse cx="478.6" cy="1297.9" rx="9.0" ry="8.0" fill="#5b3cc2" opacity="1.0" transform="rotate(0 478.6 1297.9)"/><ellipse cx="527.3" cy="1298.9" rx="10.9" ry="9.0" fill="#5b3cc2" opacity="1.0" transform="rotate(0 527.3 1298.9)"/><ellipse cx="512.4" cy="1322.7" rx="9.9" ry="9.9" fill="#5b3cc2" opacity="1.0" transform="rotate(0 512.4 1322.7)"/><ellipse cx="550.2" cy="1337.6" rx="9.0" ry="10.9" fill="#5b3cc2" opacity="1.0" transform="rotate(0 550.2 1337.6)"/><ellipse cx="405.0" cy="1345.6" rx="8.0" ry="12.9" fill="#5b3cc2" opacity="1.0" transform="rotate(25 405.0 1345.6)"/><ellipse cx="456.7" cy="1341.6" rx="9.0" ry="9.9" fill="#5b3cc2" opacity="1.0" transform="rotate(15 456.7 1341.6)"/><ellipse cx="492.5" cy="1360.5" rx="9.9" ry="11.9" fill="#5b3cc2" opacity="1.0" transform="rotate(0 492.5 1360.5)"/><ellipse cx="567.1" cy="1368.5" rx="6.0" ry="7.0" fill="#5b3cc2" opacity="1.0" transform="rotate(0 567.1 1368.5)"/><ellipse cx="422.9" cy="1384.4" rx="12.9" ry="10.9" fill="#5b3cc2" opacity="1.0" transform="rotate(0 422.9 1384.4)"/><ellipse cx="475.6" cy="1399.3" rx="9.9" ry="9.0" fill="#5b3cc2" opacity="1.0" transform="rotate(-15 475.6 1399.3)"/><ellipse cx="540.2" cy="1409.3" rx="10.9" ry="13.9" fill="#5b3cc2" opacity="1.0" transform="rotate(-20 540.2 1409.3)"/><ellipse cx="262.7" cy="1409.3" rx="9.9" ry="7.0" fill="#5b3cc2" opacity="1.0" transform="rotate(35 262.7 1409.3)"/><ellipse cx="321.4" cy="1427.2" rx="9.0" ry="8.0" fill="#5b3cc2" opacity="1.0" transform="rotate(0 321.4 1427.2)"/><ellipse cx="364.2" cy="1426.2" rx="11.9" ry="10.9" fill="#5b3cc2" opacity="1.0" transform="rotate(0 364.2 1426.2)"/><ellipse cx="500.4" cy="1429.2" rx="10.9" ry="10.9" fill="#5b3cc2" opacity="1.0" transform="rotate(0 500.4 1429.2)"/><ellipse cx="258.7" cy="1440.1" rx="8.0" ry="8.0" fill="#5b3cc2" opacity="1.0" transform="rotate(0 258.7 1440.1)"/><ellipse cx="275.7" cy="1438.1" rx="7.0" ry="7.0" fill="#5b3cc2" opacity="1.0" transform="rotate(0 275.7 1438.1)"/><ellipse cx="277.6" cy="1455.0" rx="8.0" ry="7.0" fill="#5b3cc2" opacity="1.0" transform="rotate(0 277.6 1455.0)"/><ellipse cx="309.5" cy="1461.0" rx="10.9" ry="9.0" fill="#5b3cc2" opacity="1.0" transform="rotate(0 309.5 1461.0)"/><ellipse cx="265.7" cy="1474.9" rx="8.0" ry="8.0" fill="#5b3cc2" opacity="1.0" transform="rotate(0 265.7 1474.9)"/><ellipse cx="544.2" cy="1462.0" rx="9.0" ry="8.0" fill="#5b3cc2" opacity="1.0" transform="rotate(0 544.2 1462.0)"/><ellipse cx="567.1" cy="1456.0" rx="8.0" ry="8.0" fill="#5b3cc2" opacity="1.0" transform="rotate(0 567.1 1456.0)"/><ellipse cx="480.5" cy="1471.9" rx="11.9" ry="9.9" fill="#5b3cc2" opacity="1.0" transform="rotate(20 480.5 1471.9)"/><ellipse cx="392.0" cy="1486.8" rx="9.0" ry="12.9" fill="#5b3cc2" opacity="1.0" transform="rotate(30 392.0 1486.8)"/><ellipse cx="503.4" cy="1496.8" rx="11.9" ry="9.0" fill="#5b3cc2" opacity="1.0" transform="rotate(10 503.4 1496.8)"/><ellipse cx="349.3" cy="1512.7" rx="7.0" ry="12.9" fill="#5b3cc2" opacity="1.0" transform="rotate(-20 349.3 1512.7)"/><ellipse cx="326.4" cy="1538.6" rx="9.0" ry="14.9" fill="#5b3cc2" opacity="1.0" transform="rotate(-20 326.4 1538.6)"/><ellipse cx="471.6" cy="1566.4" rx="9.0" ry="9.9" fill="#5b3cc2" opacity="1.0" transform="rotate(0 471.6 1566.4)"/><ellipse cx="478.6" cy="1594.3" rx="9.0" ry="9.0" fill="#5b3cc2" opacity="1.0" transform="rotate(0 478.6 1594.3)"/><ellipse cx="422.9" cy="1630.1" rx="4.0" ry="3.0" fill="#5b3cc2" opacity="1.0" transform="rotate(0 422.9 1630.1)"/></g>
<text x="547.5" y="1614.0" font-family='"Liberation Sans", sans-serif' font-size="11.5" font-weight="bold" text-anchor="middle" fill="#fff" >10 µm</text>
<line x1="533.5" y1="1621.0" x2="561.5" y2="1621.0" stroke="#fff" stroke-width="2.6" />
</g>
<clipPath id="cD4"><rect x="670.3" y="1290.3" width="341.4" height="341.7"/></clipPath>
<g clip-path="url(#cD4)">
<rect x="670.3" y="1290.3" width="341.4" height="341.7" fill="#030305" stroke="none" stroke-width="0" />
<rect x="670.3" y="1290.3" width="341.4" height="341.7" fill="#000" stroke="none" stroke-width="0" filter="url(#nzDark)" opacity="0.9"/>
<g filter="url(#b8)"><ellipse cx="749.5" cy="1375.4" rx="49.7" ry="27.8" fill="#7a3010" opacity="0.9" transform="rotate(-35 749.5 1375.4)"/><ellipse cx="731.6" cy="1455.0" rx="35.8" ry="31.8" fill="#cc6c1e" opacity="0.9" transform="rotate(0 731.6 1455.0)"/><ellipse cx="793.2" cy="1445.1" rx="27.8" ry="25.9" fill="#d07420" opacity="0.9" transform="rotate(0 793.2 1445.1)"/><ellipse cx="791.2" cy="1490.8" rx="25.9" ry="21.9" fill="#b05a18" opacity="0.9" transform="rotate(0 791.2 1490.8)"/><ellipse cx="888.7" cy="1431.1" rx="65.6" ry="35.8" fill="#55200a" opacity="0.9" transform="rotate(-10 888.7 1431.1)"/><ellipse cx="888.7" cy="1512.7" rx="73.6" ry="39.8" fill="#6a2a0c" opacity="0.9" transform="rotate(5 888.7 1512.7)"/><ellipse cx="751.5" cy="1548.5" rx="29.8" ry="29.8" fill="#c8681c" opacity="0.9" transform="rotate(0 751.5 1548.5)"/><ellipse cx="994.2" cy="1429.2" rx="25.9" ry="69.6" fill="#5e240a" opacity="0.9" transform="rotate(0 994.2 1429.2)"/><ellipse cx="958.3" cy="1608.2" rx="19.9" ry="25.9" fill="#6a2a0c" opacity="0.9" transform="rotate(0 958.3 1608.2)"/></g>
<g filter="url(#b3)"><ellipse cx="748.5" cy="1379.4" rx="24.9" ry="15.9" fill="#5a3cc0" opacity="1.0" transform="rotate(-30 748.5 1379.4)"/><ellipse cx="739.5" cy="1457.0" rx="18.9" ry="19.9" fill="#5a3cc0" opacity="1.0" transform="rotate(0 739.5 1457.0)"/><ellipse cx="783.3" cy="1447.1" rx="16.9" ry="17.9" fill="#5a3cc0" opacity="1.0" transform="rotate(0 783.3 1447.1)"/><ellipse cx="789.3" cy="1490.8" rx="19.9" ry="16.9" fill="#5a3cc0" opacity="1.0" transform="rotate(0 789.3 1490.8)"/><ellipse cx="902.6" cy="1423.2" rx="21.9" ry="19.9" fill="#5a3cc0" opacity="1.0" transform="rotate(0 902.6 1423.2)"/><ellipse cx="870.8" cy="1508.7" rx="26.9" ry="20.9" fill="#5a3cc0" opacity="1.0" transform="rotate(0 870.8 1508.7)"/><ellipse cx="759.4" cy="1544.5" rx="18.9" ry="21.9" fill="#5a3cc0" opacity="1.0" transform="rotate(-30 759.4 1544.5)"/><ellipse cx="1000.1" cy="1417.2" rx="16.9" ry="25.9" fill="#5a3cc0" opacity="1.0" transform="rotate(0 1000.1 1417.2)"/><ellipse cx="964.3" cy="1626.1" rx="11.9" ry="8.0" fill="#5a3cc0" opacity="1.0" transform="rotate(0 964.3 1626.1)"/></g>
<text x="985.2" y="1614.0" font-family='"Liberation Sans", sans-serif' font-size="11.5" font-weight="bold" text-anchor="middle" fill="#fff" >5 µm</text>
<line x1="969.7" y1="1621.0" x2="1000.7" y2="1621.0" stroke="#fff" stroke-width="2.6" />
</g>
<rect x="267.5" y="960.7" width="134.0" height="134.0" fill="none" stroke="#d42a2a" stroke-width="2" />
<line x1="401.5" y1="960.7" x2="670.0" y2="927.0" stroke="#d42a2a" stroke-width="2.4" stroke-dasharray="22 16"/>
<line x1="401.5" y1="1094.7" x2="670.0" y2="1264.5" stroke="#d42a2a" stroke-width="2.4" stroke-dasharray="22 16"/>
<rect x="235.0" y="1376.0" width="134.0" height="133.0" fill="none" stroke="#d42a2a" stroke-width="2" />
<line x1="369.0" y1="1376.0" x2="670.0" y2="1291.5" stroke="#d42a2a" stroke-width="2.4" stroke-dasharray="22 16"/>
<line x1="369.0" y1="1509.0" x2="670.0" y2="1631.0" stroke="#d42a2a" stroke-width="2.4" stroke-dasharray="22 16"/>
<text x="257" y="892" font-family='"Liberation Sans", sans-serif' font-size="37" font-weight="bold"><tspan fill="#d9262e">E-cadherin</tspan><tspan fill="#111">/</tspan><tspan fill="#3b3aa8">DAPI</tspan></text>
<text x="843.0" y="892.0" font-family='"Liberation Sans", sans-serif' font-size="37.5" font-weight="bold" text-anchor="middle" fill="#000" >Zoom</text>
<text x="208.5" y="1093.0" font-family='"Liberation Sans", sans-serif' font-size="35" font-weight="bold" text-anchor="end" fill="#000" >NC</text>
<text x="212.5" y="1471.5" font-family='"Liberation Sans", sans-serif' font-size="37" font-weight="bold" text-anchor="end" fill="#000" >OE-Beclin 2</text>
<rect x="1232.0" y="1358.0" width="84.0" height="101.6" fill="#bdcfe8" stroke="none" stroke-width="0" />
<path d="M1234.9 1459.6L1234.9 1360.9L1313.1 1360.9L1313.1 1459.6" fill="none" stroke="#1f4a8e" stroke-width="5.8" stroke-linejoin="miter"/>
<rect x="1358.6" y="1136.4" width="84.1" height="323.2" fill="#d0c4e0" stroke="none" stroke-width="0" />
<path d="M1361.5 1459.6L1361.5 1139.3L1439.8 1139.3L1439.8 1459.6" fill="none" stroke="#472c86" stroke-width="5.8" stroke-linejoin="miter"/>
<line x1="1189.7" y1="1012.0" x2="1189.7" y2="1461.6" stroke="#000" stroke-width="4" />
<line x1="1187.7" y1="1459.6" x2="1488.0" y2="1459.6" stroke="#000" stroke-width="4" />
<line x1="1170.7" y1="1014.0" x2="1189.7" y2="1014.0" stroke="#000" stroke-width="4" />
<text x="1164.7" y="1025.5" font-family='"Liberation Sans", sans-serif' font-size="33" font-weight="bold" text-anchor="end" fill="#000" >4</text>
<line x1="1170.7" y1="1125.4" x2="1189.7" y2="1125.4" stroke="#000" stroke-width="4" />
<text x="1164.7" y="1136.9" font-family='"Liberation Sans", sans-serif' font-size="33" font-weight="bold" text-anchor="end" fill="#000" >3</text>
<line x1="1170.7" y1="1236.8" x2="1189.7" y2="1236.8" stroke="#000" stroke-width="4" />
<text x="1164.7" y="1248.3" font-family='"Liberation Sans", sans-serif' font-size="33" font-weight="bold" text-anchor="end" fill="#000" >2</text>
<line x1="1170.7" y1="1348.2" x2="1189.7" y2="1348.2" stroke="#000" stroke-width="4" />
<text x="1164.7" y="1359.7" font-family='"Liberation Sans", sans-serif' font-size="33" font-weight="bold" text-anchor="end" fill="#000" >1</text>
<line x1="1170.7" y1="1459.6" x2="1189.7" y2="1459.6" stroke="#000" stroke-width="4" />
<text x="1164.7" y="1471.1" font-family='"Liberation Sans", sans-serif' font-size="33" font-weight="bold" text-anchor="end" fill="#000" >0</text>
<line x1="1274.0" y1="1348.6" x2="1274.0" y2="1359.0" stroke="#1f4a8e" stroke-width="2" />
<line x1="1253.0" y1="1348.6" x2="1295.0" y2="1348.6" stroke="#1f4a8e" stroke-width="2" />
<line x1="1400.7" y1="1118.9" x2="1400.7" y2="1137.0" stroke="#472c86" stroke-width="2" />
<line x1="1379.7" y1="1118.9" x2="1421.7" y2="1118.9" stroke="#472c86" stroke-width="2" />
<polyline points="1274.0,1321.8 1274.0,1022.0 1400.7,1022.0 1400.7,1107.0" fill="none" stroke="#000" stroke-width="3.4" stroke-linejoin="miter"/>
<path d="M1311.2 984.3L1311.2 999.7M1304.6 988.2L1317.8 995.8M1317.8 988.2L1304.6 995.8M1337.5 984.3L1337.5 999.7M1330.9 988.2L1344.1 995.8M1344.1 988.2L1330.9 995.8M1363.8 984.3L1363.8 999.7M1357.2 988.2L1370.4 995.8M1370.4 988.2L1357.2 995.8" stroke="#000" stroke-width="5.7" stroke-linecap="round" fill="none"/>
<line x1="1273.0" y1="1459.6" x2="1273.0" y2="1478.0" stroke="#000" stroke-width="4" />
<line x1="1400.7" y1="1459.6" x2="1400.7" y2="1478.0" stroke="#000" stroke-width="4" />
<text x="1285.0" y="1503.0" font-family='"Liberation Sans", sans-serif' font-size="34" font-weight="bold" text-anchor="end" fill="#000" transform="rotate(-45 1285.0 1503.0)" >NC</text>
<text x="1413.0" y="1503.0" font-family='"Liberation Sans", sans-serif' font-size="34" font-weight="bold" text-anchor="end" fill="#000" transform="rotate(-45 1413.0 1503.0)" >OE-Beclin 2</text>
<text x="1340.0" y="933.0" font-family='"Liberation Sans", sans-serif' font-size="37" font-weight="bold" text-anchor="middle" fill="#000" >E-cadherin</text>
<text x="1124.0" y="1236.6" font-family='"Liberation Sans", sans-serif' font-size="37" font-weight="bold" text-anchor="middle" fill="#000" transform="rotate(-90 1124.0 1236.6)" >Relative fluorescence intensity</text>
<text x="1669.0" y="832.0" font-family='"Liberation Serif", serif' font-size="69" font-weight="normal" text-anchor="start" fill="#000" >(E)</text>
<clipPath id="cE1"><rect x="1822" y="929.7" width="346" height="345.8"/></clipPath>
<g clip-path="url(#cE1)">
<rect x="1822.0" y="929.7" width="346.0" height="345.8" fill="#06070d" stroke="none" stroke-width="0" />
<rect x="1822.0" y="929.7" width="346.0" height="345.8" fill="#000" stroke="none" stroke-width="0" filter="url(#nzDarkG)" opacity="0.9"/>
<g filter="url(#b3)"><ellipse cx="1969.8" cy="937.1" rx="13.7" ry="17.1" fill="#17643a" opacity="0.5" transform="rotate(0 1969.8 937.1)"/><ellipse cx="1830.0" cy="974.3" rx="10.3" ry="17.1" fill="#17643a" opacity="0.5" transform="rotate(0 1830.0 974.3)"/><ellipse cx="1959.7" cy="985.4" rx="17.1" ry="25.6" fill="#17643a" opacity="0.5" transform="rotate(0 1959.7 985.4)"/><ellipse cx="1953.7" cy="1015.6" rx="12.0" ry="13.7" fill="#17643a" opacity="0.5" transform="rotate(0 1953.7 1015.6)"/><ellipse cx="1984.9" cy="1009.5" rx="13.7" ry="15.4" fill="#17643a" opacity="0.5" transform="rotate(0 1984.9 1009.5)"/><ellipse cx="2034.1" cy="1041.7" rx="37.6" ry="18.8" fill="#17643a" opacity="0.5" transform="rotate(-35 2034.1 1041.7)"/><ellipse cx="1995.9" cy="1049.7" rx="12.0" ry="12.0" fill="#17643a" opacity="0.5" transform="rotate(0 1995.9 1049.7)"/><ellipse cx="2131.7" cy="1018.6" rx="7.7" ry="34.2" fill="#17643a" opacity="0.5" transform="rotate(5 2131.7 1018.6)"/><ellipse cx="1865.2" cy="1080.9" rx="12.0" ry="42.7" fill="#17643a" opacity="0.5" transform="rotate(5 1865.2 1080.9)"/><ellipse cx="1913.5" cy="1078.9" rx="37.6" ry="15.4" fill="#17643a" opacity="0.5" transform="rotate(-20 1913.5 1078.9)"/><ellipse cx="2067.3" cy="1081.9" rx="22.2" ry="20.5" fill="#17643a" opacity="0.5" transform="rotate(0 2067.3 1081.9)"/><ellipse cx="2109.6" cy="1076.9" rx="17.1" ry="15.4" fill="#17643a" opacity="0.5" transform="rotate(0 2109.6 1076.9)"/><ellipse cx="1999.0" cy="1100.0" rx="42.7" ry="10.3" fill="#17643a" opacity="0.5" transform="rotate(30 1999.0 1100.0)"/><ellipse cx="2007.0" cy="1121.1" rx="20.5" ry="10.3" fill="#17643a" opacity="0.5" transform="rotate(30 2007.0 1121.1)"/><ellipse cx="2068.3" cy="1122.1" rx="15.4" ry="12.0" fill="#17643a" opacity="0.5" transform="rotate(0 2068.3 1122.1)"/><ellipse cx="2046.2" cy="1137.2" rx="42.7" ry="17.1" fill="#17643a" opacity="0.5" transform="rotate(25 2046.2 1137.2)"/><ellipse cx="2008.0" cy="1183.5" rx="17.1" ry="20.5" fill="#17643a" opacity="0.5" transform="rotate(0 2008.0 1183.5)"/><ellipse cx="1927.6" cy="1196.5" rx="22.2" ry="15.4" fill="#17643a" opacity="0.5" transform="rotate(0 1927.6 1196.5)"/><ellipse cx="1983.9" cy="1201.6" rx="12.0" ry="20.5" fill="#17643a" opacity="0.5" transform="rotate(0 1983.9 1201.6)"/><ellipse cx="2028.1" cy="1209.6" rx="17.1" ry="18.8" fill="#17643a" opacity="0.5" transform="rotate(0 2028.1 1209.6)"/><ellipse cx="1960.7" cy="1234.7" rx="20.5" ry="17.1" fill="#17643a" opacity="0.5" transform="rotate(0 1960.7 1234.7)"/><ellipse cx="2005.0" cy="1228.7" rx="13.7" ry="27.3" fill="#17643a" opacity="0.5" transform="rotate(0 2005.0 1228.7)"/></g>
<g filter="url(#b1)"><ellipse cx="1969.8" cy="937.1" rx="11.1" ry="9.0" fill="#2f86e0" opacity="1.0" transform="rotate(0 1969.8 937.1)"/><ellipse cx="1830.0" cy="974.3" rx="9.0" ry="11.1" fill="#2f86e0" opacity="1.0" transform="rotate(0 1830.0 974.3)"/><ellipse cx="1959.7" cy="985.4" rx="9.0" ry="11.1" fill="#2f86e0" opacity="1.0" transform="rotate(-20 1959.7 985.4)"/><ellipse cx="1953.7" cy="1015.6" rx="10.1" ry="11.1" fill="#2f86e0" opacity="1.0" transform="rotate(0 1953.7 1015.6)"/><ellipse cx="1984.9" cy="1009.5" rx="9.0" ry="12.1" fill="#3ac0e4" opacity="1.0" transform="rotate(10 1984.9 1009.5)"/><ellipse cx="2034.1" cy="1041.7" rx="13.1" ry="12.1" fill="#3ac0e4" opacity="1.0" transform="rotate(0 2034.1 1041.7)"/><ellipse cx="1995.9" cy="1049.7" rx="9.0" ry="10.1" fill="#2f86e0" opacity="1.0" transform="rotate(0 1995.9 1049.7)"/><ellipse cx="2131.7" cy="1018.6" rx="7.0" ry="12.1" fill="#3ac0e4" opacity="1.0" transform="rotate(0 2131.7 1018.6)"/><ellipse cx="1865.2" cy="1080.9" rx="8.0" ry="15.1" fill="#2f86e0" opacity="1.0" transform="rotate(0 1865.2 1080.9)"/><ellipse cx="1913.5" cy="1078.9" rx="15.1" ry="10.1" fill="#2f86e0" opacity="1.0" transform="rotate(-25 1913.5 1078.9)"/><ellipse cx="2067.3" cy="1081.9" rx="12.1" ry="12.1" fill="#3ac0e4" opacity="1.0" transform="rotate(0 2067.3 1081.9)"/><ellipse cx="2109.6" cy="1076.9" rx="11.1" ry="9.0" fill="#2f86e0" opacity="1.0" transform="rotate(0 2109.6 1076.9)"/><ellipse cx="1999.0" cy="1100.0" rx="12.1" ry="7.0" fill="#2f86e0" opacity="1.0" transform="rotate(25 1999.0 1100.0)"/><ellipse cx="2007.0" cy="1121.1" rx="10.1" ry="8.0" fill="#2f86e0" opacity="1.0" transform="rotate(25 2007.0 1121.1)"/><ellipse cx="2068.3" cy="1122.1" rx="10.1" ry="9.0" fill="#2f86e0" opacity="1.0" transform="rotate(0 2068.3 1122.1)"/><ellipse cx="2046.2" cy="1137.2" rx="11.1" ry="10.1" fill="#2f86e0" opacity="1.0" transform="rotate(0 2046.2 1137.2)"/><ellipse cx="2008.0" cy="1183.5" rx="9.0" ry="11.1" fill="#3ac0e4" opacity="1.0" transform="rotate(0 2008.0 1183.5)"/><ellipse cx="1927.6" cy="1196.5" rx="11.1" ry="10.1" fill="#2f86e0" opacity="1.0" transform="rotate(0 1927.6 1196.5)"/><ellipse cx="1983.9" cy="1201.6" rx="8.0" ry="11.1" fill="#2f86e0" opacity="1.0" transform="rotate(0 1983.9 1201.6)"/><ellipse cx="2028.1" cy="1209.6" rx="9.0" ry="10.1" fill="#2f86e0" opacity="1.0" transform="rotate(0 2028.1 1209.6)"/><ellipse cx="1960.7" cy="1234.7" rx="13.1" ry="11.1" fill="#2f86e0" opacity="1.0" transform="rotate(0 1960.7 1234.7)"/><ellipse cx="2005.0" cy="1228.7" rx="8.0" ry="12.1" fill="#2f86e0" opacity="1.0" transform="rotate(0 2005.0 1228.7)"/></g>
<g filter="url(#b1)"><ellipse cx="1845.1" cy="943.2" rx="2.2" ry="2.2" fill="#3fe070" opacity="1.0" transform="rotate(0 1845.1 943.2)"/><ellipse cx="2148.8" cy="962.3" rx="2.2" ry="2.2" fill="#3fe070" opacity="1.0" transform="rotate(0 2148.8 962.3)"/><ellipse cx="2135.7" cy="1040.7" rx="2.2" ry="2.2" fill="#3fe070" opacity="1.0" transform="rotate(0 2135.7 1040.7)"/><ellipse cx="1924.6" cy="1147.3" rx="2.2" ry="2.2" fill="#3fe070" opacity="1.0" transform="rotate(0 1924.6 1147.3)"/><ellipse cx="1988.9" cy="1145.3" rx="2.2" ry="2.2" fill="#3fe070" opacity="1.0" transform="rotate(0 1988.9 1145.3)"/><ellipse cx="1845.1" cy="1063.8" rx="2.2" ry="2.2" fill="#3fe070" opacity="1.0" transform="rotate(0 1845.1 1063.8)"/><ellipse cx="1977.8" cy="1241.8" rx="2.2" ry="2.2" fill="#3fe070" opacity="1.0" transform="rotate(0 1977.8 1241.8)"/></g>
<text x="2140.5" y="1257.5" font-family='"Liberation Sans", sans-serif' font-size="11.5" font-weight="bold" text-anchor="middle" fill="#fff" >10 µm</text>
<line x1="2124.0" y1="1264.5" x2="2157.0" y2="1264.5" stroke="#fff" stroke-width="2.6" />
</g>
<clipPath id="cE2"><rect x="2259.7" y="929" width="345.8" height="346"/></clipPath>
<g clip-path="url(#cE2)">
<rect x="2259.7" y="929.0" width="345.8" height="346.0" fill="#06070d" stroke="none" stroke-width="0" />
<rect x="2259.7" y="929.0" width="345.8" height="346.0" fill="#000" stroke="none" stroke-width="0" filter="url(#nzDarkG)" opacity="0.9"/>
<g filter="url(#b8)" opacity="0.85"><ellipse cx="2431.0" cy="1050.7" rx="191.0" ry="34.2" fill="#1a7040" opacity="0.8" transform="rotate(28 2431.0 1050.7)"/><ellipse cx="2521.5" cy="1125.1" rx="84.5" ry="30.2" fill="#1d7a44" opacity="0.8" transform="rotate(20 2521.5 1125.1)"/><ellipse cx="2547.7" cy="980.3" rx="66.4" ry="60.3" fill="#176238" opacity="0.75" transform="rotate(30 2547.7 980.3)"/><ellipse cx="2581.8" cy="1060.7" rx="40.2" ry="76.4" fill="#14562f" opacity="0.6" transform="rotate(-20 2581.8 1060.7)"/><ellipse cx="2380.8" cy="1221.6" rx="60.3" ry="60.3" fill="#18683a" opacity="0.75" transform="rotate(0 2380.8 1221.6)"/><ellipse cx="2431.0" cy="1265.8" rx="84.5" ry="22.1" fill="#166036" opacity="0.7" transform="rotate(10 2431.0 1265.8)"/><ellipse cx="2310.4" cy="1251.7" rx="40.2" ry="40.2" fill="#14562f" opacity="0.6" transform="rotate(0 2310.4 1251.7)"/></g>
<g filter="url(#b3)"><ellipse cx="2535.6" cy="964.2" rx="30.2" ry="29.2" fill="#38b4e6" opacity="1.0" transform="rotate(0 2535.6 964.2)"/><ellipse cx="2358.6" cy="1011.4" rx="30.2" ry="18.1" fill="#3a8ee4" opacity="1.0" transform="rotate(25 2358.6 1011.4)"/><ellipse cx="2381.8" cy="1064.7" rx="26.1" ry="19.1" fill="#3596e6" opacity="1.0" transform="rotate(30 2381.8 1064.7)"/><ellipse cx="2537.6" cy="1067.7" rx="27.1" ry="20.1" fill="#3c84e2" opacity="1.0" transform="rotate(0 2537.6 1067.7)"/><ellipse cx="2481.3" cy="1100.9" rx="28.2" ry="25.1" fill="#3690e4" opacity="1.0" transform="rotate(0 2481.3 1100.9)"/><ellipse cx="2384.8" cy="1215.5" rx="23.1" ry="27.1" fill="#35b0e4" opacity="1.0" transform="rotate(0 2384.8 1215.5)"/><ellipse cx="2322.4" cy="1253.8" rx="20.1" ry="26.1" fill="#3a90e6" opacity="1.0" transform="rotate(0 2322.4 1253.8)"/><ellipse cx="2435.0" cy="1265.8" rx="22.1" ry="12.1" fill="#36a0e0" opacity="1.0" transform="rotate(0 2435.0 1265.8)"/></g>
<g filter="url(#b1)"><ellipse cx="2336.5" cy="1121.0" rx="6.0" ry="6.0" fill="#5fe878" opacity="1.0" transform="rotate(0 2336.5 1121.0)"/><ellipse cx="2458.2" cy="1046.6" rx="4.4" ry="4.4" fill="#5fe878" opacity="1.0" transform="rotate(0 2458.2 1046.6)"/><ellipse cx="2424.0" cy="1075.8" rx="3.0" ry="3.0" fill="#5fe878" opacity="1.0" transform="rotate(0 2424.0 1075.8)"/><ellipse cx="2334.5" cy="947.1" rx="3.0" ry="3.0" fill="#5fe878" opacity="1.0" transform="rotate(0 2334.5 947.1)"/><ellipse cx="2474.3" cy="1047.6" rx="2.8" ry="2.8" fill="#5fe878" opacity="1.0" transform="rotate(0 2474.3 1047.6)"/></g>
<text x="2578.0" y="1257.0" font-family='"Liberation Sans", sans-serif' font-size="11.5" font-weight="bold" text-anchor="middle" fill="#fff" >5 µm</text>
<line x1="2561.5" y1="1264.0" x2="2594.5" y2="1264.0" stroke="#fff" stroke-width="2.6" />
</g>
<clipPath id="cE3"><rect x="1822" y="1291" width="345.5" height="346"/></clipPath>
<g clip-path="url(#cE3)">
<rect x="1822.0" y="1291.0" width="345.5" height="346.0" fill="#06070d" stroke="none" stroke-width="0" />
<rect x="1822.0" y="1291.0" width="345.5" height="346.0" fill="#000" stroke="none" stroke-width="0" filter="url(#nzDarkG)" opacity="0.9"/>
<g filter="url(#b5)"><ellipse cx="2133.7" cy="1313.1" rx="21.1" ry="21.7" fill="#115236" opacity="0.55" transform="rotate(0 2133.7 1313.1)"/><ellipse cx="2147.8" cy="1329.2" rx="21.1" ry="19.3" fill="#115236" opacity="0.55" transform="rotate(0 2147.8 1329.2)"/><ellipse cx="2091.5" cy="1393.6" rx="23.2" ry="33.8" fill="#115236" opacity="0.55" transform="rotate(0 2091.5 1393.6)"/><ellipse cx="2127.7" cy="1391.5" rx="21.1" ry="31.4" fill="#115236" opacity="0.55" transform="rotate(0 2127.7 1391.5)"/><ellipse cx="2105.5" cy="1457.9" rx="27.4" ry="33.8" fill="#115236" opacity="0.55" transform="rotate(0 2105.5 1457.9)"/><ellipse cx="2151.8" cy="1455.9" rx="21.1" ry="31.4" fill="#115236" opacity="0.55" transform="rotate(0 2151.8 1455.9)"/><ellipse cx="1939.6" cy="1468.0" rx="27.4" ry="31.4" fill="#115236" opacity="0.55" transform="rotate(0 1939.6 1468.0)"/><ellipse cx="1907.5" cy="1501.1" rx="16.0" ry="19.3" fill="#115236" opacity="0.55" transform="rotate(0 1907.5 1501.1)"/><ellipse cx="1897.4" cy="1526.3" rx="19.0" ry="24.1" fill="#115236" opacity="0.55" transform="rotate(0 1897.4 1526.3)"/><ellipse cx="1923.5" cy="1533.3" rx="19.0" ry="31.4" fill="#115236" opacity="0.55" transform="rotate(0 1923.5 1533.3)"/><ellipse cx="1960.7" cy="1537.3" rx="16.9" ry="24.1" fill="#115236" opacity="0.55" transform="rotate(0 1960.7 1537.3)"/><ellipse cx="1984.9" cy="1545.4" rx="23.2" ry="19.3" fill="#115236" opacity="0.55" transform="rotate(0 1984.9 1545.4)"/><ellipse cx="2085.4" cy="1522.2" rx="29.6" ry="29.0" fill="#115236" opacity="0.55" transform="rotate(0 2085.4 1522.2)"/><ellipse cx="1944.7" cy="1568.5" rx="19.0" ry="24.1" fill="#115236" opacity="0.55" transform="rotate(0 1944.7 1568.5)"/><ellipse cx="1954.7" cy="1579.6" rx="21.1" ry="19.3" fill="#115236" opacity="0.55" transform="rotate(0 1954.7 1579.6)"/><ellipse cx="1904.4" cy="1586.6" rx="25.3" ry="26.5" fill="#115236" opacity="0.55" transform="rotate(0 1904.4 1586.6)"/><ellipse cx="2013.0" cy="1593.6" rx="25.3" ry="24.1" fill="#115236" opacity="0.55" transform="rotate(0 2013.0 1593.6)"/><ellipse cx="2096.5" cy="1592.6" rx="25.3" ry="36.2" fill="#115236" opacity="0.55" transform="rotate(0 2096.5 1592.6)"/></g>
<g filter="url(#b1)"><ellipse cx="2133.7" cy="1313.1" rx="10.1" ry="9.0" fill="#3468de" opacity="1.0" transform="rotate(0 2133.7 1313.1)"/><ellipse cx="2147.8" cy="1329.2" rx="10.1" ry="8.0" fill="#3468de" opacity="1.0" transform="rotate(0 2147.8 1329.2)"/><ellipse cx="2091.5" cy="1393.6" rx="11.1" ry="14.1" fill="#3468de" opacity="1.0" transform="rotate(0 2091.5 1393.6)"/><ellipse cx="2127.7" cy="1391.5" rx="10.1" ry="13.1" fill="#3468de" opacity="1.0" transform="rotate(0 2127.7 1391.5)"/><ellipse cx="2105.5" cy="1457.9" rx="13.1" ry="14.1" fill="#3468de" opacity="1.0" transform="rotate(0 2105.5 1457.9)"/><ellipse cx="2151.8" cy="1455.9" rx="10.1" ry="13.1" fill="#3468de" opacity="1.0" transform="rotate(0 2151.8 1455.9)"/><ellipse cx="1939.6" cy="1468.0" rx="13.1" ry="13.1" fill="#3468de" opacity="1.0" transform="rotate(0 1939.6 1468.0)"/><ellipse cx="1907.5" cy="1501.1" rx="7.6" ry="8.0" fill="#3468de" opacity="1.0" transform="rotate(0 1907.5 1501.1)"/><ellipse cx="1897.4" cy="1526.3" rx="9.0" ry="10.1" fill="#3468de" opacity="1.0" transform="rotate(0 1897.4 1526.3)"/><ellipse cx="1923.5" cy="1533.3" rx="9.0" ry="13.1" fill="#3468de" opacity="1.0" transform="rotate(0 1923.5 1533.3)"/><ellipse cx="1960.7" cy="1537.3" rx="8.0" ry="10.1" fill="#3468de" opacity="1.0" transform="rotate(0 1960.7 1537.3)"/><ellipse cx="1984.9" cy="1545.4" rx="11.1" ry="8.0" fill="#3468de" opacity="1.0" transform="rotate(0 1984.9 1545.4)"/><ellipse cx="2085.4" cy="1522.2" rx="14.1" ry="12.1" fill="#3468de" opacity="1.0" transform="rotate(0 2085.4 1522.2)"/><ellipse cx="1944.7" cy="1568.5" rx="9.0" ry="10.1" fill="#3468de" opacity="1.0" transform="rotate(0 1944.7 1568.5)"/><ellipse cx="1954.7" cy="1579.6" rx="10.1" ry="8.0" fill="#3468de" opacity="1.0" transform="rotate(0 1954.7 1579.6)"/><ellipse cx="1904.4" cy="1586.6" rx="12.1" ry="11.1" fill="#3468de" opacity="1.0" transform="rotate(0 1904.4 1586.6)"/><ellipse cx="2013.0" cy="1593.6" rx="12.1" ry="10.1" fill="#3468de" opacity="1.0" transform="rotate(0 2013.0 1593.6)"/><ellipse cx="2096.5" cy="1592.6" rx="12.1" ry="15.1" fill="#3468de" opacity="1.0" transform="rotate(0 2096.5 1592.6)"/></g>
<text x="2140.0" y="1619.0" font-family='"Liberation Sans", sans-serif' font-size="11.5" font-weight="bold" text-anchor="middle" fill="#fff" >10 µm</text>
<line x1="2123.5" y1="1626.0" x2="2156.5" y2="1626.0" stroke="#fff" stroke-width="2.6" />
</g>
<clipPath id="cE4"><rect x="2259.7" y="1291.7" width="345.8" height="345.3"/></clipPath>
<g clip-path="url(#cE4)">
<rect x="2259.7" y="1291.7" width="345.8" height="345.3" fill="#06070d" stroke="none" stroke-width="0" />
<rect x="2259.7" y="1291.7" width="345.8" height="345.3" fill="#000" stroke="none" stroke-width="0" filter="url(#nzDarkG)" opacity="0.9"/>
<g filter="url(#b12)"><ellipse cx="2431.0" cy="1422.8" rx="56.3" ry="140.8" fill="#0f3e28" opacity="0.7" transform="rotate(0 2431.0 1422.8)"/><ellipse cx="2350.6" cy="1503.2" rx="66.4" ry="120.7" fill="#0e3a26" opacity="0.6" transform="rotate(10 2350.6 1503.2)"/><ellipse cx="2511.5" cy="1483.1" rx="80.4" ry="44.2" fill="#14522f" opacity="0.7" transform="rotate(10 2511.5 1483.1)"/><ellipse cx="2451.1" cy="1563.6" rx="60.3" ry="50.3" fill="#0f4029" opacity="0.6" transform="rotate(0 2451.1 1563.6)"/><ellipse cx="2340.5" cy="1603.8" rx="46.2" ry="46.2" fill="#155a32" opacity="0.6" transform="rotate(0 2340.5 1603.8)"/></g>
<g filter="url(#b3)"><ellipse cx="2431.0" cy="1301.2" rx="30.2" ry="15.1" fill="#3a78e4" opacity="1.0" transform="rotate(0 2431.0 1301.2)"/><ellipse cx="2347.6" cy="1369.5" rx="18.1" ry="20.1" fill="#3f74e6" opacity="1.0" transform="rotate(0 2347.6 1369.5)"/><ellipse cx="2321.4" cy="1431.9" rx="21.1" ry="27.1" fill="#3a64e0" opacity="1.0" transform="rotate(0 2321.4 1431.9)"/><ellipse cx="2389.8" cy="1452.0" rx="23.1" ry="33.2" fill="#3c62de" opacity="1.0" transform="rotate(0 2389.8 1452.0)"/><ellipse cx="2484.3" cy="1462.0" rx="19.1" ry="25.1" fill="#38a4e6" opacity="1.0" transform="rotate(0 2484.3 1462.0)"/><ellipse cx="2546.6" cy="1483.1" rx="27.1" ry="19.1" fill="#3684e2" opacity="1.0" transform="rotate(-15 2546.6 1483.1)"/><ellipse cx="2443.1" cy="1544.5" rx="21.1" ry="25.1" fill="#3a60de" opacity="1.0" transform="rotate(0 2443.1 1544.5)"/><ellipse cx="2468.2" cy="1569.6" rx="26.1" ry="20.1" fill="#3a64e0" opacity="1.0" transform="rotate(0 2468.2 1569.6)"/><ellipse cx="2341.5" cy="1591.7" rx="31.2" ry="27.1" fill="#3a70e4" opacity="1.0" transform="rotate(-20 2341.5 1591.7)"/><ellipse cx="2597.9" cy="1599.8" rx="10.1" ry="22.1" fill="#3a8ce4" opacity="1.0" transform="rotate(0 2597.9 1599.8)"/></g>
<text x="2562.0" y="1619.0" font-family='"Liberation Sans", sans-serif' font-size="11.5" font-weight="bold" text-anchor="middle" fill="#fff" >5 µm</text>
<line x1="2545.5" y1="1626.0" x2="2578.5" y2="1626.0" stroke="#fff" stroke-width="2.6" />
</g>
<rect x="1952.0" y="1069.4" width="136.5" height="135.6" fill="none" stroke="#d42a2a" stroke-width="2" />
<line x1="2088.5" y1="1069.4" x2="2256.0" y2="939.0" stroke="#d42a2a" stroke-width="2.4" stroke-dasharray="22 16"/>
<line x1="2088.5" y1="1205.0" x2="2256.0" y2="1266.0" stroke="#d42a2a" stroke-width="2.4" stroke-dasharray="22 16"/>
<rect x="1872.3" y="1470.0" width="136.5" height="135.7" fill="none" stroke="#d42a2a" stroke-width="2" />
<line x1="2008.8" y1="1470.0" x2="2259.0" y2="1296.0" stroke="#d42a2a" stroke-width="2.4" stroke-dasharray="22 16"/>
<line x1="2008.8" y1="1605.7" x2="2259.0" y2="1633.0" stroke="#d42a2a" stroke-width="2.4" stroke-dasharray="22 16"/>
<text x="1893" y="896" font-family='"Liberation Sans", sans-serif' font-size="37" font-weight="bold"><tspan fill="#1a7a4a">MMP2</tspan><tspan fill="#111">/</tspan><tspan fill="#3b8ad8">DAPI</tspan></text>
<text x="2431.0" y="896.0" font-family='"Liberation Sans", sans-serif' font-size="38" font-weight="bold" text-anchor="middle" fill="#000" >Zoom</text>
<text x="1801.0" y="1123.0" font-family='"Liberation Sans", sans-serif' font-size="37" font-weight="bold" text-anchor="end" fill="#000" >NC</text>
<text x="1803.0" y="1480.0" font-family='"Liberation Sans", sans-serif' font-size="37" font-weight="bold" text-anchor="end" fill="#000" >OE-Beclin 2</text>
<rect x="2858.4" y="1124.4" width="85.4" height="327.6" fill="#bdcfe8" stroke="none" stroke-width="0" />
<path d="M2861.3 1452.0L2861.3 1127.3L2940.9 1127.3L2940.9 1452.0" fill="none" stroke="#1f4a8e" stroke-width="5.8" stroke-linejoin="miter"/>
<rect x="2986.7" y="1232.4" width="85.8" height="219.6" fill="#d0c4e0" stroke="none" stroke-width="0" />
<path d="M2989.6 1452.0L2989.6 1235.3L3069.6 1235.3L3069.6 1452.0" fill="none" stroke="#472c86" stroke-width="5.8" stroke-linejoin="miter"/>
<line x1="2816.0" y1="1000.0" x2="2816.0" y2="1454.0" stroke="#000" stroke-width="4" />
<line x1="2814.0" y1="1452.0" x2="3118.0" y2="1452.0" stroke="#000" stroke-width="4" />
<line x1="2797.0" y1="1001.7" x2="2816.0" y2="1001.7" stroke="#000" stroke-width="4" />
<text x="2791.0" y="1013.2" font-family='"Liberation Sans", sans-serif' font-size="33" font-weight="bold" text-anchor="end" fill="#000" >1.5</text>
<line x1="2797.0" y1="1151.8" x2="2816.0" y2="1151.8" stroke="#000" stroke-width="4" />
<text x="2791.0" y="1163.3" font-family='"Liberation Sans", sans-serif' font-size="33" font-weight="bold" text-anchor="end" fill="#000" >1.0</text>
<line x1="2797.0" y1="1302.0" x2="2816.0" y2="1302.0" stroke="#000" stroke-width="4" />
<text x="2791.0" y="1313.5" font-family='"Liberation Sans", sans-serif' font-size="33" font-weight="bold" text-anchor="end" fill="#000" >0.5</text>
<line x1="2797.0" y1="1452.0" x2="2816.0" y2="1452.0" stroke="#000" stroke-width="4" />
<text x="2791.0" y="1463.5" font-family='"Liberation Sans", sans-serif' font-size="33" font-weight="bold" text-anchor="end" fill="#000" >0.0</text>
<line x1="2901.0" y1="1096.0" x2="2901.0" y2="1125.0" stroke="#1f4a8e" stroke-width="2" />
<line x1="2880.0" y1="1096.0" x2="2922.0" y2="1096.0" stroke="#1f4a8e" stroke-width="2" />
<line x1="3029.6" y1="1219.5" x2="3029.6" y2="1233.0" stroke="#472c86" stroke-width="2" />
<line x1="3008.6" y1="1219.5" x2="3050.6" y2="1219.5" stroke="#472c86" stroke-width="2" />
<polyline points="2901.0,1068.6 2901.0,1042.0 3029.6,1042.0 3029.6,1191.0" fill="none" stroke="#000" stroke-width="3.4" stroke-linejoin="miter"/>
<path d="M2951.2 1005.8L2951.2 1021.2M2944.6 1009.7L2957.9 1017.3M2957.9 1009.7L2944.6 1017.3M2977.8 1005.8L2977.8 1021.2M2971.1 1009.7L2984.4 1017.3M2984.4 1009.7L2971.1 1017.3" stroke="#000" stroke-width="5.7" stroke-linecap="round" fill="none"/>
<line x1="2901.0" y1="1452.0" x2="2901.0" y2="1470.0" stroke="#000" stroke-width="4" />
<line x1="3029.6" y1="1452.0" x2="3029.6" y2="1470.0" stroke="#000" stroke-width="4" />
<text x="2913.0" y="1495.0" font-family='"Liberation Sans", sans-serif' font-size="34" font-weight="bold" text-anchor="end" fill="#000" transform="rotate(-45 2913.0 1495.0)" >NC</text>
<text x="3042.0" y="1495.0" font-family='"Liberation Sans", sans-serif' font-size="34" font-weight="bold" text-anchor="end" fill="#000" transform="rotate(-45 3042.0 1495.0)" >OE-Beclin 2</text>
<text x="2962.5" y="952.0" font-family='"Liberation Sans", sans-serif' font-size="36" font-weight="bold" text-anchor="middle" fill="#000" >MMP2</text>
<text x="2720.6" y="1226.5" font-family='"Liberation Sans", sans-serif' font-size="37.2" font-weight="bold" text-anchor="middle" fill="#000" transform="rotate(-90 2720.6 1226.5)" >Relative fluorescence intensity</text>
<text x="131.0" y="1783.0" font-family='"Liberation Serif", serif' font-size="69" font-weight="normal" text-anchor="start" fill="#000" >(F)</text>
<text x="663.0" y="1902.0" font-family='"Liberation Sans", sans-serif' font-size="54" font-weight="normal" text-anchor="middle" fill="#1a1a1a" stroke="#111" stroke-width="0.9">MDA-MB-231</text>
<line x1="461.0" y1="1932.0" x2="857.0" y2="1932.0" stroke="#111" stroke-width="3" />
<text x="467.0" y="2014.5" font-family='"Liberation Sans", sans-serif' font-size="53" font-weight="bold" text-anchor="start" fill="#111" stroke="#111" stroke-width="1.3">NC</text>
<text x="581.0" y="2015.0" font-family='"Liberation Sans", sans-serif' font-size="55" font-weight="bold" text-anchor="start" fill="#111" stroke="#111" stroke-width="1.3">OE-Beclin 2</text>
<text x="938.0" y="2019.0" font-family='"Liberation Sans", sans-serif' font-size="54" font-weight="normal" text-anchor="start" fill="#111" stroke="#111" stroke-width="0.9">kDa</text>
<linearGradient id="gF1" x1="0" y1="0" x2="1" y2="0"><stop offset="0" stop-color="#a39a96" stop-opacity="0.35"/><stop offset="0.5" stop-color="#c0b8b4" stop-opacity="0.1"/><stop offset="1" stop-color="#e6dedb" stop-opacity="0.35"/></linearGradient>
<linearGradient id="gF3" x1="0" y1="0" x2="0" y2="1"><stop offset="0" stop-color="#8f8783" stop-opacity="0.45"/><stop offset="0.4" stop-color="#cbc3bf" stop-opacity="0.05"/><stop offset="1" stop-color="#e9e2df" stop-opacity="0.5"/></linearGradient>
<clipPath id="cF1"><rect x="467" y="2053.8" width="390" height="148.5"/></clipPath>
<g clip-path="url(#cF1)">
<rect x="467.0" y="2053.8" width="390.0" height="148.5" fill="#c1b7b2" stroke="none" stroke-width="0" />
<rect x="467.0" y="2053.8" width="390.0" height="148.5" fill="#000" stroke="none" stroke-width="0" filter="url(#nzBlot)" opacity="0.14"/>
<rect x="467" y="2053.8" width="390" height="148.5" fill="url(#gF1)"/>
<g filter="url(#b3)"><rect x="518.0" y="2118.5" width="142.0" height="45.0" rx="40.0" ry="22.5" fill="#0b0b0b" opacity="1.0"/></g>
<g filter="url(#b5)"><rect x="698.5" y="2136.0" width="112.0" height="22.0" rx="11.0" ry="11.0" fill="#8c8c8c" opacity="0.75" transform="rotate(0 754.5 2147.0)"/></g>
</g>
<rect x="469.0" y="2055.8" width="386.0" height="144.5" fill="none" stroke="#0a0a0a" stroke-width="4" />
<clipPath id="cF2"><rect x="467" y="2254.8" width="390" height="148.5"/></clipPath>
<g clip-path="url(#cF2)">
<rect x="467.0" y="2254.8" width="390.0" height="148.5" fill="#bab0ab" stroke="none" stroke-width="0" />
<rect x="467.0" y="2254.8" width="390.0" height="148.5" fill="#000" stroke="none" stroke-width="0" filter="url(#nzBlot)" opacity="0.14"/>
<rect x="467" y="2254.8" width="390" height="148.5" fill="url(#gF1)" opacity="0.6"/>
<g filter="url(#b3)"><rect x="513.0" y="2319.0" width="130.0" height="17.0" rx="8.5" ry="8.5" fill="#4a4a4a" opacity="0.8" transform="rotate(-1.5 578.0 2327.5)"/><rect x="512.0" y="2358.5" width="132.0" height="21.0" rx="10.5" ry="10.5" fill="#2a2a2a" opacity="0.92" transform="rotate(-1.5 578.0 2369.0)"/><rect x="686.0" y="2310.0" width="140.0" height="23.0" rx="11.5" ry="11.5" fill="#222" opacity="0.95" transform="rotate(-1 756.0 2321.5)"/><rect x="686.0" y="2352.5" width="140.0" height="27.0" rx="13.5" ry="13.5" fill="#0e0e0e" opacity="1" transform="rotate(-1 756.0 2366.0)"/></g>
<g filter="url(#b8)"><rect x="512.0" y="2328.0" width="132.0" height="40.0" rx="20.0" ry="20.0" fill="#777" opacity="0.45" transform="rotate(0 578.0 2348.0)"/><rect x="686.0" y="2322.0" width="140.0" height="44.0" rx="22.0" ry="22.0" fill="#555" opacity="0.55" transform="rotate(0 756.0 2344.0)"/></g>
</g>
<rect x="469.0" y="2256.8" width="386.0" height="144.5" fill="none" stroke="#0a0a0a" stroke-width="4" />
<clipPath id="cF3"><rect x="467" y="2452.8" width="390" height="148.5"/></clipPath>
<g clip-path="url(#cF3)">
<rect x="467.0" y="2452.8" width="390.0" height="148.5" fill="#cbc3bf" stroke="none" stroke-width="0" />
<rect x="467.0" y="2452.8" width="390.0" height="148.5" fill="#000" stroke="none" stroke-width="0" filter="url(#nzBlot)" opacity="0.14"/>
<rect x="467" y="2452.8" width="390" height="148.5" fill="url(#gF3)"/>
<g filter="url(#b3)"><rect x="500.0" y="2507.5" width="160.0" height="52.0" rx="42.0" ry="26.0" fill="#0a0a0a" opacity="1.0"/><rect x="686.0" y="2510.0" width="156.0" height="47.0" rx="42.0" ry="23.5" fill="#0c0c0c" opacity="1.0"/></g>
</g>
<rect x="469.0" y="2454.8" width="386.0" height="144.5" fill="none" stroke="#0a0a0a" stroke-width="4" />
<text x="416.0" y="2158.0" font-family='"Liberation Sans", sans-serif' font-size="54.5" font-weight="bold" text-anchor="end" fill="#111" stroke="#111" stroke-width="1.3">MMP-2</text>
<text x="420.6" y="2351.0" font-family='"Liberation Sans", sans-serif' font-size="55" font-weight="bold" text-anchor="end" fill="#111" stroke="#111" stroke-width="1.3">E-cadherin</text>
<text x="420.6" y="2551.0" font-family='"Liberation Sans", sans-serif' font-size="55" font-weight="bold" text-anchor="end" fill="#111" stroke="#111" stroke-width="1.3">β-actin</text>
<text x="941.0" y="2169.0" font-family='"Liberation Sans", sans-serif' font-size="54.5" font-weight="normal" text-anchor="start" fill="#111" stroke="#111" stroke-width="0.9">74</text>
<text x="938.0" y="2367.5" font-family='"Liberation Sans", sans-serif' font-size="54.5" font-weight="normal" text-anchor="start" fill="#111" stroke="#111" stroke-width="0.9">135</text>
<text x="943.0" y="2555.5" font-family='"Liberation Sans", sans-serif' font-size="54.5" font-weight="normal" text-anchor="start" fill="#111" stroke="#111" stroke-width="0.9">43</text>
<text x="1208.0" y="1783.0" font-family='"Liberation Serif", serif' font-size="69" font-weight="normal" text-anchor="start" fill="#000" >(G)</text>
<rect x="1592.5" y="2136.9" width="121.9" height="433.8" fill="#bdcfe8" stroke="none" stroke-width="0" />
<path d="M1594.4 2570.7L1594.4 2138.8L1712.5 2138.8L1712.5 2570.7" fill="none" stroke="#8ea3cb" stroke-width="3.8" stroke-linejoin="miter"/>
<path d="M1598.2 2570.7L1598.2 2142.6L1708.7 2142.6L1708.7 2570.7" fill="none" stroke="#6b87b8" stroke-width="3.8" stroke-linejoin="miter"/>
<rect x="1778.0" y="2424.0" width="122.6" height="146.7" fill="#d0c4e0" stroke="none" stroke-width="0" />
<path d="M1779.9 2570.7L1779.9 2425.9L1898.7 2425.9L1898.7 2570.7" fill="none" stroke="#a08fc4" stroke-width="3.8" stroke-linejoin="miter"/>
<path d="M1783.7 2570.7L1783.7 2429.7L1894.9 2429.7L1894.9 2570.7" fill="none" stroke="#846eb0" stroke-width="3.8" stroke-linejoin="miter"/>
<line x1="1530.6" y1="1921.5" x2="1530.6" y2="2573.2" stroke="#000" stroke-width="5" />
<line x1="1528.1" y1="2570.7" x2="1965.0" y2="2570.7" stroke="#000" stroke-width="5" />
<line x1="1503.6" y1="1924.0" x2="1530.6" y2="1924.0" stroke="#000" stroke-width="5" />
<text x="1496.6" y="1940.5" font-family='"Liberation Sans", sans-serif' font-size="46" font-weight="bold" text-anchor="end" fill="#000" >1.5</text>
<line x1="1503.6" y1="2139.6" x2="1530.6" y2="2139.6" stroke="#000" stroke-width="5" />
<text x="1496.6" y="2156.1" font-family='"Liberation Sans", sans-serif' font-size="46" font-weight="bold" text-anchor="end" fill="#000" >1.0</text>
<line x1="1503.6" y1="2355.1" x2="1530.6" y2="2355.1" stroke="#000" stroke-width="5" />
<text x="1496.6" y="2371.6" font-family='"Liberation Sans", sans-serif' font-size="46" font-weight="bold" text-anchor="end" fill="#000" >0.5</text>
<line x1="1503.6" y1="2570.7" x2="1530.6" y2="2570.7" stroke="#000" stroke-width="5" />
<text x="1496.6" y="2587.2" font-family='"Liberation Sans", sans-serif' font-size="46" font-weight="bold" text-anchor="end" fill="#000" >0.0</text>
<line x1="1653.5" y1="2051.5" x2="1653.5" y2="2138.0" stroke="#8fa3c9" stroke-width="2" />
<line x1="1623.5" y1="2051.5" x2="1683.5" y2="2051.5" stroke="#8fa3c9" stroke-width="2" />
<line x1="1839.3" y1="2386.9" x2="1839.3" y2="2425.0" stroke="#a08cc8" stroke-width="2" />
<line x1="1809.3" y1="2386.9" x2="1869.3" y2="2386.9" stroke="#a08cc8" stroke-width="2" />
<polyline points="1653.7,2012.5 1653.7,1974.0 1838.7,1974.0 1838.7,2012.5" fill="none" stroke="#000" stroke-width="2" stroke-linejoin="miter"/>
<path d="M1729.2 1926.2L1729.2 1943.8M1721.7 1930.6L1736.8 1939.4M1736.8 1930.6L1721.7 1939.4M1758.8 1926.2L1758.8 1943.8M1751.2 1930.6L1766.3 1939.4M1766.3 1930.6L1751.2 1939.4" stroke="#000" stroke-width="6.5" stroke-linecap="round" fill="none"/>
<line x1="1653.7" y1="2570.7" x2="1653.7" y2="2597.0" stroke="#000" stroke-width="5" />
<line x1="1838.7" y1="2570.7" x2="1838.7" y2="2597.0" stroke="#000" stroke-width="5" />
<text x="1665.0" y="2637.0" font-family='"Liberation Sans", sans-serif' font-size="48" font-weight="bold" text-anchor="end" fill="#000" transform="rotate(-45 1665.0 2637.0)" >NC</text>
<text x="1850.0" y="2637.0" font-family='"Liberation Sans", sans-serif' font-size="48" font-weight="bold" text-anchor="end" fill="#000" transform="rotate(-45 1850.0 2637.0)" >OE-Beclin 2</text>
<text x="1397.7" y="2250.0" font-family='"Liberation Sans", sans-serif' font-size="53" font-weight="bold" text-anchor="middle" fill="#000" transform="rotate(-90 1397.7 2250.0)" letter-spacing="1.6">MMP 2/β-actin</text>
<text x="2216.0" y="1783.0" font-family='"Liberation Serif", serif' font-size="69" font-weight="normal" text-anchor="start" fill="#000" >(H)</text>
<rect x="2590.0" y="2244.5" width="121.8" height="323.5" fill="#bdcfe8" stroke="none" stroke-width="0" />
<path d="M2591.9 2568.0L2591.9 2246.4L2709.9 2246.4L2709.9 2568.0" fill="none" stroke="#8ea3cb" stroke-width="3.8" stroke-linejoin="miter"/>
<path d="M2595.7 2568.0L2595.7 2250.2L2706.1 2250.2L2706.1 2568.0" fill="none" stroke="#6b87b8" stroke-width="3.8" stroke-linejoin="miter"/>
<rect x="2776.0" y="2031.0" width="122.7" height="537.0" fill="#d0c4e0" stroke="none" stroke-width="0" />
<path d="M2777.9 2568.0L2777.9 2032.9L2896.8 2032.9L2896.8 2568.0" fill="none" stroke="#a08fc4" stroke-width="3.8" stroke-linejoin="miter"/>
<path d="M2781.7 2568.0L2781.7 2036.7L2893.0 2036.7L2893.0 2568.0" fill="none" stroke="#846eb0" stroke-width="3.8" stroke-linejoin="miter"/>
<line x1="2527.4" y1="1914.0" x2="2527.4" y2="2570.5" stroke="#000" stroke-width="5" />
<line x1="2524.9" y1="2568.0" x2="2963.6" y2="2568.0" stroke="#000" stroke-width="5" />
<line x1="2500.4" y1="1916.6" x2="2527.4" y2="1916.6" stroke="#000" stroke-width="5" />
<text x="2493.4" y="1933.1" font-family='"Liberation Sans", sans-serif' font-size="46" font-weight="bold" text-anchor="end" fill="#000" >2.0</text>
<line x1="2500.4" y1="2079.4" x2="2527.4" y2="2079.4" stroke="#000" stroke-width="5" />
<text x="2493.4" y="2095.9" font-family='"Liberation Sans", sans-serif' font-size="46" font-weight="bold" text-anchor="end" fill="#000" >1.5</text>
<line x1="2500.4" y1="2242.3" x2="2527.4" y2="2242.3" stroke="#000" stroke-width="5" />
<text x="2493.4" y="2258.8" font-family='"Liberation Sans", sans-serif' font-size="46" font-weight="bold" text-anchor="end" fill="#000" >1.0</text>
<line x1="2500.4" y1="2405.1" x2="2527.4" y2="2405.1" stroke="#000" stroke-width="5" />
<text x="2493.4" y="2421.6" font-family='"Liberation Sans", sans-serif' font-size="46" font-weight="bold" text-anchor="end" fill="#000" >0.5</text>
<line x1="2500.4" y1="2568.0" x2="2527.4" y2="2568.0" stroke="#000" stroke-width="5" />
<text x="2493.4" y="2584.5" font-family='"Liberation Sans", sans-serif' font-size="46" font-weight="bold" text-anchor="end" fill="#000" >0.0</text>
<line x1="2650.6" y1="2202.4" x2="2650.6" y2="2246.0" stroke="#8fa3c9" stroke-width="2" />
<line x1="2620.1" y1="2202.4" x2="2681.1" y2="2202.4" stroke="#8fa3c9" stroke-width="2" />
<line x1="2836.8" y1="2002.0" x2="2836.8" y2="2032.0" stroke="#a08cc8" stroke-width="2" />
<line x1="2806.3" y1="2002.0" x2="2867.3" y2="2002.0" stroke="#a08cc8" stroke-width="2" />
<polyline points="2650.6,1963.0 2650.6,1925.0 2836.8,1925.0 2836.8,1963.0" fill="none" stroke="#000" stroke-width="2" stroke-linejoin="miter"/>
<path d="M2727.2 1876.8L2727.2 1894.4M2719.7 1881.2L2734.8 1890.0M2734.8 1881.2L2719.7 1890.0M2756.8 1876.8L2756.8 1894.4M2749.2 1881.2L2764.3 1890.0M2764.3 1881.2L2749.2 1890.0" stroke="#000" stroke-width="6.5" stroke-linecap="round" fill="none"/>
<line x1="2650.6" y1="2568.0" x2="2650.6" y2="2594.5" stroke="#000" stroke-width="5" />
<line x1="2836.8" y1="2568.0" x2="2836.8" y2="2594.5" stroke="#000" stroke-width="5" />
<text x="2662.0" y="2634.0" font-family='"Liberation Sans", sans-serif' font-size="48" font-weight="bold" text-anchor="end" fill="#000" transform="rotate(-45 2662.0 2634.0)" >NC</text>
<text x="2848.0" y="2634.0" font-family='"Liberation Sans", sans-serif' font-size="48" font-weight="bold" text-anchor="end" fill="#000" transform="rotate(-45 2848.0 2634.0)" >OE-Beclin 2</text>
<text x="2395.8" y="2239.0" font-family='"Liberation Sans", sans-serif' font-size="56" font-weight="bold" text-anchor="middle" fill="#000" transform="rotate(-90 2395.8 2239.0)" letter-spacing="2.0">E-cadherin/β-actin</text>
</svg></body></html>
